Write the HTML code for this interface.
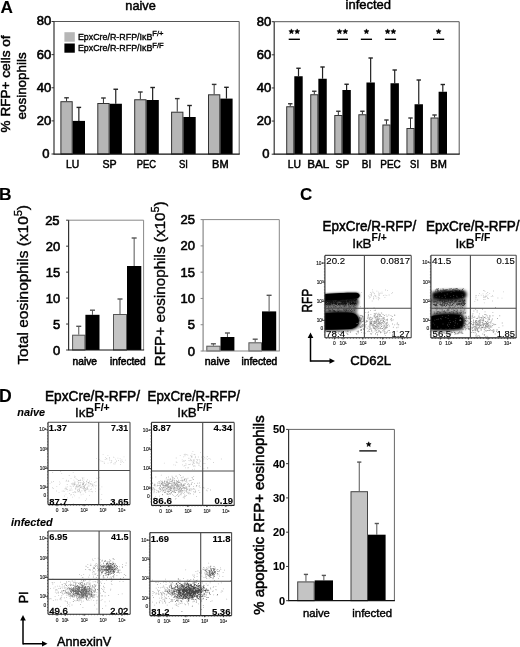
<!DOCTYPE html>
<html><head><meta charset="utf-8"><style>
html,body{margin:0;padding:0;background:#fff;overflow:hidden;}
text{stroke:#000;stroke-width:0.35px;}
text[font-weight=bold]{stroke-width:0.1px;}
svg{display:block;filter:grayscale(1) blur(0.4px);font-family:"Liberation Sans",sans-serif;}
</style></head><body>
<svg width="520" height="647" viewBox="0 0 520 647">
<defs><filter id="bl" x="-50%" y="-50%" width="200%" height="200%"><feGaussianBlur stdDeviation="1.1"/></filter><filter id="bl2" x="-50%" y="-50%" width="200%" height="200%"><feGaussianBlur stdDeviation="1.6"/></filter><linearGradient id="g1" x1="0" y1="0" x2="0" y2="1"><stop offset="0" stop-color="#111"/><stop offset="0.3" stop-color="#3a3a3a"/><stop offset="0.62" stop-color="#8a8a8a"/><stop offset="1" stop-color="#888"/></linearGradient><linearGradient id="g2" x1="0" y1="0" x2="0" y2="1"><stop offset="0" stop-color="#555"/><stop offset="0.35" stop-color="#999"/><stop offset="0.7" stop-color="#bbb"/><stop offset="1" stop-color="#aaa"/></linearGradient><clipPath id="c1"><rect x="324.9" y="255.4" width="86.30000000000001" height="82.4"/></clipPath><clipPath id="c2"><rect x="430.9" y="255.3" width="85.30000000000007" height="82.59999999999997"/></clipPath><clipPath id="c3"><rect x="48.0" y="422.3" width="82.0" height="82.30000000000001"/></clipPath><clipPath id="c4"><rect x="151.5" y="422.4" width="82.69999999999999" height="83.0"/></clipPath><clipPath id="c5"><rect x="48.0" y="531.0" width="82.19999999999999" height="83.20000000000005"/></clipPath><clipPath id="c6"><rect x="149.9" y="532.6" width="81.69999999999999" height="83.0"/></clipPath></defs>
<rect width="520" height="647" fill="#fff"/>
<text x="0.4" y="13.4" font-size="17.2" font-weight="bold">A</text>
<text x="125.3" y="9.8" font-size="13.4" textLength="30.5" lengthAdjust="spacingAndGlyphs" style="stroke-width:0.48px">naive</text>
<text x="345.5" y="9.2" font-size="13.4" textLength="45.6" lengthAdjust="spacingAndGlyphs" style="stroke-width:0.48px">infected</text>
<text transform="translate(10.2,132.4) rotate(-90)" font-size="13.6" textLength="97" lengthAdjust="spacingAndGlyphs" style="stroke-width:0.49px">% RFP+ cells of</text>
<text transform="translate(25.8,119.4) rotate(-90)" font-size="13.6" textLength="67" lengthAdjust="spacingAndGlyphs" style="stroke-width:0.49px">eosinophils</text>
<line x1="66.55000000000001" y1="101.2" x2="66.55000000000001" y2="97.8" stroke="#333" stroke-width="1"/>
<line x1="64.25000000000001" y1="97.8" x2="68.85000000000001" y2="97.8" stroke="#333" stroke-width="1.4"/>
<rect x="60.900000000000006" y="101.7" width="11.299999999999997" height="52.3" fill="#b6b6b6" stroke="#333" stroke-width="1"/>
<line x1="78.85" y1="120.9" x2="78.85" y2="107.4" stroke="#222" stroke-width="1.2"/>
<line x1="76.55" y1="107.4" x2="81.14999999999999" y2="107.4" stroke="#222" stroke-width="1.4"/>
<rect x="72.7" y="120.9" width="12.299999999999997" height="33.099999999999994" fill="#000"/>
<line x1="103.44999999999999" y1="103" x2="103.44999999999999" y2="98" stroke="#333" stroke-width="1"/>
<line x1="101.14999999999999" y1="98" x2="105.74999999999999" y2="98" stroke="#333" stroke-width="1.4"/>
<rect x="97.8" y="103.5" width="11.299999999999997" height="50.5" fill="#b6b6b6" stroke="#333" stroke-width="1"/>
<line x1="115.75" y1="103.75" x2="115.75" y2="89.25" stroke="#222" stroke-width="1.2"/>
<line x1="113.45" y1="89.25" x2="118.05" y2="89.25" stroke="#222" stroke-width="1.4"/>
<rect x="109.6" y="103.75" width="12.299999999999997" height="50.25" fill="#000"/>
<line x1="140.35" y1="99.25" x2="140.35" y2="92" stroke="#333" stroke-width="1"/>
<line x1="138.04999999999998" y1="92" x2="142.65" y2="92" stroke="#333" stroke-width="1.4"/>
<rect x="134.7" y="99.75" width="11.300000000000011" height="54.25" fill="#b6b6b6" stroke="#333" stroke-width="1"/>
<line x1="152.65" y1="100" x2="152.65" y2="87.5" stroke="#222" stroke-width="1.2"/>
<line x1="150.35" y1="87.5" x2="154.95000000000002" y2="87.5" stroke="#222" stroke-width="1.4"/>
<rect x="146.5" y="100" width="12.300000000000011" height="54" fill="#000"/>
<line x1="177.24999999999997" y1="111.7" x2="177.24999999999997" y2="98.6" stroke="#333" stroke-width="1"/>
<line x1="174.94999999999996" y1="98.6" x2="179.54999999999998" y2="98.6" stroke="#333" stroke-width="1.4"/>
<rect x="171.59999999999997" y="112.2" width="11.300000000000011" height="41.8" fill="#b6b6b6" stroke="#333" stroke-width="1"/>
<line x1="189.54999999999998" y1="117" x2="189.54999999999998" y2="105.5" stroke="#222" stroke-width="1.2"/>
<line x1="187.24999999999997" y1="105.5" x2="191.85" y2="105.5" stroke="#222" stroke-width="1.4"/>
<rect x="183.39999999999998" y="117" width="12.300000000000011" height="37" fill="#000"/>
<line x1="214.15" y1="94.3" x2="214.15" y2="84.4" stroke="#333" stroke-width="1"/>
<line x1="211.85" y1="84.4" x2="216.45000000000002" y2="84.4" stroke="#333" stroke-width="1.4"/>
<rect x="208.5" y="94.8" width="11.300000000000011" height="59.2" fill="#b6b6b6" stroke="#333" stroke-width="1"/>
<line x1="226.45000000000002" y1="98.6" x2="226.45000000000002" y2="87.3" stroke="#222" stroke-width="1.2"/>
<line x1="224.15" y1="87.3" x2="228.75000000000003" y2="87.3" stroke="#222" stroke-width="1.4"/>
<rect x="220.3" y="98.6" width="12.300000000000011" height="55.400000000000006" fill="#000"/>
<line x1="54" y1="21.5" x2="239.2" y2="21.5" stroke="#555" stroke-width="1"/>
<line x1="239.2" y1="21.5" x2="239.2" y2="154.2" stroke="#555" stroke-width="1"/>
<line x1="54" y1="21.5" x2="54" y2="154.2" stroke="#333" stroke-width="1.2"/>
<line x1="53.5" y1="154.2" x2="239.7" y2="154.2" stroke="#111" stroke-width="1.2"/>
<line x1="51.5" y1="154.0" x2="54" y2="154.0" stroke="#333" stroke-width="1"/>
<line x1="51.5" y1="120.875" x2="54" y2="120.875" stroke="#333" stroke-width="1"/>
<line x1="51.5" y1="87.75" x2="54" y2="87.75" stroke="#333" stroke-width="1"/>
<line x1="51.5" y1="54.625" x2="54" y2="54.625" stroke="#333" stroke-width="1"/>
<line x1="51.5" y1="21.5" x2="54" y2="21.5" stroke="#333" stroke-width="1"/>
<text x="49.5" y="157.9" font-size="13" text-anchor="end" style="stroke-width:0.6px">0</text>
<text x="51.2" y="124.775" font-size="13" text-anchor="end" style="stroke-width:0.6px">20</text>
<text x="51.2" y="91.65" font-size="13" text-anchor="end" style="stroke-width:0.6px">40</text>
<text x="51.2" y="58.525" font-size="13" text-anchor="end" style="stroke-width:0.6px">60</text>
<text x="51.2" y="25.4" font-size="13" text-anchor="end" style="stroke-width:0.6px">80</text>
<text x="72.7" y="167.8" font-size="11.2" text-anchor="middle" textLength="13.2" lengthAdjust="spacingAndGlyphs" style="stroke-width:0.5px">LU</text>
<text x="109.6" y="167.8" font-size="11.2" text-anchor="middle" textLength="14.2" lengthAdjust="spacingAndGlyphs" style="stroke-width:0.5px">SP</text>
<text x="146.5" y="167.8" font-size="11.2" text-anchor="middle" textLength="19.3" lengthAdjust="spacingAndGlyphs" style="stroke-width:0.5px">PEC</text>
<text x="183.39999999999998" y="167.8" font-size="11.2" text-anchor="middle" textLength="9" lengthAdjust="spacingAndGlyphs" style="stroke-width:0.5px">SI</text>
<text x="220.3" y="167.8" font-size="11.2" text-anchor="middle" textLength="16.5" lengthAdjust="spacingAndGlyphs" style="stroke-width:0.5px">BM</text>
<rect x="64.4" y="32.2" width="10.4" height="9.5" fill="#b6b6b6"/>
<rect x="64.4" y="43.5" width="10.4" height="9.2" fill="#000"/>
<text x="77.9" y="39.5" font-size="8.9">EpxCre/R-RFP/I&#954;B<tspan dy="-3.1" font-size="7.6">F/+</tspan></text>
<text x="77.9" y="51.1" font-size="8.9">EpxCre/R-RFP/I&#954;B<tspan dy="-3.1" font-size="7.6">F/F</tspan></text>
<line x1="290.25" y1="106.25" x2="290.25" y2="103.75" stroke="#333" stroke-width="1"/>
<line x1="288.05" y1="103.75" x2="292.45" y2="103.75" stroke="#333" stroke-width="1.4"/>
<rect x="286.7" y="106.75" width="7.100000000000023" height="47.25" fill="#b6b6b6" stroke="#333" stroke-width="1"/>
<line x1="298.5" y1="76.25" x2="298.5" y2="68.25" stroke="#222" stroke-width="1.2"/>
<line x1="296.3" y1="68.25" x2="300.7" y2="68.25" stroke="#222" stroke-width="1.4"/>
<rect x="294.3" y="76.25" width="8.399999999999977" height="77.75" fill="#000"/>
<line x1="314.3" y1="94.25" x2="314.3" y2="91.25" stroke="#333" stroke-width="1"/>
<line x1="312.1" y1="91.25" x2="316.5" y2="91.25" stroke="#333" stroke-width="1.4"/>
<rect x="310.75" y="94.75" width="7.100000000000023" height="59.25" fill="#b6b6b6" stroke="#333" stroke-width="1"/>
<line x1="322.55" y1="78.75" x2="322.55" y2="67" stroke="#222" stroke-width="1.2"/>
<line x1="320.35" y1="67" x2="324.75" y2="67" stroke="#222" stroke-width="1.4"/>
<rect x="318.35" y="78.75" width="8.399999999999977" height="75.25" fill="#000"/>
<line x1="338.35" y1="115" x2="338.35" y2="111.25" stroke="#333" stroke-width="1"/>
<line x1="336.15000000000003" y1="111.25" x2="340.55" y2="111.25" stroke="#333" stroke-width="1.4"/>
<rect x="334.8" y="115.5" width="7.100000000000023" height="38.5" fill="#b6b6b6" stroke="#333" stroke-width="1"/>
<line x1="346.6" y1="90" x2="346.6" y2="84.25" stroke="#222" stroke-width="1.2"/>
<line x1="344.40000000000003" y1="84.25" x2="348.8" y2="84.25" stroke="#222" stroke-width="1.4"/>
<rect x="342.40000000000003" y="90" width="8.399999999999977" height="64" fill="#000"/>
<line x1="362.40000000000003" y1="114.25" x2="362.40000000000003" y2="111.25" stroke="#333" stroke-width="1"/>
<line x1="360.20000000000005" y1="111.25" x2="364.6" y2="111.25" stroke="#333" stroke-width="1.4"/>
<rect x="358.85" y="114.75" width="7.100000000000023" height="39.25" fill="#b6b6b6" stroke="#333" stroke-width="1"/>
<line x1="370.65000000000003" y1="82.5" x2="370.65000000000003" y2="58" stroke="#222" stroke-width="1.2"/>
<line x1="368.45000000000005" y1="58" x2="372.85" y2="58" stroke="#222" stroke-width="1.4"/>
<rect x="366.45000000000005" y="82.5" width="8.399999999999977" height="71.5" fill="#000"/>
<line x1="386.45" y1="124.5" x2="386.45" y2="120" stroke="#333" stroke-width="1"/>
<line x1="384.25" y1="120" x2="388.65" y2="120" stroke="#333" stroke-width="1.4"/>
<rect x="382.9" y="125.0" width="7.100000000000023" height="29.0" fill="#b6b6b6" stroke="#333" stroke-width="1"/>
<line x1="394.7" y1="83.25" x2="394.7" y2="70" stroke="#222" stroke-width="1.2"/>
<line x1="392.5" y1="70" x2="396.9" y2="70" stroke="#222" stroke-width="1.4"/>
<rect x="390.5" y="83.25" width="8.399999999999977" height="70.75" fill="#000"/>
<line x1="410.5" y1="128" x2="410.5" y2="118" stroke="#333" stroke-width="1"/>
<line x1="408.3" y1="118" x2="412.7" y2="118" stroke="#333" stroke-width="1.4"/>
<rect x="406.95" y="128.5" width="7.100000000000023" height="25.5" fill="#b6b6b6" stroke="#333" stroke-width="1"/>
<line x1="418.75" y1="104.25" x2="418.75" y2="80" stroke="#222" stroke-width="1.2"/>
<line x1="416.55" y1="80" x2="420.95" y2="80" stroke="#222" stroke-width="1.4"/>
<rect x="414.55" y="104.25" width="8.399999999999977" height="49.75" fill="#000"/>
<line x1="434.55" y1="117.5" x2="434.55" y2="115" stroke="#333" stroke-width="1"/>
<line x1="432.35" y1="115" x2="436.75" y2="115" stroke="#333" stroke-width="1.4"/>
<rect x="431.0" y="118.0" width="7.100000000000023" height="36.0" fill="#b6b6b6" stroke="#333" stroke-width="1"/>
<line x1="442.8" y1="91.75" x2="442.8" y2="84.5" stroke="#222" stroke-width="1.2"/>
<line x1="440.6" y1="84.5" x2="445.0" y2="84.5" stroke="#222" stroke-width="1.4"/>
<rect x="438.6" y="91.75" width="8.399999999999977" height="62.25" fill="#000"/>
<line x1="274.2" y1="21.7" x2="459.2" y2="21.7" stroke="#555" stroke-width="1"/>
<line x1="459.2" y1="21.7" x2="459.2" y2="154.2" stroke="#555" stroke-width="1"/>
<line x1="274.2" y1="21.7" x2="274.2" y2="154.2" stroke="#333" stroke-width="1.2"/>
<line x1="273.7" y1="154.2" x2="459.7" y2="154.2" stroke="#111" stroke-width="1.2"/>
<line x1="271.7" y1="154.2" x2="274.2" y2="154.2" stroke="#333" stroke-width="1"/>
<line x1="271.7" y1="121.07499999999999" x2="274.2" y2="121.07499999999999" stroke="#333" stroke-width="1"/>
<line x1="271.7" y1="87.94999999999999" x2="274.2" y2="87.94999999999999" stroke="#333" stroke-width="1"/>
<line x1="271.7" y1="54.82499999999999" x2="274.2" y2="54.82499999999999" stroke="#333" stroke-width="1"/>
<line x1="271.7" y1="21.69999999999999" x2="274.2" y2="21.69999999999999" stroke="#333" stroke-width="1"/>
<text x="269.5" y="158.1" font-size="13" text-anchor="end" style="stroke-width:0.6px">0</text>
<text x="271.2" y="124.975" font-size="13" text-anchor="end" style="stroke-width:0.6px">20</text>
<text x="271.2" y="91.85" font-size="13" text-anchor="end" style="stroke-width:0.6px">40</text>
<text x="271.2" y="58.72499999999999" font-size="13" text-anchor="end" style="stroke-width:0.6px">60</text>
<text x="271.2" y="25.599999999999987" font-size="13" text-anchor="end" style="stroke-width:0.6px">80</text>
<text x="294.3" y="167.6" font-size="11.2" text-anchor="middle" textLength="13.2" lengthAdjust="spacingAndGlyphs" style="stroke-width:0.5px">LU</text>
<text x="318.35" y="167.6" font-size="11.2" text-anchor="middle" textLength="22" lengthAdjust="spacingAndGlyphs" style="stroke-width:0.5px">BAL</text>
<text x="342.40000000000003" y="167.6" font-size="11.2" text-anchor="middle" textLength="13.6" lengthAdjust="spacingAndGlyphs" style="stroke-width:0.5px">SP</text>
<text x="366.45000000000005" y="167.6" font-size="11.2" text-anchor="middle" textLength="9.5" lengthAdjust="spacingAndGlyphs" style="stroke-width:0.5px">BI</text>
<text x="390.5" y="167.6" font-size="11.2" text-anchor="middle" textLength="20.5" lengthAdjust="spacingAndGlyphs" style="stroke-width:0.5px">PEC</text>
<text x="414.55" y="167.6" font-size="11.2" text-anchor="middle" textLength="9" lengthAdjust="spacingAndGlyphs" style="stroke-width:0.5px">SI</text>
<text x="438.6" y="167.6" font-size="11.2" text-anchor="middle" textLength="16.5" lengthAdjust="spacingAndGlyphs" style="stroke-width:0.5px">BM</text>
<polygon points="291.40,28.90 292.13,30.59 293.97,30.77 292.59,31.99 292.99,33.78 291.40,32.85 289.81,33.78 290.21,31.99 288.83,30.77 290.67,30.59" fill="#000" stroke="#000" stroke-width="0.5" stroke-linejoin="round"/>
<polygon points="297.20,28.90 297.93,30.59 299.77,30.77 298.39,31.99 298.79,33.78 297.20,32.85 295.61,33.78 296.01,31.99 294.63,30.77 296.47,30.59" fill="#000" stroke="#000" stroke-width="0.5" stroke-linejoin="round"/>
<line x1="288.7" y1="39.3" x2="299.90000000000003" y2="39.3" stroke="#000" stroke-width="1.4"/>
<polygon points="339.50,28.90 340.23,30.59 342.07,30.77 340.69,31.99 341.09,33.78 339.50,32.85 337.91,33.78 338.31,31.99 336.93,30.77 338.77,30.59" fill="#000" stroke="#000" stroke-width="0.5" stroke-linejoin="round"/>
<polygon points="345.30,28.90 346.03,30.59 347.87,30.77 346.49,31.99 346.89,33.78 345.30,32.85 343.71,33.78 344.11,31.99 342.73,30.77 344.57,30.59" fill="#000" stroke="#000" stroke-width="0.5" stroke-linejoin="round"/>
<line x1="336.8" y1="39.3" x2="348.00000000000006" y2="39.3" stroke="#000" stroke-width="1.4"/>
<polygon points="366.45,28.90 367.18,30.59 369.02,30.77 367.64,31.99 368.04,33.78 366.45,32.85 364.86,33.78 365.26,31.99 363.88,30.77 365.72,30.59" fill="#000" stroke="#000" stroke-width="0.5" stroke-linejoin="round"/>
<line x1="360.85" y1="39.3" x2="372.05000000000007" y2="39.3" stroke="#000" stroke-width="1.4"/>
<polygon points="387.60,28.90 388.33,30.59 390.17,30.77 388.79,31.99 389.19,33.78 387.60,32.85 386.01,33.78 386.41,31.99 385.03,30.77 386.87,30.59" fill="#000" stroke="#000" stroke-width="0.5" stroke-linejoin="round"/>
<polygon points="393.40,28.90 394.13,30.59 395.97,30.77 394.59,31.99 394.99,33.78 393.40,32.85 391.81,33.78 392.21,31.99 390.83,30.77 392.67,30.59" fill="#000" stroke="#000" stroke-width="0.5" stroke-linejoin="round"/>
<line x1="384.9" y1="39.3" x2="396.1" y2="39.3" stroke="#000" stroke-width="1.4"/>
<polygon points="438.60,28.90 439.33,30.59 441.17,30.77 439.79,31.99 440.19,33.78 438.60,32.85 437.01,33.78 437.41,31.99 436.03,30.77 437.87,30.59" fill="#000" stroke="#000" stroke-width="0.5" stroke-linejoin="round"/>
<line x1="433.0" y1="39.3" x2="444.20000000000005" y2="39.3" stroke="#000" stroke-width="1.4"/>
<text x="-1.0" y="200.3" font-size="17.4" font-weight="bold">B</text>
<line x1="78.75" y1="334.7" x2="78.75" y2="326.3" stroke="#555" stroke-width="1"/>
<line x1="76.25" y1="326.3" x2="81.25" y2="326.3" stroke="#555" stroke-width="1.4"/>
<rect x="72.6" y="335.2" width="12.300000000000011" height="14.800000000000011" fill="#c4c4c4" stroke="#555" stroke-width="1"/>
<line x1="92.45" y1="314.8" x2="92.45" y2="310.2" stroke="#555" stroke-width="1"/>
<line x1="89.95" y1="310.2" x2="94.95" y2="310.2" stroke="#555" stroke-width="1.4"/>
<rect x="85.4" y="314.8" width="14.099999999999994" height="35.19999999999999" fill="#000"/>
<line x1="120.0" y1="314" x2="120.0" y2="299" stroke="#555" stroke-width="1"/>
<line x1="117.5" y1="299" x2="122.5" y2="299" stroke="#555" stroke-width="1.4"/>
<rect x="113.5" y="314.5" width="13" height="35.5" fill="#c4c4c4" stroke="#555" stroke-width="1"/>
<line x1="134.15" y1="266" x2="134.15" y2="238" stroke="#555" stroke-width="1"/>
<line x1="131.65" y1="238" x2="136.65" y2="238" stroke="#555" stroke-width="1.4"/>
<rect x="127" y="266" width="14.300000000000011" height="84" fill="#000"/>
<line x1="68.6" y1="220.2" x2="143.6" y2="220.2" stroke="#888" stroke-width="1"/>
<line x1="143.6" y1="220.2" x2="143.6" y2="350" stroke="#888" stroke-width="1"/>
<line x1="68.6" y1="220.2" x2="68.6" y2="350" stroke="#333" stroke-width="1.2"/>
<line x1="68.1" y1="350" x2="144.1" y2="350" stroke="#111" stroke-width="1.2"/>
<line x1="66.1" y1="350.0" x2="68.6" y2="350.0" stroke="#333" stroke-width="1"/>
<line x1="66.1" y1="324.04" x2="68.6" y2="324.04" stroke="#333" stroke-width="1"/>
<line x1="66.1" y1="298.08" x2="68.6" y2="298.08" stroke="#333" stroke-width="1"/>
<line x1="66.1" y1="272.12" x2="68.6" y2="272.12" stroke="#333" stroke-width="1"/>
<line x1="66.1" y1="246.16" x2="68.6" y2="246.16" stroke="#333" stroke-width="1"/>
<line x1="66.1" y1="220.2" x2="68.6" y2="220.2" stroke="#333" stroke-width="1"/>
<text x="60.2" y="354.8" font-size="13" text-anchor="end" style="stroke-width:0.6px">0</text>
<text x="60.2" y="328.84000000000003" font-size="13" text-anchor="end" style="stroke-width:0.6px">5</text>
<text x="60.2" y="302.88" font-size="13" text-anchor="end" style="stroke-width:0.6px">10</text>
<text x="60.2" y="276.92" font-size="13" text-anchor="end" style="stroke-width:0.6px">15</text>
<text x="60.2" y="250.96" font-size="13" text-anchor="end" style="stroke-width:0.6px">20</text>
<text x="59.6" y="225.0" font-size="13" text-anchor="end" style="stroke-width:0.6px">25</text>
<text x="72.6" y="365.1" font-size="10.5" textLength="24.4" lengthAdjust="spacingAndGlyphs" style="stroke-width:0.55px">naive</text>
<text x="110" y="365.1" font-size="10.5" textLength="35.6" lengthAdjust="spacingAndGlyphs" style="stroke-width:0.55px">infected</text>
<text transform="translate(27.8,364.6) rotate(-90)" font-size="14" textLength="159.6" lengthAdjust="spacingAndGlyphs">Total eosinophils (x10<tspan dy="-6.2" font-size="10">5</tspan><tspan dy="6.2">)</tspan></text>
<line x1="213.4" y1="345.7" x2="213.4" y2="343.8" stroke="#555" stroke-width="1"/>
<line x1="210.9" y1="343.8" x2="215.9" y2="343.8" stroke="#555" stroke-width="1.4"/>
<rect x="206.8" y="346.2" width="13.199999999999989" height="4.800000000000011" fill="#c4c4c4" stroke="#555" stroke-width="1"/>
<line x1="227.45" y1="337" x2="227.45" y2="333" stroke="#555" stroke-width="1"/>
<line x1="224.95" y1="333" x2="229.95" y2="333" stroke="#555" stroke-width="1.4"/>
<rect x="220.5" y="337" width="13.900000000000006" height="14" fill="#000"/>
<line x1="255.2" y1="342.3" x2="255.2" y2="339.2" stroke="#555" stroke-width="1"/>
<line x1="252.7" y1="339.2" x2="257.7" y2="339.2" stroke="#555" stroke-width="1.4"/>
<rect x="248.9" y="342.8" width="12.599999999999994" height="8.199999999999989" fill="#c4c4c4" stroke="#555" stroke-width="1"/>
<line x1="269.1" y1="311.4" x2="269.1" y2="295.3" stroke="#555" stroke-width="1"/>
<line x1="266.6" y1="295.3" x2="271.6" y2="295.3" stroke="#555" stroke-width="1.4"/>
<rect x="262" y="311.4" width="14.199999999999989" height="39.60000000000002" fill="#000"/>
<line x1="203.1" y1="219.6" x2="279.3" y2="219.6" stroke="#888" stroke-width="1"/>
<line x1="279.3" y1="219.6" x2="279.3" y2="351" stroke="#888" stroke-width="1"/>
<line x1="203.1" y1="219.6" x2="203.1" y2="351" stroke="#888" stroke-width="1.2"/>
<line x1="202.6" y1="351" x2="279.8" y2="351" stroke="#888" stroke-width="1.2"/>
<line x1="200.6" y1="351.0" x2="203.1" y2="351.0" stroke="#888" stroke-width="1"/>
<line x1="200.6" y1="324.72" x2="203.1" y2="324.72" stroke="#888" stroke-width="1"/>
<line x1="200.6" y1="298.44" x2="203.1" y2="298.44" stroke="#888" stroke-width="1"/>
<line x1="200.6" y1="272.15999999999997" x2="203.1" y2="272.15999999999997" stroke="#888" stroke-width="1"/>
<line x1="200.6" y1="245.88" x2="203.1" y2="245.88" stroke="#888" stroke-width="1"/>
<line x1="200.6" y1="219.6" x2="203.1" y2="219.6" stroke="#888" stroke-width="1"/>
<text x="194.9" y="355.6" font-size="13" text-anchor="end" style="stroke-width:0.6px">0</text>
<text x="194.9" y="329.32000000000005" font-size="13" text-anchor="end" style="stroke-width:0.6px">5</text>
<text x="194.9" y="303.04" font-size="13" text-anchor="end" style="stroke-width:0.6px">10</text>
<text x="194.9" y="276.76" font-size="13" text-anchor="end" style="stroke-width:0.6px">15</text>
<text x="194.9" y="250.48" font-size="13" text-anchor="end" style="stroke-width:0.6px">20</text>
<text x="194.9" y="224.2" font-size="13" text-anchor="end" style="stroke-width:0.6px">25</text>
<text x="204.8" y="365.2" font-size="10.5" textLength="25.0" lengthAdjust="spacingAndGlyphs" style="stroke-width:0.55px">naive</text>
<text x="241.6" y="365.2" font-size="10.5" textLength="35.6" lengthAdjust="spacingAndGlyphs" style="stroke-width:0.55px">infected</text>
<text transform="translate(165.0,366.2) rotate(-90)" font-size="14" textLength="164.8" lengthAdjust="spacingAndGlyphs">RFP+ eosinophils (x10<tspan dy="-6.2" font-size="10">5</tspan><tspan dy="6.2">)</tspan></text>
<text x="299.9" y="200.4" font-size="17" font-weight="bold">C</text>
<text x="322.6" y="231.4" font-size="13.8" textLength="93.6" lengthAdjust="spacingAndGlyphs" style="stroke-width:0.50px">EpxCre/R-RFP/</text>
<text x="352.2" y="247.70000000000002" font-size="13.4">I&#954;B<tspan dy="-6.5" font-size="10.4" font-weight="bold" style="stroke-width:0.1px">F/+</tspan></text>
<text x="425.9" y="231.4" font-size="13.8" textLength="93.6" lengthAdjust="spacingAndGlyphs" style="stroke-width:0.50px">EpxCre/R-RFP/</text>
<text x="455.4" y="247.9" font-size="13.4">I&#954;B<tspan dy="-6.5" font-size="10.4" font-weight="bold" style="stroke-width:0.1px">F/F</tspan></text>
<g clip-path="url(#c1)">
<path d="M320 298 L357 297 L359 302 L357 313 L320 313 Z" fill="url(#g1)" filter="url(#bl)"/>
<path d="M344.0 299.0h0.9v0.9h-0.9zM352.7 303.1h0.9v0.9h-0.9zM348.8 299.3h0.9v0.9h-0.9zM331.2 299.3h0.9v0.9h-0.9zM333.6 299.3h0.9v0.9h-0.9zM352.0 299.0h0.9v0.9h-0.9zM324.2 303.9h0.9v0.9h-0.9zM350.3 300.1h0.9v0.9h-0.9zM349.5 300.3h0.9v0.9h-0.9zM339.0 303.5h0.9v0.9h-0.9zM333.7 302.2h0.9v0.9h-0.9zM332.9 299.6h0.9v0.9h-0.9zM332.2 301.1h0.9v0.9h-0.9zM338.2 303.8h0.9v0.9h-0.9zM340.1 300.8h0.9v0.9h-0.9zM341.7 302.8h0.9v0.9h-0.9zM355.9 299.1h0.9v0.9h-0.9zM349.4 302.9h0.9v0.9h-0.9zM343.9 303.2h0.9v0.9h-0.9zM355.6 303.5h0.9v0.9h-0.9zM330.9 302.5h0.9v0.9h-0.9zM329.1 300.7h0.9v0.9h-0.9zM343.6 298.9h0.9v0.9h-0.9zM325.4 301.6h0.9v0.9h-0.9zM325.1 303.0h0.9v0.9h-0.9zM340.5 299.6h0.9v0.9h-0.9zM338.9 300.1h0.9v0.9h-0.9zM353.3 301.7h0.9v0.9h-0.9zM344.1 303.0h0.9v0.9h-0.9zM340.5 303.9h0.9v0.9h-0.9zM339.9 299.3h0.9v0.9h-0.9zM331.9 299.6h0.9v0.9h-0.9zM324.4 303.3h0.9v0.9h-0.9zM330.2 302.4h0.9v0.9h-0.9zM346.1 302.8h0.9v0.9h-0.9zM330.4 304.5h0.9v0.9h-0.9zM335.8 304.1h0.9v0.9h-0.9zM324.1 303.6h0.9v0.9h-0.9zM350.6 303.2h0.9v0.9h-0.9zM328.9 300.9h0.9v0.9h-0.9zM332.6 302.3h0.9v0.9h-0.9zM352.2 299.6h0.9v0.9h-0.9zM340.3 303.1h0.9v0.9h-0.9zM351.1 303.0h0.9v0.9h-0.9zM344.5 302.8h0.9v0.9h-0.9zM347.7 301.2h0.9v0.9h-0.9zM326.9 300.8h0.9v0.9h-0.9zM341.3 301.0h0.9v0.9h-0.9zM340.2 298.7h0.9v0.9h-0.9zM351.9 303.6h0.9v0.9h-0.9zM335.6 301.8h0.9v0.9h-0.9zM343.1 300.8h0.9v0.9h-0.9zM325.9 301.8h0.9v0.9h-0.9zM336.4 302.8h0.9v0.9h-0.9zM334.3 300.8h0.9v0.9h-0.9zM328.8 303.5h0.9v0.9h-0.9zM350.1 304.0h0.9v0.9h-0.9zM336.1 300.8h0.9v0.9h-0.9zM355.3 299.3h0.9v0.9h-0.9zM342.9 303.1h0.9v0.9h-0.9zM343.4 304.5h0.9v0.9h-0.9zM344.4 299.4h0.9v0.9h-0.9zM345.6 302.8h0.9v0.9h-0.9zM328.8 303.5h0.9v0.9h-0.9zM338.1 304.0h0.9v0.9h-0.9zM331.7 299.2h0.9v0.9h-0.9zM336.9 299.1h0.9v0.9h-0.9zM327.1 304.4h0.9v0.9h-0.9zM355.0 299.2h0.9v0.9h-0.9zM330.9 299.6h0.9v0.9h-0.9zM345.5 301.9h0.9v0.9h-0.9zM333.6 301.2h0.9v0.9h-0.9zM352.0 303.0h0.9v0.9h-0.9zM345.2 299.6h0.9v0.9h-0.9zM328.2 304.0h0.9v0.9h-0.9zM351.0 299.8h0.9v0.9h-0.9zM354.2 303.1h0.9v0.9h-0.9zM352.9 298.9h0.9v0.9h-0.9zM342.2 301.3h0.9v0.9h-0.9zM328.7 298.7h0.9v0.9h-0.9zM330.2 300.4h0.9v0.9h-0.9zM353.7 300.4h0.9v0.9h-0.9zM341.7 302.8h0.9v0.9h-0.9zM329.8 301.2h0.9v0.9h-0.9zM352.3 298.8h0.9v0.9h-0.9zM344.5 304.5h0.9v0.9h-0.9zM342.2 303.8h0.9v0.9h-0.9zM336.0 304.0h0.9v0.9h-0.9zM337.2 300.0h0.9v0.9h-0.9zM331.7 300.9h0.9v0.9h-0.9zM325.2 299.9h0.9v0.9h-0.9zM352.0 299.2h0.9v0.9h-0.9zM339.0 298.7h0.9v0.9h-0.9zM341.5 301.5h0.9v0.9h-0.9zM334.3 299.2h0.9v0.9h-0.9zM348.0 299.6h0.9v0.9h-0.9zM324.8 303.7h0.9v0.9h-0.9zM335.9 301.4h0.9v0.9h-0.9zM325.0 299.6h0.9v0.9h-0.9zM327.9 302.5h0.9v0.9h-0.9zM354.9 300.1h0.9v0.9h-0.9zM345.0 301.7h0.9v0.9h-0.9zM337.7 300.2h0.9v0.9h-0.9zM340.8 301.6h0.9v0.9h-0.9zM351.9 302.3h0.9v0.9h-0.9zM335.0 301.7h0.9v0.9h-0.9zM342.9 300.9h0.9v0.9h-0.9zM345.9 303.2h0.9v0.9h-0.9zM335.4 303.7h0.9v0.9h-0.9zM340.6 299.6h0.9v0.9h-0.9zM348.5 299.3h0.9v0.9h-0.9zM353.1 299.2h0.9v0.9h-0.9zM328.8 304.4h0.9v0.9h-0.9zM353.9 304.1h0.9v0.9h-0.9zM324.2 299.9h0.9v0.9h-0.9zM348.1 304.3h0.9v0.9h-0.9zM349.9 299.7h0.9v0.9h-0.9zM328.4 301.5h0.9v0.9h-0.9zM337.4 301.5h0.9v0.9h-0.9zM350.1 304.0h0.9v0.9h-0.9zM324.5 298.7h0.9v0.9h-0.9zM344.1 300.4h0.9v0.9h-0.9zM349.4 302.1h0.9v0.9h-0.9zM340.4 298.9h0.9v0.9h-0.9zM347.2 299.9h0.9v0.9h-0.9zM331.2 301.3h0.9v0.9h-0.9zM330.4 303.8h0.9v0.9h-0.9zM335.6 303.1h0.9v0.9h-0.9zM329.7 303.5h0.9v0.9h-0.9zM335.1 303.1h0.9v0.9h-0.9zM354.3 302.7h0.9v0.9h-0.9zM342.3 303.6h0.9v0.9h-0.9zM334.9 302.6h0.9v0.9h-0.9zM332.7 302.9h0.9v0.9h-0.9zM354.5 300.3h0.9v0.9h-0.9zM338.2 299.5h0.9v0.9h-0.9zM355.4 303.0h0.9v0.9h-0.9zM340.5 299.5h0.9v0.9h-0.9zM340.7 304.0h0.9v0.9h-0.9zM352.7 302.1h0.9v0.9h-0.9zM347.8 300.5h0.9v0.9h-0.9zM342.6 304.1h0.9v0.9h-0.9zM337.7 299.4h0.9v0.9h-0.9zM352.1 301.6h0.9v0.9h-0.9zM337.2 299.0h0.9v0.9h-0.9zM353.5 304.3h0.9v0.9h-0.9zM326.2 302.0h0.9v0.9h-0.9zM337.8 303.3h0.9v0.9h-0.9zM340.6 300.2h0.9v0.9h-0.9zM354.4 303.3h0.9v0.9h-0.9zM332.0 302.7h0.9v0.9h-0.9zM349.8 302.4h0.9v0.9h-0.9zM345.6 304.2h0.9v0.9h-0.9zM346.9 301.1h0.9v0.9h-0.9zM344.1 301.0h0.9v0.9h-0.9zM355.1 302.7h0.9v0.9h-0.9zM334.6 303.5h0.9v0.9h-0.9zM336.7 300.5h0.9v0.9h-0.9zM330.5 302.5h0.9v0.9h-0.9zM325.6 299.8h0.9v0.9h-0.9zM330.8 301.8h0.9v0.9h-0.9zM353.3 303.1h0.9v0.9h-0.9zM350.9 298.9h0.9v0.9h-0.9zM327.6 302.9h0.9v0.9h-0.9zM343.3 298.6h0.9v0.9h-0.9zM339.3 304.3h0.9v0.9h-0.9zM343.0 301.3h0.9v0.9h-0.9zM345.1 301.0h0.9v0.9h-0.9zM333.8 302.8h0.9v0.9h-0.9zM354.8 301.6h0.9v0.9h-0.9zM338.9 302.9h0.9v0.9h-0.9zM344.1 299.0h0.9v0.9h-0.9zM344.3 301.9h0.9v0.9h-0.9zM329.9 301.8h0.9v0.9h-0.9zM326.0 304.1h0.9v0.9h-0.9zM337.2 298.7h0.9v0.9h-0.9zM348.4 301.2h0.9v0.9h-0.9zM350.1 302.3h0.9v0.9h-0.9zM347.4 301.8h0.9v0.9h-0.9zM327.6 298.9h0.9v0.9h-0.9zM353.2 302.1h0.9v0.9h-0.9zM349.7 299.8h0.9v0.9h-0.9zM352.1 299.7h0.9v0.9h-0.9zM340.7 303.8h0.9v0.9h-0.9zM353.3 299.7h0.9v0.9h-0.9zM325.5 301.2h0.9v0.9h-0.9zM325.0 303.0h0.9v0.9h-0.9zM324.6 302.7h0.9v0.9h-0.9zM332.1 301.8h0.9v0.9h-0.9zM332.0 303.3h0.9v0.9h-0.9zM330.0 301.3h0.9v0.9h-0.9zM342.1 302.2h0.9v0.9h-0.9zM325.2 303.4h0.9v0.9h-0.9zM342.9 302.6h0.9v0.9h-0.9zM329.3 302.4h0.9v0.9h-0.9zM345.7 300.9h0.9v0.9h-0.9zM324.7 301.8h0.9v0.9h-0.9zM333.9 300.9h0.9v0.9h-0.9zM354.0 303.0h0.9v0.9h-0.9zM341.2 300.8h0.9v0.9h-0.9zM350.0 301.3h0.9v0.9h-0.9zM345.1 303.0h0.9v0.9h-0.9zM343.5 301.5h0.9v0.9h-0.9zM330.1 300.5h0.9v0.9h-0.9zM342.4 303.5h0.9v0.9h-0.9zM325.3 300.8h0.9v0.9h-0.9zM349.7 303.6h0.9v0.9h-0.9zM354.7 303.2h0.9v0.9h-0.9zM351.3 301.2h0.9v0.9h-0.9zM325.6 302.8h0.9v0.9h-0.9zM334.8 298.7h0.9v0.9h-0.9zM334.2 300.8h0.9v0.9h-0.9zM327.6 303.7h0.9v0.9h-0.9zM344.1 302.0h0.9v0.9h-0.9zM349.5 301.8h0.9v0.9h-0.9zM334.0 302.5h0.9v0.9h-0.9zM351.6 302.6h0.9v0.9h-0.9zM349.5 302.0h0.9v0.9h-0.9zM328.1 301.0h0.9v0.9h-0.9zM348.5 299.6h0.9v0.9h-0.9zM352.2 300.3h0.9v0.9h-0.9zM330.3 300.3h0.9v0.9h-0.9zM342.4 301.1h0.9v0.9h-0.9zM344.4 304.5h0.9v0.9h-0.9zM343.5 300.6h0.9v0.9h-0.9zM327.1 301.2h0.9v0.9h-0.9zM345.2 300.7h0.9v0.9h-0.9zM344.2 302.0h0.9v0.9h-0.9zM350.4 304.2h0.9v0.9h-0.9zM349.7 303.8h0.9v0.9h-0.9zM334.5 300.8h0.9v0.9h-0.9zM347.1 300.1h0.9v0.9h-0.9zM351.8 303.8h0.9v0.9h-0.9zM352.6 301.5h0.9v0.9h-0.9zM329.2 302.6h0.9v0.9h-0.9zM324.9 298.9h0.9v0.9h-0.9zM344.8 303.7h0.9v0.9h-0.9zM330.9 300.4h0.9v0.9h-0.9zM342.0 301.5h0.9v0.9h-0.9zM354.2 299.7h0.9v0.9h-0.9zM336.1 301.0h0.9v0.9h-0.9zM332.1 303.5h0.9v0.9h-0.9zM338.6 303.5h0.9v0.9h-0.9zM345.0 301.3h0.9v0.9h-0.9zM327.2 303.1h0.9v0.9h-0.9zM336.2 301.2h0.9v0.9h-0.9zM328.3 300.7h0.9v0.9h-0.9zM345.2 301.8h0.9v0.9h-0.9zM350.6 299.7h0.9v0.9h-0.9zM336.1 300.4h0.9v0.9h-0.9zM335.9 302.7h0.9v0.9h-0.9zM341.3 303.1h0.9v0.9h-0.9zM330.9 298.8h0.9v0.9h-0.9zM331.9 302.9h0.9v0.9h-0.9zM334.6 303.4h0.9v0.9h-0.9zM338.6 301.2h0.9v0.9h-0.9zM326.6 298.9h0.9v0.9h-0.9zM348.1 302.6h0.9v0.9h-0.9zM342.5 300.0h0.9v0.9h-0.9zM333.6 302.4h0.9v0.9h-0.9z" fill="#111"/>
<path d="M336.1 306.6h0.9v0.9h-0.9zM344.4 309.8h0.9v0.9h-0.9zM332.3 308.9h0.9v0.9h-0.9zM339.2 309.7h0.9v0.9h-0.9zM340.8 307.1h0.9v0.9h-0.9zM344.2 309.6h0.9v0.9h-0.9zM330.5 309.4h0.9v0.9h-0.9zM354.8 307.2h0.9v0.9h-0.9zM333.3 304.7h0.9v0.9h-0.9zM333.8 311.2h0.9v0.9h-0.9zM332.2 309.5h0.9v0.9h-0.9zM326.2 305.9h0.9v0.9h-0.9zM337.5 309.6h0.9v0.9h-0.9zM348.7 306.5h0.9v0.9h-0.9zM346.7 307.8h0.9v0.9h-0.9zM330.3 310.5h0.9v0.9h-0.9zM328.4 307.6h0.9v0.9h-0.9zM334.3 306.5h0.9v0.9h-0.9zM348.6 306.6h0.9v0.9h-0.9zM339.6 305.0h0.9v0.9h-0.9zM353.5 306.0h0.9v0.9h-0.9zM345.0 306.4h0.9v0.9h-0.9zM343.9 305.7h0.9v0.9h-0.9zM348.6 304.9h0.9v0.9h-0.9zM348.0 307.8h0.9v0.9h-0.9zM335.0 306.0h0.9v0.9h-0.9zM332.2 309.7h0.9v0.9h-0.9zM338.0 311.0h0.9v0.9h-0.9zM339.7 306.4h0.9v0.9h-0.9zM328.5 308.5h0.9v0.9h-0.9zM338.1 308.0h0.9v0.9h-0.9zM344.5 305.0h0.9v0.9h-0.9zM328.3 305.4h0.9v0.9h-0.9zM328.4 310.7h0.9v0.9h-0.9zM329.6 307.8h0.9v0.9h-0.9zM333.1 310.1h0.9v0.9h-0.9zM354.8 305.0h0.9v0.9h-0.9zM324.8 308.7h0.9v0.9h-0.9zM329.9 310.6h0.9v0.9h-0.9zM329.3 310.6h0.9v0.9h-0.9zM339.2 304.5h0.9v0.9h-0.9zM324.5 308.2h0.9v0.9h-0.9zM338.7 307.1h0.9v0.9h-0.9zM329.2 309.8h0.9v0.9h-0.9zM332.6 305.0h0.9v0.9h-0.9zM349.4 306.4h0.9v0.9h-0.9zM329.9 310.2h0.9v0.9h-0.9zM343.7 307.8h0.9v0.9h-0.9zM337.0 307.7h0.9v0.9h-0.9zM337.4 311.3h0.9v0.9h-0.9zM350.1 306.7h0.9v0.9h-0.9zM329.1 304.8h0.9v0.9h-0.9zM353.6 307.2h0.9v0.9h-0.9zM352.6 305.6h0.9v0.9h-0.9zM345.4 305.1h0.9v0.9h-0.9zM325.6 308.5h0.9v0.9h-0.9zM345.2 311.2h0.9v0.9h-0.9zM343.2 308.6h0.9v0.9h-0.9zM348.7 309.0h0.9v0.9h-0.9zM330.8 306.8h0.9v0.9h-0.9zM354.5 308.5h0.9v0.9h-0.9zM352.4 309.8h0.9v0.9h-0.9zM327.7 308.6h0.9v0.9h-0.9zM334.1 310.1h0.9v0.9h-0.9zM325.0 308.4h0.9v0.9h-0.9zM350.6 305.9h0.9v0.9h-0.9zM353.3 308.6h0.9v0.9h-0.9zM355.7 307.9h0.9v0.9h-0.9zM343.6 305.7h0.9v0.9h-0.9zM345.3 308.8h0.9v0.9h-0.9zM345.7 310.2h0.9v0.9h-0.9zM342.2 305.4h0.9v0.9h-0.9zM354.5 308.3h0.9v0.9h-0.9zM343.5 309.6h0.9v0.9h-0.9zM334.7 307.3h0.9v0.9h-0.9zM340.4 306.4h0.9v0.9h-0.9zM324.6 307.1h0.9v0.9h-0.9zM347.2 308.3h0.9v0.9h-0.9zM346.2 309.3h0.9v0.9h-0.9zM337.5 308.4h0.9v0.9h-0.9zM351.2 305.2h0.9v0.9h-0.9zM348.2 310.2h0.9v0.9h-0.9zM334.8 311.0h0.9v0.9h-0.9zM326.5 305.2h0.9v0.9h-0.9zM328.2 306.2h0.9v0.9h-0.9zM329.9 305.7h0.9v0.9h-0.9zM333.7 310.4h0.9v0.9h-0.9zM338.3 310.9h0.9v0.9h-0.9zM353.7 304.8h0.9v0.9h-0.9zM332.9 306.8h0.9v0.9h-0.9zM352.8 305.8h0.9v0.9h-0.9zM345.8 307.8h0.9v0.9h-0.9zM351.3 311.0h0.9v0.9h-0.9zM336.9 305.0h0.9v0.9h-0.9zM324.1 305.7h0.9v0.9h-0.9zM349.2 307.9h0.9v0.9h-0.9zM331.9 308.2h0.9v0.9h-0.9zM328.6 309.7h0.9v0.9h-0.9zM349.6 307.6h0.9v0.9h-0.9zM346.0 305.5h0.9v0.9h-0.9zM330.8 307.0h0.9v0.9h-0.9zM332.6 311.4h0.9v0.9h-0.9zM354.1 309.8h0.9v0.9h-0.9zM332.6 305.3h0.9v0.9h-0.9zM346.5 310.2h0.9v0.9h-0.9zM328.1 306.7h0.9v0.9h-0.9zM350.1 310.0h0.9v0.9h-0.9zM327.8 304.6h0.9v0.9h-0.9zM340.5 310.6h0.9v0.9h-0.9zM325.1 305.6h0.9v0.9h-0.9zM341.6 307.7h0.9v0.9h-0.9zM351.1 309.1h0.9v0.9h-0.9zM326.7 308.1h0.9v0.9h-0.9zM332.8 305.7h0.9v0.9h-0.9zM348.5 305.5h0.9v0.9h-0.9zM343.5 306.5h0.9v0.9h-0.9zM334.0 304.9h0.9v0.9h-0.9zM344.1 306.0h0.9v0.9h-0.9zM338.6 305.4h0.9v0.9h-0.9zM351.6 307.8h0.9v0.9h-0.9z" fill="#444"/>
<path d="M360.8 330.0h0.9v0.9h-0.9zM361.9 316.5h0.9v0.9h-0.9zM360.4 327.0h0.9v0.9h-0.9zM359.2 320.6h0.9v0.9h-0.9zM360.7 326.5h0.9v0.9h-0.9zM362.8 328.3h0.9v0.9h-0.9zM360.3 329.9h0.9v0.9h-0.9zM361.0 318.3h0.9v0.9h-0.9zM362.8 321.2h0.9v0.9h-0.9zM361.0 329.1h0.9v0.9h-0.9zM363.4 329.1h0.9v0.9h-0.9zM363.6 320.0h0.9v0.9h-0.9zM360.6 329.0h0.9v0.9h-0.9zM362.7 320.5h0.9v0.9h-0.9zM360.3 320.0h0.9v0.9h-0.9zM359.7 326.1h0.9v0.9h-0.9zM361.2 321.5h0.9v0.9h-0.9zM362.0 321.2h0.9v0.9h-0.9zM363.7 320.2h0.9v0.9h-0.9zM359.7 320.9h0.9v0.9h-0.9zM362.6 316.2h0.9v0.9h-0.9zM361.4 315.0h0.9v0.9h-0.9zM359.7 326.1h0.9v0.9h-0.9zM363.9 323.0h0.9v0.9h-0.9zM362.5 324.8h0.9v0.9h-0.9zM359.6 326.8h0.9v0.9h-0.9zM363.5 317.7h0.9v0.9h-0.9zM359.5 317.7h0.9v0.9h-0.9zM359.5 318.4h0.9v0.9h-0.9zM360.7 318.9h0.9v0.9h-0.9zM363.7 326.2h0.9v0.9h-0.9zM359.2 320.0h0.9v0.9h-0.9zM363.6 319.2h0.9v0.9h-0.9zM362.1 324.2h0.9v0.9h-0.9zM359.3 317.0h0.9v0.9h-0.9zM361.8 315.7h0.9v0.9h-0.9zM361.3 325.2h0.9v0.9h-0.9zM361.8 326.1h0.9v0.9h-0.9zM362.7 318.7h0.9v0.9h-0.9zM362.4 324.2h0.9v0.9h-0.9z" fill="#888"/>
<path d="M333.8 331.9h0.9v0.9h-0.9zM342.7 331.0h0.9v0.9h-0.9zM346.9 330.8h0.9v0.9h-0.9zM339.1 334.0h0.9v0.9h-0.9zM341.4 332.3h0.9v0.9h-0.9zM347.6 331.4h0.9v0.9h-0.9zM347.2 333.3h0.9v0.9h-0.9zM336.7 330.7h0.9v0.9h-0.9zM350.0 331.6h0.9v0.9h-0.9zM334.9 334.2h0.9v0.9h-0.9zM356.3 333.9h0.9v0.9h-0.9zM337.9 333.0h0.9v0.9h-0.9zM339.1 331.0h0.9v0.9h-0.9zM337.8 331.8h0.9v0.9h-0.9zM356.8 330.8h0.9v0.9h-0.9zM339.9 331.5h0.9v0.9h-0.9zM347.5 330.8h0.9v0.9h-0.9zM356.8 331.2h0.9v0.9h-0.9zM355.8 333.0h0.9v0.9h-0.9zM334.0 331.1h0.9v0.9h-0.9zM345.5 331.3h0.9v0.9h-0.9zM347.4 334.0h0.9v0.9h-0.9zM349.9 331.9h0.9v0.9h-0.9zM341.1 331.9h0.9v0.9h-0.9zM340.9 331.0h0.9v0.9h-0.9zM333.1 333.6h0.9v0.9h-0.9zM333.8 333.1h0.9v0.9h-0.9zM346.2 332.7h0.9v0.9h-0.9zM334.8 332.9h0.9v0.9h-0.9zM337.9 331.1h0.9v0.9h-0.9z" fill="#999"/>
<path d="M322 294.3 C335 293.2 350 292.6 356 292.8 C360.5 293 361 297.6 356.5 298.6 C348 299.6 336 300.2 322 300.6 Z" fill="#000" filter="url(#bl)"/>
<path d="M322 294.3 C335 293.2 350 292.6 356 292.8 C360.5 293 361 297.6 356.5 298.6 C348 299.6 336 300.2 322 300.6 Z" fill="#000"/>
<path d="M322 312.6 C330 311.5 345 311.3 352 312 C358 313 360.2 317.5 360.2 321.5 C360.2 325.5 357 329 350 329.8 C342 330.3 332 330.3 322 330.5 Z" fill="#000" filter="url(#bl2)"/>
<path d="M322 313.4 C330 312.4 345 312.1 351.5 312.8 C357 313.8 358.8 318 358.8 321.5 C358.8 325 356 328.4 350 329 C342 329.6 332 329.6 322 329.8 Z" fill="#000"/>
<path d="M376.1 320.8h0.9v0.9h-0.9zM380.9 312.6h0.9v0.9h-0.9zM383.3 317.7h0.9v0.9h-0.9zM373.3 322.9h0.9v0.9h-0.9zM379.6 328.3h0.9v0.9h-0.9zM374.6 328.9h0.9v0.9h-0.9zM378.0 322.5h0.9v0.9h-0.9zM375.9 321.9h0.9v0.9h-0.9zM367.3 318.0h0.9v0.9h-0.9zM376.8 325.4h0.9v0.9h-0.9zM384.5 321.5h0.9v0.9h-0.9zM368.8 326.6h0.9v0.9h-0.9zM375.0 333.5h0.9v0.9h-0.9zM382.7 322.8h0.9v0.9h-0.9zM367.9 314.0h0.9v0.9h-0.9zM378.6 317.8h0.9v0.9h-0.9zM368.0 314.3h0.9v0.9h-0.9zM386.6 315.8h0.9v0.9h-0.9zM396.7 330.8h0.9v0.9h-0.9zM394.2 324.4h0.9v0.9h-0.9zM375.1 313.9h0.9v0.9h-0.9zM383.3 326.9h0.9v0.9h-0.9zM378.0 330.6h0.9v0.9h-0.9zM377.9 320.8h0.9v0.9h-0.9zM390.2 318.9h0.9v0.9h-0.9zM365.8 321.0h0.9v0.9h-0.9zM386.0 324.7h0.9v0.9h-0.9zM376.6 326.8h0.9v0.9h-0.9zM389.0 330.1h0.9v0.9h-0.9zM378.6 330.3h0.9v0.9h-0.9zM371.3 330.1h0.9v0.9h-0.9zM379.4 331.2h0.9v0.9h-0.9zM383.3 327.0h0.9v0.9h-0.9zM377.3 313.8h0.9v0.9h-0.9zM381.1 322.2h0.9v0.9h-0.9zM372.6 324.9h0.9v0.9h-0.9zM358.9 320.7h0.9v0.9h-0.9zM384.7 328.5h0.9v0.9h-0.9zM382.9 320.8h0.9v0.9h-0.9zM378.3 317.4h0.9v0.9h-0.9zM377.6 331.7h0.9v0.9h-0.9zM385.8 327.0h0.9v0.9h-0.9zM373.1 324.3h0.9v0.9h-0.9zM371.0 328.6h0.9v0.9h-0.9zM375.4 329.4h0.9v0.9h-0.9zM387.1 325.0h0.9v0.9h-0.9zM365.2 308.3h0.9v0.9h-0.9zM387.1 318.9h0.9v0.9h-0.9zM371.6 320.3h0.9v0.9h-0.9zM367.6 317.1h0.9v0.9h-0.9zM387.7 324.2h0.9v0.9h-0.9zM376.2 330.2h0.9v0.9h-0.9zM365.9 320.1h0.9v0.9h-0.9zM374.0 316.2h0.9v0.9h-0.9zM384.9 335.2h0.9v0.9h-0.9zM387.1 320.3h0.9v0.9h-0.9zM373.4 315.6h0.9v0.9h-0.9zM380.5 324.4h0.9v0.9h-0.9zM383.1 325.6h0.9v0.9h-0.9zM371.5 318.8h0.9v0.9h-0.9zM380.0 327.7h0.9v0.9h-0.9zM376.7 320.1h0.9v0.9h-0.9zM372.4 317.5h0.9v0.9h-0.9zM372.8 324.1h0.9v0.9h-0.9zM377.6 327.6h0.9v0.9h-0.9zM377.3 319.2h0.9v0.9h-0.9zM372.2 325.0h0.9v0.9h-0.9zM373.4 322.4h0.9v0.9h-0.9zM386.5 339.9h0.9v0.9h-0.9zM378.8 318.7h0.9v0.9h-0.9zM384.5 331.3h0.9v0.9h-0.9zM387.2 322.7h0.9v0.9h-0.9zM382.0 322.2h0.9v0.9h-0.9zM396.3 327.3h0.9v0.9h-0.9zM370.0 328.4h0.9v0.9h-0.9zM383.9 330.6h0.9v0.9h-0.9zM374.3 325.0h0.9v0.9h-0.9zM392.8 319.4h0.9v0.9h-0.9zM391.5 319.8h0.9v0.9h-0.9zM360.4 326.1h0.9v0.9h-0.9zM368.8 326.5h0.9v0.9h-0.9zM382.6 331.4h0.9v0.9h-0.9zM383.7 325.5h0.9v0.9h-0.9zM383.3 329.4h0.9v0.9h-0.9zM376.4 332.1h0.9v0.9h-0.9zM380.9 324.0h0.9v0.9h-0.9zM382.6 314.1h0.9v0.9h-0.9zM376.3 315.9h0.9v0.9h-0.9zM385.7 314.4h0.9v0.9h-0.9zM357.8 332.5h0.9v0.9h-0.9zM382.4 317.9h0.9v0.9h-0.9zM368.2 330.4h0.9v0.9h-0.9zM385.1 326.5h0.9v0.9h-0.9zM375.1 333.3h0.9v0.9h-0.9zM369.4 329.0h0.9v0.9h-0.9zM380.2 322.4h0.9v0.9h-0.9zM369.3 321.8h0.9v0.9h-0.9zM369.2 323.5h0.9v0.9h-0.9zM363.7 324.1h0.9v0.9h-0.9zM376.8 319.8h0.9v0.9h-0.9zM381.2 322.8h0.9v0.9h-0.9zM385.7 332.7h0.9v0.9h-0.9zM375.8 312.8h0.9v0.9h-0.9zM385.9 324.6h0.9v0.9h-0.9zM377.2 317.6h0.9v0.9h-0.9zM376.2 324.1h0.9v0.9h-0.9zM381.9 328.0h0.9v0.9h-0.9zM386.0 322.7h0.9v0.9h-0.9zM374.1 327.6h0.9v0.9h-0.9zM374.9 313.5h0.9v0.9h-0.9zM375.6 329.6h0.9v0.9h-0.9zM377.7 319.4h0.9v0.9h-0.9zM369.3 326.7h0.9v0.9h-0.9zM385.7 324.1h0.9v0.9h-0.9zM373.6 307.5h0.9v0.9h-0.9zM380.9 318.5h0.9v0.9h-0.9zM370.0 324.3h0.9v0.9h-0.9zM380.0 332.3h0.9v0.9h-0.9zM380.3 324.7h0.9v0.9h-0.9zM373.4 324.5h0.9v0.9h-0.9zM394.2 314.5h0.9v0.9h-0.9zM380.2 331.6h0.9v0.9h-0.9zM392.1 333.8h0.9v0.9h-0.9zM385.2 323.2h0.9v0.9h-0.9zM371.4 321.7h0.9v0.9h-0.9zM373.8 313.3h0.9v0.9h-0.9zM380.7 328.3h0.9v0.9h-0.9zM377.5 339.2h0.9v0.9h-0.9zM377.4 327.3h0.9v0.9h-0.9zM374.6 330.6h0.9v0.9h-0.9zM361.6 326.3h0.9v0.9h-0.9zM375.1 317.1h0.9v0.9h-0.9zM358.1 331.0h0.9v0.9h-0.9zM380.2 315.6h0.9v0.9h-0.9zM370.8 321.7h0.9v0.9h-0.9zM370.9 324.7h0.9v0.9h-0.9zM375.1 328.3h0.9v0.9h-0.9zM379.3 325.5h0.9v0.9h-0.9zM364.8 325.3h0.9v0.9h-0.9zM362.1 318.4h0.9v0.9h-0.9zM367.9 315.3h0.9v0.9h-0.9zM359.6 323.4h0.9v0.9h-0.9zM368.8 318.7h0.9v0.9h-0.9zM390.5 315.2h0.9v0.9h-0.9zM368.0 315.4h0.9v0.9h-0.9zM382.5 320.1h0.9v0.9h-0.9zM365.3 311.9h0.9v0.9h-0.9zM379.5 314.9h0.9v0.9h-0.9zM374.3 313.2h0.9v0.9h-0.9zM376.5 324.1h0.9v0.9h-0.9zM381.8 325.4h0.9v0.9h-0.9zM391.9 335.0h0.9v0.9h-0.9zM378.7 314.0h0.9v0.9h-0.9zM378.1 318.9h0.9v0.9h-0.9zM368.7 328.5h0.9v0.9h-0.9zM382.0 321.7h0.9v0.9h-0.9zM374.9 321.0h0.9v0.9h-0.9zM384.1 333.3h0.9v0.9h-0.9zM376.6 321.0h0.9v0.9h-0.9zM391.8 316.1h0.9v0.9h-0.9zM360.1 315.1h0.9v0.9h-0.9zM374.5 325.0h0.9v0.9h-0.9zM384.5 324.8h0.9v0.9h-0.9zM374.0 314.8h0.9v0.9h-0.9zM370.3 317.1h0.9v0.9h-0.9zM374.7 326.2h0.9v0.9h-0.9zM365.3 326.5h0.9v0.9h-0.9zM378.0 319.1h0.9v0.9h-0.9zM397.7 326.7h0.9v0.9h-0.9zM386.7 326.4h0.9v0.9h-0.9zM367.6 312.3h0.9v0.9h-0.9zM369.6 321.1h0.9v0.9h-0.9zM373.6 325.5h0.9v0.9h-0.9zM385.5 319.6h0.9v0.9h-0.9zM370.0 310.2h0.9v0.9h-0.9zM371.1 321.3h0.9v0.9h-0.9zM384.5 327.5h0.9v0.9h-0.9zM384.3 332.5h0.9v0.9h-0.9zM373.8 309.9h0.9v0.9h-0.9zM367.5 338.7h0.9v0.9h-0.9zM363.8 316.2h0.9v0.9h-0.9zM371.1 328.7h0.9v0.9h-0.9zM358.0 330.4h0.9v0.9h-0.9zM383.4 328.9h0.9v0.9h-0.9zM371.6 323.9h0.9v0.9h-0.9zM381.1 316.0h0.9v0.9h-0.9zM392.9 326.8h0.9v0.9h-0.9zM387.0 318.7h0.9v0.9h-0.9zM367.2 307.9h0.9v0.9h-0.9zM384.4 340.0h0.9v0.9h-0.9zM386.8 327.2h0.9v0.9h-0.9zM370.7 333.9h0.9v0.9h-0.9zM368.9 317.5h0.9v0.9h-0.9zM376.1 331.8h0.9v0.9h-0.9zM363.4 332.5h0.9v0.9h-0.9zM389.5 332.3h0.9v0.9h-0.9zM356.6 322.9h0.9v0.9h-0.9zM367.6 315.8h0.9v0.9h-0.9zM374.7 321.9h0.9v0.9h-0.9zM375.1 309.8h0.9v0.9h-0.9zM378.4 312.8h0.9v0.9h-0.9zM379.3 323.6h0.9v0.9h-0.9zM375.2 317.1h0.9v0.9h-0.9zM386.7 322.0h0.9v0.9h-0.9zM358.8 322.3h0.9v0.9h-0.9zM377.0 334.6h0.9v0.9h-0.9zM370.9 330.8h0.9v0.9h-0.9zM378.1 322.7h0.9v0.9h-0.9zM378.9 330.3h0.9v0.9h-0.9zM369.2 318.3h0.9v0.9h-0.9zM371.6 321.0h0.9v0.9h-0.9zM383.7 328.5h0.9v0.9h-0.9zM380.0 315.6h0.9v0.9h-0.9zM371.2 321.3h0.9v0.9h-0.9zM394.3 315.1h0.9v0.9h-0.9zM396.6 323.7h0.9v0.9h-0.9zM364.6 332.8h0.9v0.9h-0.9zM379.6 318.5h0.9v0.9h-0.9zM398.3 324.4h0.9v0.9h-0.9zM383.7 317.6h0.9v0.9h-0.9zM378.9 316.1h0.9v0.9h-0.9zM375.2 315.6h0.9v0.9h-0.9zM372.4 331.7h0.9v0.9h-0.9zM375.2 337.2h0.9v0.9h-0.9zM372.3 325.9h0.9v0.9h-0.9zM383.3 318.7h0.9v0.9h-0.9zM373.6 327.2h0.9v0.9h-0.9zM373.3 321.0h0.9v0.9h-0.9zM366.8 327.8h0.9v0.9h-0.9zM376.6 324.7h0.9v0.9h-0.9zM369.4 324.7h0.9v0.9h-0.9zM375.5 326.6h0.9v0.9h-0.9zM385.9 319.5h0.9v0.9h-0.9zM380.1 320.6h0.9v0.9h-0.9zM381.3 312.7h0.9v0.9h-0.9zM380.0 320.3h0.9v0.9h-0.9zM377.5 314.5h0.9v0.9h-0.9zM375.9 322.1h0.9v0.9h-0.9zM374.4 317.3h0.9v0.9h-0.9zM383.5 323.6h0.9v0.9h-0.9zM367.8 325.7h0.9v0.9h-0.9zM388.4 314.5h0.9v0.9h-0.9zM377.3 318.1h0.9v0.9h-0.9zM370.6 317.3h0.9v0.9h-0.9zM372.8 327.5h0.9v0.9h-0.9zM371.2 333.2h0.9v0.9h-0.9zM378.4 328.1h0.9v0.9h-0.9zM370.9 320.9h0.9v0.9h-0.9zM386.7 331.8h0.9v0.9h-0.9zM370.4 313.9h0.9v0.9h-0.9zM357.7 332.0h0.9v0.9h-0.9zM370.8 319.1h0.9v0.9h-0.9zM359.9 306.3h0.9v0.9h-0.9zM376.7 338.9h0.9v0.9h-0.9zM386.0 332.5h0.9v0.9h-0.9zM382.5 316.8h0.9v0.9h-0.9zM365.6 324.0h0.9v0.9h-0.9zM370.5 321.7h0.9v0.9h-0.9zM392.1 323.6h0.9v0.9h-0.9zM379.7 314.1h0.9v0.9h-0.9zM377.0 318.9h0.9v0.9h-0.9zM386.0 325.8h0.9v0.9h-0.9zM397.8 324.3h0.9v0.9h-0.9zM388.0 330.2h0.9v0.9h-0.9zM378.2 323.5h0.9v0.9h-0.9zM380.0 337.1h0.9v0.9h-0.9zM382.2 318.7h0.9v0.9h-0.9zM371.8 324.6h0.9v0.9h-0.9zM368.0 311.5h0.9v0.9h-0.9zM377.4 315.5h0.9v0.9h-0.9zM368.9 331.0h0.9v0.9h-0.9zM376.5 317.3h0.9v0.9h-0.9zM377.8 326.2h0.9v0.9h-0.9zM396.9 322.6h0.9v0.9h-0.9zM369.8 316.7h0.9v0.9h-0.9zM376.0 320.9h0.9v0.9h-0.9zM375.6 319.9h0.9v0.9h-0.9zM380.7 320.1h0.9v0.9h-0.9zM385.9 327.5h0.9v0.9h-0.9zM372.8 326.9h0.9v0.9h-0.9zM370.0 319.5h0.9v0.9h-0.9zM363.1 317.6h0.9v0.9h-0.9zM369.1 324.7h0.9v0.9h-0.9zM381.6 322.4h0.9v0.9h-0.9zM377.4 329.2h0.9v0.9h-0.9zM368.4 338.9h0.9v0.9h-0.9zM373.8 328.1h0.9v0.9h-0.9zM377.3 322.8h0.9v0.9h-0.9zM381.3 322.0h0.9v0.9h-0.9zM372.0 317.9h0.9v0.9h-0.9zM374.9 317.6h0.9v0.9h-0.9zM361.5 317.0h0.9v0.9h-0.9zM367.2 320.6h0.9v0.9h-0.9zM390.8 320.4h0.9v0.9h-0.9zM358.4 327.5h0.9v0.9h-0.9zM374.1 320.6h0.9v0.9h-0.9zM378.9 321.8h0.9v0.9h-0.9zM373.8 315.7h0.9v0.9h-0.9zM370.1 332.9h0.9v0.9h-0.9zM376.5 326.0h0.9v0.9h-0.9zM377.0 333.7h0.9v0.9h-0.9zM376.3 327.8h0.9v0.9h-0.9zM361.0 331.9h0.9v0.9h-0.9zM375.7 321.5h0.9v0.9h-0.9zM369.7 327.3h0.9v0.9h-0.9zM372.3 339.2h0.9v0.9h-0.9zM378.9 315.7h0.9v0.9h-0.9zM382.4 330.1h0.9v0.9h-0.9zM384.6 333.2h0.9v0.9h-0.9zM372.8 325.5h0.9v0.9h-0.9zM384.9 327.6h0.9v0.9h-0.9zM387.0 330.7h0.9v0.9h-0.9zM386.7 319.0h0.9v0.9h-0.9zM388.8 325.5h0.9v0.9h-0.9zM375.8 317.7h0.9v0.9h-0.9zM375.5 318.9h0.9v0.9h-0.9zM384.0 319.2h0.9v0.9h-0.9zM365.4 322.1h0.9v0.9h-0.9zM378.8 323.9h0.9v0.9h-0.9zM372.5 325.8h0.9v0.9h-0.9z" fill="#a8a8a8"/>
<path d="M368.7 319.4h0.9v0.9h-0.9zM386.1 322.7h0.9v0.9h-0.9zM381.9 328.1h0.9v0.9h-0.9zM379.7 326.9h0.9v0.9h-0.9zM374.2 323.0h0.9v0.9h-0.9zM375.5 323.2h0.9v0.9h-0.9zM378.8 322.5h0.9v0.9h-0.9zM378.1 320.6h0.9v0.9h-0.9zM367.4 330.9h0.9v0.9h-0.9zM379.8 323.0h0.9v0.9h-0.9zM390.9 318.3h0.9v0.9h-0.9zM366.5 321.0h0.9v0.9h-0.9zM381.1 326.0h0.9v0.9h-0.9zM377.9 325.6h0.9v0.9h-0.9zM375.4 322.4h0.9v0.9h-0.9zM383.0 320.3h0.9v0.9h-0.9zM369.9 323.1h0.9v0.9h-0.9zM376.8 316.1h0.9v0.9h-0.9zM383.5 317.6h0.9v0.9h-0.9zM375.0 326.3h0.9v0.9h-0.9zM373.9 321.0h0.9v0.9h-0.9zM376.6 324.5h0.9v0.9h-0.9zM373.7 328.0h0.9v0.9h-0.9zM383.9 325.7h0.9v0.9h-0.9zM371.3 323.1h0.9v0.9h-0.9zM380.5 331.8h0.9v0.9h-0.9zM369.6 325.7h0.9v0.9h-0.9zM379.4 321.5h0.9v0.9h-0.9zM375.5 326.0h0.9v0.9h-0.9zM362.7 324.7h0.9v0.9h-0.9zM376.0 319.5h0.9v0.9h-0.9zM370.5 323.3h0.9v0.9h-0.9zM373.7 322.3h0.9v0.9h-0.9zM383.9 314.9h0.9v0.9h-0.9zM370.3 322.3h0.9v0.9h-0.9zM370.6 321.8h0.9v0.9h-0.9zM383.4 321.2h0.9v0.9h-0.9zM376.6 316.2h0.9v0.9h-0.9zM383.9 321.5h0.9v0.9h-0.9zM377.7 322.8h0.9v0.9h-0.9z" fill="#888"/>
<path d="M377.7 296.8h0.8v0.8h-0.8zM368.8 297.8h0.8v0.8h-0.8zM381.6 291.7h0.8v0.8h-0.8zM368.3 295.6h0.8v0.8h-0.8zM375.4 295.8h0.8v0.8h-0.8zM386.4 295.3h0.8v0.8h-0.8zM372.0 289.5h0.8v0.8h-0.8zM373.3 298.6h0.8v0.8h-0.8zM384.7 294.8h0.8v0.8h-0.8zM374.2 294.7h0.8v0.8h-0.8zM374.9 295.2h0.8v0.8h-0.8zM378.6 295.3h0.8v0.8h-0.8zM384.5 297.2h0.8v0.8h-0.8zM361.1 292.2h0.8v0.8h-0.8zM371.0 293.2h0.8v0.8h-0.8zM369.8 296.9h0.8v0.8h-0.8zM369.2 296.4h0.8v0.8h-0.8zM370.9 294.9h0.8v0.8h-0.8zM371.0 294.3h0.8v0.8h-0.8zM379.2 293.5h0.8v0.8h-0.8zM370.6 295.8h0.8v0.8h-0.8zM377.9 299.5h0.8v0.8h-0.8zM379.9 292.8h0.8v0.8h-0.8zM371.8 300.6h0.8v0.8h-0.8zM377.9 298.5h0.8v0.8h-0.8zM388.7 294.6h0.8v0.8h-0.8zM379.3 298.3h0.8v0.8h-0.8zM372.4 291.6h0.8v0.8h-0.8zM376.5 290.8h0.8v0.8h-0.8zM370.4 292.1h0.8v0.8h-0.8zM378.9 294.8h0.8v0.8h-0.8zM383.2 295.0h0.8v0.8h-0.8zM371.1 294.5h0.8v0.8h-0.8zM375.5 296.3h0.8v0.8h-0.8zM385.0 289.6h0.8v0.8h-0.8zM373.4 297.5h0.8v0.8h-0.8zM378.3 291.7h0.8v0.8h-0.8zM369.7 294.0h0.8v0.8h-0.8zM371.1 294.8h0.8v0.8h-0.8zM373.3 292.5h0.8v0.8h-0.8zM392.2 291.9h0.8v0.8h-0.8zM374.1 293.0h0.8v0.8h-0.8zM373.3 296.0h0.8v0.8h-0.8zM373.1 297.8h0.8v0.8h-0.8zM375.8 297.7h0.8v0.8h-0.8zM381.6 293.0h0.8v0.8h-0.8zM378.3 293.6h0.8v0.8h-0.8zM391.4 293.2h0.8v0.8h-0.8zM378.5 297.3h0.8v0.8h-0.8zM387.1 289.9h0.8v0.8h-0.8z" fill="#c0c0c0"/>
</g>
<line x1="324.9" y1="255.4" x2="411.2" y2="255.4" stroke="#4a4a4a" stroke-width="1.1"/>
<line x1="411.2" y1="255.4" x2="411.2" y2="337.8" stroke="#4a4a4a" stroke-width="1.1"/>
<line x1="324.9" y1="255.4" x2="324.9" y2="337.8" stroke="#222" stroke-width="1.1"/>
<line x1="324.9" y1="337.8" x2="411.2" y2="337.8" stroke="#222" stroke-width="1.1"/>
<line x1="364.4" y1="255.4" x2="364.4" y2="337.8" stroke="#4a4a4a" stroke-width="1.1"/>
<line x1="324.9" y1="308.2" x2="411.2" y2="308.2" stroke="#4a4a4a" stroke-width="1.1"/>
<text x="323.59999999999997" y="264.5" font-size="4.8" text-anchor="end" fill="#333" stroke="#333" style="stroke-width:0.15px">10⁴</text>
<line x1="323.4" y1="263.0" x2="324.9" y2="263.0" stroke="#222" stroke-width="0.9"/>
<text x="323.59999999999997" y="283.6333333333333" font-size="4.8" text-anchor="end" fill="#333" stroke="#333" style="stroke-width:0.15px">10³</text>
<line x1="323.4" y1="282.1333333333333" x2="324.9" y2="282.1333333333333" stroke="#222" stroke-width="0.9"/>
<text x="323.59999999999997" y="302.7666666666667" font-size="4.8" text-anchor="end" fill="#333" stroke="#333" style="stroke-width:0.15px">10²</text>
<line x1="323.4" y1="301.2666666666667" x2="324.9" y2="301.2666666666667" stroke="#222" stroke-width="0.9"/>
<text x="323.59999999999997" y="321.90000000000003" font-size="4.8" text-anchor="end" fill="#333" stroke="#333" style="stroke-width:0.15px">10¹</text>
<line x1="323.4" y1="320.40000000000003" x2="324.9" y2="320.40000000000003" stroke="#222" stroke-width="0.9"/>
<text x="323.09999999999997" y="330.3" font-size="4.8" text-anchor="end" fill="#333" stroke="#333" style="stroke-width:0.15px">0</text>
<text x="334.393" y="345.2" font-size="4.8" text-anchor="middle" fill="#333" stroke="#333" style="stroke-width:0.15px">0</text>
<line x1="334.393" y1="337.8" x2="334.393" y2="339.40000000000003" stroke="#222" stroke-width="0.9"/>
<text x="343.02299999999997" y="345.2" font-size="4.8" text-anchor="middle" fill="#333" stroke="#333" style="stroke-width:0.15px">10¹</text>
<line x1="343.02299999999997" y1="337.8" x2="343.02299999999997" y2="339.40000000000003" stroke="#222" stroke-width="0.9"/>
<text x="362.87199999999996" y="345.2" font-size="4.8" text-anchor="middle" fill="#333" stroke="#333" style="stroke-width:0.15px">10²</text>
<line x1="362.87199999999996" y1="337.8" x2="362.87199999999996" y2="339.40000000000003" stroke="#222" stroke-width="0.9"/>
<text x="382.721" y="345.2" font-size="4.8" text-anchor="middle" fill="#333" stroke="#333" style="stroke-width:0.15px">10³</text>
<line x1="382.721" y1="337.8" x2="382.721" y2="339.40000000000003" stroke="#222" stroke-width="0.9"/>
<text x="402.57" y="345.2" font-size="4.8" text-anchor="middle" fill="#333" stroke="#333" style="stroke-width:0.15px">10⁴</text>
<line x1="402.57" y1="337.8" x2="402.57" y2="339.40000000000003" stroke="#222" stroke-width="0.9"/>
<path d="M326.4 337.8v1M329.4 337.8v1M332.4 337.8v1M335.4 337.8v1M338.4 337.8v1M341.4 337.8v1M344.4 337.8v1M347.4 337.8v1M350.4 337.8v1M353.4 337.8v1M356.4 337.8v1M359.4 337.8v1M362.4 337.8v1M365.4 337.8v1M368.4 337.8v1M371.4 337.8v1M374.4 337.8v1M377.4 337.8v1M380.4 337.8v1M383.4 337.8v1M386.4 337.8v1M389.4 337.8v1M392.4 337.8v1M395.4 337.8v1M398.4 337.8v1M401.4 337.8v1M404.4 337.8v1M407.4 337.8v1M324.9 256.9h-1M324.9 259.9h-1M324.9 262.9h-1M324.9 265.9h-1M324.9 268.9h-1M324.9 271.9h-1M324.9 274.9h-1M324.9 277.9h-1M324.9 280.9h-1M324.9 283.9h-1M324.9 286.9h-1M324.9 289.9h-1M324.9 292.9h-1M324.9 295.9h-1M324.9 298.9h-1M324.9 301.9h-1M324.9 304.9h-1M324.9 307.9h-1M324.9 310.9h-1M324.9 313.9h-1M324.9 316.9h-1M324.9 319.9h-1M324.9 322.9h-1M324.9 325.9h-1M324.9 328.9h-1M324.9 331.9h-1M324.9 334.9h-1" stroke="#444" stroke-width="0.7"/>
<g clip-path="url(#c2)">
<rect x="428" y="299" width="38" height="15" fill="url(#g2)" filter="url(#bl)"/>
<path d="M463.5 300.0h0.9v0.9h-0.9zM435.2 305.3h0.9v0.9h-0.9zM439.6 302.5h0.9v0.9h-0.9zM454.2 301.0h0.9v0.9h-0.9zM451.9 304.1h0.9v0.9h-0.9zM441.9 304.4h0.9v0.9h-0.9zM463.0 303.3h0.9v0.9h-0.9zM446.1 305.0h0.9v0.9h-0.9zM452.1 300.0h0.9v0.9h-0.9zM435.9 302.7h0.9v0.9h-0.9zM461.5 304.0h0.9v0.9h-0.9zM436.3 305.0h0.9v0.9h-0.9zM445.6 303.3h0.9v0.9h-0.9zM461.3 303.1h0.9v0.9h-0.9zM463.2 301.8h0.9v0.9h-0.9zM461.9 302.9h0.9v0.9h-0.9zM459.5 302.8h0.9v0.9h-0.9zM440.5 304.9h0.9v0.9h-0.9zM434.0 304.5h0.9v0.9h-0.9zM447.5 303.9h0.9v0.9h-0.9zM435.0 305.0h0.9v0.9h-0.9zM463.7 299.9h0.9v0.9h-0.9zM433.3 304.1h0.9v0.9h-0.9zM443.4 302.3h0.9v0.9h-0.9zM439.5 304.0h0.9v0.9h-0.9zM433.4 301.3h0.9v0.9h-0.9zM449.0 302.3h0.9v0.9h-0.9zM435.4 304.4h0.9v0.9h-0.9zM461.8 299.7h0.9v0.9h-0.9zM455.0 301.2h0.9v0.9h-0.9zM444.8 302.4h0.9v0.9h-0.9zM459.9 304.6h0.9v0.9h-0.9zM458.5 301.1h0.9v0.9h-0.9zM443.4 304.4h0.9v0.9h-0.9zM460.1 301.0h0.9v0.9h-0.9zM462.7 301.3h0.9v0.9h-0.9zM452.8 302.8h0.9v0.9h-0.9zM444.3 303.4h0.9v0.9h-0.9zM461.8 304.8h0.9v0.9h-0.9zM463.2 304.8h0.9v0.9h-0.9zM444.1 301.0h0.9v0.9h-0.9zM435.8 304.0h0.9v0.9h-0.9zM460.8 303.3h0.9v0.9h-0.9zM454.3 301.8h0.9v0.9h-0.9zM440.4 304.2h0.9v0.9h-0.9zM451.1 304.9h0.9v0.9h-0.9zM442.9 302.4h0.9v0.9h-0.9zM462.4 305.0h0.9v0.9h-0.9zM443.9 300.3h0.9v0.9h-0.9zM439.3 300.5h0.9v0.9h-0.9zM434.4 304.1h0.9v0.9h-0.9zM444.0 301.3h0.9v0.9h-0.9zM464.7 303.0h0.9v0.9h-0.9zM440.0 302.5h0.9v0.9h-0.9zM447.7 300.4h0.9v0.9h-0.9zM464.1 304.0h0.9v0.9h-0.9zM433.2 303.9h0.9v0.9h-0.9zM442.4 300.4h0.9v0.9h-0.9zM459.3 301.1h0.9v0.9h-0.9zM436.1 304.3h0.9v0.9h-0.9zM462.7 305.0h0.9v0.9h-0.9zM459.7 304.7h0.9v0.9h-0.9zM437.6 302.5h0.9v0.9h-0.9zM452.0 301.7h0.9v0.9h-0.9zM450.8 302.2h0.9v0.9h-0.9zM455.2 300.6h0.9v0.9h-0.9zM442.8 302.5h0.9v0.9h-0.9zM445.3 300.9h0.9v0.9h-0.9zM440.7 300.5h0.9v0.9h-0.9zM442.3 301.8h0.9v0.9h-0.9zM438.6 299.9h0.9v0.9h-0.9zM461.9 302.3h0.9v0.9h-0.9zM461.4 303.7h0.9v0.9h-0.9zM444.5 303.4h0.9v0.9h-0.9zM455.2 305.4h0.9v0.9h-0.9zM448.7 304.8h0.9v0.9h-0.9zM442.0 303.3h0.9v0.9h-0.9zM444.2 304.9h0.9v0.9h-0.9zM463.9 302.2h0.9v0.9h-0.9zM443.9 304.3h0.9v0.9h-0.9zM451.5 301.2h0.9v0.9h-0.9zM463.2 302.7h0.9v0.9h-0.9zM442.5 305.4h0.9v0.9h-0.9zM458.9 303.1h0.9v0.9h-0.9zM436.7 302.5h0.9v0.9h-0.9zM456.5 304.2h0.9v0.9h-0.9zM458.8 301.4h0.9v0.9h-0.9zM459.8 304.5h0.9v0.9h-0.9zM464.2 299.6h0.9v0.9h-0.9zM455.8 300.9h0.9v0.9h-0.9zM464.3 300.6h0.9v0.9h-0.9zM441.9 301.0h0.9v0.9h-0.9zM449.7 305.2h0.9v0.9h-0.9zM439.9 299.6h0.9v0.9h-0.9zM435.7 301.3h0.9v0.9h-0.9zM447.0 302.9h0.9v0.9h-0.9zM456.0 303.7h0.9v0.9h-0.9zM457.9 304.1h0.9v0.9h-0.9zM433.5 301.8h0.9v0.9h-0.9zM463.2 300.8h0.9v0.9h-0.9zM440.9 304.6h0.9v0.9h-0.9zM442.4 300.2h0.9v0.9h-0.9zM459.6 299.9h0.9v0.9h-0.9zM461.6 300.9h0.9v0.9h-0.9zM456.6 302.5h0.9v0.9h-0.9zM443.7 305.2h0.9v0.9h-0.9zM447.8 303.9h0.9v0.9h-0.9zM459.7 302.9h0.9v0.9h-0.9zM444.4 302.6h0.9v0.9h-0.9zM458.8 303.7h0.9v0.9h-0.9zM458.0 303.3h0.9v0.9h-0.9zM448.0 301.5h0.9v0.9h-0.9zM461.7 300.1h0.9v0.9h-0.9zM445.3 300.7h0.9v0.9h-0.9zM457.0 304.2h0.9v0.9h-0.9zM453.5 303.3h0.9v0.9h-0.9zM443.6 304.3h0.9v0.9h-0.9zM450.0 299.8h0.9v0.9h-0.9zM452.4 304.9h0.9v0.9h-0.9zM450.2 301.8h0.9v0.9h-0.9zM436.5 305.1h0.9v0.9h-0.9zM464.7 303.1h0.9v0.9h-0.9zM463.9 302.8h0.9v0.9h-0.9zM434.2 304.4h0.9v0.9h-0.9zM463.2 303.3h0.9v0.9h-0.9zM450.0 303.5h0.9v0.9h-0.9zM437.0 300.4h0.9v0.9h-0.9zM459.3 303.1h0.9v0.9h-0.9zM446.9 301.6h0.9v0.9h-0.9zM455.8 300.0h0.9v0.9h-0.9zM459.5 300.3h0.9v0.9h-0.9zM450.2 302.4h0.9v0.9h-0.9zM434.6 301.1h0.9v0.9h-0.9zM459.3 304.1h0.9v0.9h-0.9zM455.2 300.2h0.9v0.9h-0.9zM462.1 299.6h0.9v0.9h-0.9zM441.6 305.5h0.9v0.9h-0.9zM458.1 301.4h0.9v0.9h-0.9zM460.9 302.6h0.9v0.9h-0.9zM444.4 300.8h0.9v0.9h-0.9zM446.1 300.8h0.9v0.9h-0.9zM443.7 301.9h0.9v0.9h-0.9zM433.2 304.2h0.9v0.9h-0.9zM440.4 299.7h0.9v0.9h-0.9zM443.6 304.5h0.9v0.9h-0.9zM436.5 305.4h0.9v0.9h-0.9zM457.5 302.9h0.9v0.9h-0.9zM446.7 301.7h0.9v0.9h-0.9zM451.2 300.9h0.9v0.9h-0.9zM442.1 300.6h0.9v0.9h-0.9zM444.5 301.4h0.9v0.9h-0.9zM457.1 304.6h0.9v0.9h-0.9zM448.0 299.5h0.9v0.9h-0.9zM452.1 304.2h0.9v0.9h-0.9zM446.5 303.5h0.9v0.9h-0.9zM450.8 299.6h0.9v0.9h-0.9zM461.7 299.9h0.9v0.9h-0.9zM441.6 303.9h0.9v0.9h-0.9zM449.6 303.5h0.9v0.9h-0.9zM455.0 301.4h0.9v0.9h-0.9z" fill="#333"/>
<path d="M460.6 310.6h0.9v0.9h-0.9zM439.7 311.8h0.9v0.9h-0.9zM446.7 309.8h0.9v0.9h-0.9zM436.7 311.1h0.9v0.9h-0.9zM453.7 306.9h0.9v0.9h-0.9zM435.8 312.9h0.9v0.9h-0.9zM438.7 311.6h0.9v0.9h-0.9zM457.5 307.0h0.9v0.9h-0.9zM449.0 307.7h0.9v0.9h-0.9zM454.2 310.0h0.9v0.9h-0.9zM456.5 311.3h0.9v0.9h-0.9zM452.4 307.0h0.9v0.9h-0.9zM439.3 312.7h0.9v0.9h-0.9zM455.4 308.4h0.9v0.9h-0.9zM436.7 313.0h0.9v0.9h-0.9zM441.6 311.3h0.9v0.9h-0.9zM447.3 309.4h0.9v0.9h-0.9zM436.7 308.5h0.9v0.9h-0.9zM436.4 306.7h0.9v0.9h-0.9zM453.9 306.6h0.9v0.9h-0.9zM456.7 310.4h0.9v0.9h-0.9zM444.9 311.4h0.9v0.9h-0.9zM445.5 312.4h0.9v0.9h-0.9zM439.6 308.6h0.9v0.9h-0.9zM449.7 312.6h0.9v0.9h-0.9zM451.6 308.1h0.9v0.9h-0.9zM462.9 312.6h0.9v0.9h-0.9zM434.3 312.4h0.9v0.9h-0.9zM462.1 307.1h0.9v0.9h-0.9zM464.7 312.0h0.9v0.9h-0.9zM444.1 310.9h0.9v0.9h-0.9zM456.2 310.9h0.9v0.9h-0.9zM459.4 311.9h0.9v0.9h-0.9zM453.8 309.8h0.9v0.9h-0.9zM442.2 309.5h0.9v0.9h-0.9zM452.9 308.6h0.9v0.9h-0.9zM461.1 312.1h0.9v0.9h-0.9zM436.4 312.3h0.9v0.9h-0.9zM448.4 307.1h0.9v0.9h-0.9zM433.7 311.4h0.9v0.9h-0.9zM460.0 307.9h0.9v0.9h-0.9zM457.9 307.3h0.9v0.9h-0.9zM434.5 307.4h0.9v0.9h-0.9zM456.9 310.0h0.9v0.9h-0.9zM455.1 308.0h0.9v0.9h-0.9zM437.0 307.7h0.9v0.9h-0.9zM449.8 306.7h0.9v0.9h-0.9zM455.1 308.3h0.9v0.9h-0.9zM443.7 311.4h0.9v0.9h-0.9zM449.1 306.2h0.9v0.9h-0.9zM464.2 309.4h0.9v0.9h-0.9zM453.3 310.2h0.9v0.9h-0.9zM449.1 306.3h0.9v0.9h-0.9zM435.1 308.1h0.9v0.9h-0.9zM436.9 312.3h0.9v0.9h-0.9zM460.2 313.0h0.9v0.9h-0.9zM456.8 312.0h0.9v0.9h-0.9zM459.7 307.2h0.9v0.9h-0.9zM451.5 311.3h0.9v0.9h-0.9zM451.4 309.2h0.9v0.9h-0.9zM450.0 307.2h0.9v0.9h-0.9zM456.5 309.4h0.9v0.9h-0.9zM443.6 312.5h0.9v0.9h-0.9zM448.9 312.1h0.9v0.9h-0.9zM448.0 308.7h0.9v0.9h-0.9zM454.2 306.4h0.9v0.9h-0.9zM439.9 312.3h0.9v0.9h-0.9zM433.8 312.9h0.9v0.9h-0.9zM435.8 309.6h0.9v0.9h-0.9zM438.7 307.6h0.9v0.9h-0.9zM460.4 309.8h0.9v0.9h-0.9zM455.9 310.9h0.9v0.9h-0.9zM457.0 309.4h0.9v0.9h-0.9zM447.2 308.5h0.9v0.9h-0.9zM436.3 307.7h0.9v0.9h-0.9zM447.9 308.1h0.9v0.9h-0.9zM460.6 306.3h0.9v0.9h-0.9zM449.3 307.8h0.9v0.9h-0.9zM453.2 312.7h0.9v0.9h-0.9zM445.0 306.1h0.9v0.9h-0.9zM437.8 311.1h0.9v0.9h-0.9zM453.1 311.5h0.9v0.9h-0.9zM448.5 308.8h0.9v0.9h-0.9zM444.1 310.2h0.9v0.9h-0.9zM441.3 307.5h0.9v0.9h-0.9zM455.3 310.7h0.9v0.9h-0.9zM443.2 311.0h0.9v0.9h-0.9zM451.4 311.1h0.9v0.9h-0.9zM441.3 309.4h0.9v0.9h-0.9zM457.1 312.8h0.9v0.9h-0.9zM445.0 312.1h0.9v0.9h-0.9zM448.3 310.0h0.9v0.9h-0.9zM462.7 310.8h0.9v0.9h-0.9zM456.0 307.9h0.9v0.9h-0.9zM456.6 312.6h0.9v0.9h-0.9zM443.9 310.5h0.9v0.9h-0.9zM459.9 312.3h0.9v0.9h-0.9zM445.3 308.0h0.9v0.9h-0.9zM464.6 312.9h0.9v0.9h-0.9zM461.7 306.7h0.9v0.9h-0.9z" fill="#666"/>
<path d="M449.8 288.7h0.9v0.9h-0.9zM438.1 288.3h0.9v0.9h-0.9zM440.3 290.2h0.9v0.9h-0.9zM456.4 288.7h0.9v0.9h-0.9zM436.9 289.5h0.9v0.9h-0.9zM445.7 289.0h0.9v0.9h-0.9zM440.4 288.7h0.9v0.9h-0.9zM458.8 290.8h0.9v0.9h-0.9zM437.3 289.5h0.9v0.9h-0.9zM444.4 290.0h0.9v0.9h-0.9zM459.0 290.1h0.9v0.9h-0.9zM454.2 290.5h0.9v0.9h-0.9zM454.7 288.8h0.9v0.9h-0.9zM462.8 288.2h0.9v0.9h-0.9zM435.7 289.4h0.9v0.9h-0.9zM453.6 288.5h0.9v0.9h-0.9zM455.9 288.1h0.9v0.9h-0.9zM455.9 290.8h0.9v0.9h-0.9zM455.0 289.9h0.9v0.9h-0.9zM437.0 289.2h0.9v0.9h-0.9zM437.4 288.4h0.9v0.9h-0.9zM456.6 290.3h0.9v0.9h-0.9zM452.1 289.6h0.9v0.9h-0.9zM442.4 288.5h0.9v0.9h-0.9zM435.3 290.9h0.9v0.9h-0.9zM449.9 290.9h0.9v0.9h-0.9zM437.5 290.8h0.9v0.9h-0.9zM456.0 290.5h0.9v0.9h-0.9zM444.5 289.6h0.9v0.9h-0.9zM457.6 288.9h0.9v0.9h-0.9zM437.7 290.0h0.9v0.9h-0.9zM448.8 288.5h0.9v0.9h-0.9zM437.8 289.9h0.9v0.9h-0.9zM456.9 288.2h0.9v0.9h-0.9zM450.7 288.0h0.9v0.9h-0.9zM441.6 290.1h0.9v0.9h-0.9zM462.0 289.0h0.9v0.9h-0.9zM454.1 290.1h0.9v0.9h-0.9zM444.4 290.3h0.9v0.9h-0.9zM458.9 290.5h0.9v0.9h-0.9zM445.6 289.8h0.9v0.9h-0.9zM461.4 290.5h0.9v0.9h-0.9zM443.3 290.0h0.9v0.9h-0.9zM462.6 290.8h0.9v0.9h-0.9zM436.7 290.7h0.9v0.9h-0.9zM455.6 288.1h0.9v0.9h-0.9zM443.2 288.8h0.9v0.9h-0.9zM446.9 289.2h0.9v0.9h-0.9zM452.8 288.8h0.9v0.9h-0.9zM436.3 288.5h0.9v0.9h-0.9z" fill="#666"/>
<path d="M468.4 326.3h0.9v0.9h-0.9zM464.1 325.1h0.9v0.9h-0.9zM464.9 327.4h0.9v0.9h-0.9zM467.8 316.5h0.9v0.9h-0.9zM465.1 317.8h0.9v0.9h-0.9zM465.3 323.5h0.9v0.9h-0.9zM468.8 329.0h0.9v0.9h-0.9zM467.8 321.5h0.9v0.9h-0.9zM466.2 317.2h0.9v0.9h-0.9zM464.7 323.5h0.9v0.9h-0.9zM465.3 329.3h0.9v0.9h-0.9zM468.9 327.9h0.9v0.9h-0.9zM468.0 328.4h0.9v0.9h-0.9zM464.3 320.6h0.9v0.9h-0.9zM467.5 318.2h0.9v0.9h-0.9zM465.9 327.9h0.9v0.9h-0.9zM467.6 326.6h0.9v0.9h-0.9zM465.5 327.6h0.9v0.9h-0.9zM464.7 320.3h0.9v0.9h-0.9zM464.1 318.6h0.9v0.9h-0.9zM465.5 317.8h0.9v0.9h-0.9zM468.3 327.9h0.9v0.9h-0.9zM468.5 328.7h0.9v0.9h-0.9zM467.4 319.9h0.9v0.9h-0.9zM467.7 328.0h0.9v0.9h-0.9zM465.0 320.1h0.9v0.9h-0.9zM465.8 321.2h0.9v0.9h-0.9zM468.5 323.1h0.9v0.9h-0.9zM468.9 317.5h0.9v0.9h-0.9zM466.2 318.3h0.9v0.9h-0.9zM467.9 318.3h0.9v0.9h-0.9zM468.7 318.2h0.9v0.9h-0.9zM469.0 322.2h0.9v0.9h-0.9zM465.5 315.6h0.9v0.9h-0.9zM467.3 326.5h0.9v0.9h-0.9zM465.9 316.8h0.9v0.9h-0.9zM466.3 321.1h0.9v0.9h-0.9zM466.3 324.3h0.9v0.9h-0.9zM465.4 316.2h0.9v0.9h-0.9zM464.1 320.5h0.9v0.9h-0.9z" fill="#888"/>
<path d="M450.9 332.0h0.9v0.9h-0.9zM450.5 333.3h0.9v0.9h-0.9zM460.8 332.8h0.9v0.9h-0.9zM457.6 333.0h0.9v0.9h-0.9zM437.6 331.5h0.9v0.9h-0.9zM459.0 330.9h0.9v0.9h-0.9zM450.5 333.5h0.9v0.9h-0.9zM454.3 333.7h0.9v0.9h-0.9zM438.8 332.8h0.9v0.9h-0.9zM448.2 333.6h0.9v0.9h-0.9zM455.0 333.0h0.9v0.9h-0.9zM457.9 332.6h0.9v0.9h-0.9zM458.2 332.0h0.9v0.9h-0.9zM440.5 331.8h0.9v0.9h-0.9zM459.0 332.3h0.9v0.9h-0.9zM451.1 331.4h0.9v0.9h-0.9zM454.1 332.1h0.9v0.9h-0.9zM459.5 332.3h0.9v0.9h-0.9zM446.2 330.8h0.9v0.9h-0.9zM461.6 332.0h0.9v0.9h-0.9zM460.4 331.6h0.9v0.9h-0.9zM458.2 332.7h0.9v0.9h-0.9zM445.4 333.3h0.9v0.9h-0.9zM449.8 332.7h0.9v0.9h-0.9zM439.2 332.8h0.9v0.9h-0.9zM456.8 332.7h0.9v0.9h-0.9zM460.7 331.5h0.9v0.9h-0.9zM438.8 331.9h0.9v0.9h-0.9zM456.3 333.4h0.9v0.9h-0.9zM454.8 333.7h0.9v0.9h-0.9zM435.1 331.3h0.9v0.9h-0.9zM461.5 330.7h0.9v0.9h-0.9zM448.4 333.8h0.9v0.9h-0.9zM442.1 333.5h0.9v0.9h-0.9zM434.9 332.6h0.9v0.9h-0.9zM457.5 333.3h0.9v0.9h-0.9zM444.1 332.6h0.9v0.9h-0.9zM449.4 333.6h0.9v0.9h-0.9zM439.8 331.5h0.9v0.9h-0.9zM452.2 332.1h0.9v0.9h-0.9z" fill="#999"/>
<path d="M432 292.3 C440 290.1 455 289.6 463 290.2 C467.8 290.8 467.8 298 463 299.2 C455 300.5 440 300.6 432 299.6 Z" fill="#000" filter="url(#bl2)"/>
<path d="M438 292.6 C446 291.3 455 291 461 291.5 C464.5 292 464.5 297 461 297.8 C455 298.7 446 298.9 438 298.4 Z" fill="#000" filter="url(#bl)"/>
<path d="M431 315 C438 312.6 455 312.2 461 313.6 C466 315 466.5 327 462 329.5 C455 331 440 331.1 431 330.6 Z" fill="#000" filter="url(#bl2)"/>
<path d="M431 316.5 C438 314.3 453 314 459 315.2 C463 316.5 463.5 325.5 460 327.8 C455 329.3 440 329.6 431 329.2 Z" fill="#000"/>
<path d="M440.3 318.1h0.8v0.8h-0.8zM437.3 326.6h0.8v0.8h-0.8zM438.2 318.7h0.8v0.8h-0.8zM446.7 310.4h0.8v0.8h-0.8zM429.1 335.2h0.8v0.8h-0.8zM434.4 319.7h0.8v0.8h-0.8zM455.5 318.0h0.8v0.8h-0.8zM447.1 324.2h0.8v0.8h-0.8zM453.0 311.9h0.8v0.8h-0.8zM423.4 313.2h0.8v0.8h-0.8zM437.8 318.8h0.8v0.8h-0.8zM440.8 318.6h0.8v0.8h-0.8zM448.4 322.5h0.8v0.8h-0.8zM440.4 329.3h0.8v0.8h-0.8zM460.1 318.9h0.8v0.8h-0.8zM447.2 325.2h0.8v0.8h-0.8zM448.2 325.9h0.8v0.8h-0.8zM448.2 315.0h0.8v0.8h-0.8zM457.2 323.5h0.8v0.8h-0.8zM441.9 315.9h0.8v0.8h-0.8zM462.6 328.9h0.8v0.8h-0.8zM454.0 325.0h0.8v0.8h-0.8zM450.0 322.1h0.8v0.8h-0.8zM448.5 313.3h0.8v0.8h-0.8zM454.8 322.8h0.8v0.8h-0.8zM461.2 317.0h0.8v0.8h-0.8zM460.3 326.6h0.8v0.8h-0.8zM452.9 321.2h0.8v0.8h-0.8zM459.4 316.7h0.8v0.8h-0.8zM449.5 328.0h0.8v0.8h-0.8zM464.3 326.7h0.8v0.8h-0.8zM447.7 318.1h0.8v0.8h-0.8zM421.0 329.6h0.8v0.8h-0.8zM465.4 320.1h0.8v0.8h-0.8zM449.4 320.0h0.8v0.8h-0.8zM432.8 322.8h0.8v0.8h-0.8zM445.4 317.1h0.8v0.8h-0.8zM436.5 319.1h0.8v0.8h-0.8zM475.3 321.0h0.8v0.8h-0.8zM454.5 331.9h0.8v0.8h-0.8zM427.6 331.7h0.8v0.8h-0.8zM455.1 320.3h0.8v0.8h-0.8zM442.8 332.5h0.8v0.8h-0.8zM472.9 321.7h0.8v0.8h-0.8zM434.3 324.5h0.8v0.8h-0.8zM418.8 327.7h0.8v0.8h-0.8zM448.9 323.9h0.8v0.8h-0.8zM443.5 337.7h0.8v0.8h-0.8zM442.6 323.6h0.8v0.8h-0.8zM420.2 314.2h0.8v0.8h-0.8zM453.5 330.5h0.8v0.8h-0.8zM469.8 319.3h0.8v0.8h-0.8zM423.2 320.0h0.8v0.8h-0.8zM463.2 302.6h0.8v0.8h-0.8zM440.6 328.5h0.8v0.8h-0.8zM478.5 327.3h0.8v0.8h-0.8zM453.7 327.2h0.8v0.8h-0.8zM445.6 328.4h0.8v0.8h-0.8zM462.4 333.0h0.8v0.8h-0.8zM454.8 321.7h0.8v0.8h-0.8z" fill="#444"/>
<path d="M460.3 297.9h0.8v0.8h-0.8zM440.1 290.6h0.8v0.8h-0.8zM444.8 295.4h0.8v0.8h-0.8zM461.7 294.4h0.8v0.8h-0.8zM453.7 291.1h0.8v0.8h-0.8zM433.0 295.8h0.8v0.8h-0.8zM453.3 295.1h0.8v0.8h-0.8zM446.8 293.6h0.8v0.8h-0.8zM439.2 296.4h0.8v0.8h-0.8zM454.2 290.0h0.8v0.8h-0.8zM444.1 294.8h0.8v0.8h-0.8zM430.2 296.5h0.8v0.8h-0.8zM435.7 296.0h0.8v0.8h-0.8zM470.2 298.8h0.8v0.8h-0.8zM430.8 290.8h0.8v0.8h-0.8zM451.7 289.7h0.8v0.8h-0.8zM456.3 295.8h0.8v0.8h-0.8zM456.7 296.6h0.8v0.8h-0.8zM434.3 302.4h0.8v0.8h-0.8zM445.1 297.2h0.8v0.8h-0.8zM450.7 291.9h0.8v0.8h-0.8zM458.6 297.8h0.8v0.8h-0.8zM441.3 292.0h0.8v0.8h-0.8zM435.0 289.8h0.8v0.8h-0.8zM461.0 304.1h0.8v0.8h-0.8zM462.3 296.1h0.8v0.8h-0.8zM453.4 297.5h0.8v0.8h-0.8zM441.7 297.0h0.8v0.8h-0.8zM453.9 301.3h0.8v0.8h-0.8zM450.3 296.0h0.8v0.8h-0.8z" fill="#444"/>
<path d="M490.7 321.7h0.9v0.9h-0.9zM472.8 322.3h0.9v0.9h-0.9zM469.9 321.2h0.9v0.9h-0.9zM492.4 312.2h0.9v0.9h-0.9zM492.8 329.2h0.9v0.9h-0.9zM485.1 316.7h0.9v0.9h-0.9zM482.8 320.6h0.9v0.9h-0.9zM482.3 319.5h0.9v0.9h-0.9zM475.5 328.4h0.9v0.9h-0.9zM493.3 323.6h0.9v0.9h-0.9zM486.3 324.1h0.9v0.9h-0.9zM485.0 313.9h0.9v0.9h-0.9zM484.0 323.5h0.9v0.9h-0.9zM489.4 315.1h0.9v0.9h-0.9zM485.0 325.8h0.9v0.9h-0.9zM487.0 326.2h0.9v0.9h-0.9zM471.6 323.9h0.9v0.9h-0.9zM485.1 336.3h0.9v0.9h-0.9zM498.5 327.2h0.9v0.9h-0.9zM476.9 327.6h0.9v0.9h-0.9zM480.0 324.9h0.9v0.9h-0.9zM488.1 322.8h0.9v0.9h-0.9zM488.7 329.8h0.9v0.9h-0.9zM486.0 330.6h0.9v0.9h-0.9zM468.1 316.2h0.9v0.9h-0.9zM485.0 330.3h0.9v0.9h-0.9zM471.5 327.1h0.9v0.9h-0.9zM474.4 329.8h0.9v0.9h-0.9zM485.4 326.8h0.9v0.9h-0.9zM478.6 316.5h0.9v0.9h-0.9zM487.5 317.0h0.9v0.9h-0.9zM506.2 334.9h0.9v0.9h-0.9zM487.2 325.5h0.9v0.9h-0.9zM486.8 315.5h0.9v0.9h-0.9zM473.8 326.1h0.9v0.9h-0.9zM475.9 321.8h0.9v0.9h-0.9zM472.5 312.9h0.9v0.9h-0.9zM476.7 310.3h0.9v0.9h-0.9zM472.3 314.4h0.9v0.9h-0.9zM475.7 325.6h0.9v0.9h-0.9zM479.3 323.7h0.9v0.9h-0.9zM473.0 322.5h0.9v0.9h-0.9zM469.6 325.7h0.9v0.9h-0.9zM470.1 327.6h0.9v0.9h-0.9zM484.6 311.4h0.9v0.9h-0.9zM481.5 322.2h0.9v0.9h-0.9zM489.2 319.0h0.9v0.9h-0.9zM489.4 316.6h0.9v0.9h-0.9zM478.3 320.7h0.9v0.9h-0.9zM486.4 323.3h0.9v0.9h-0.9zM469.5 322.4h0.9v0.9h-0.9zM499.3 315.3h0.9v0.9h-0.9zM490.6 321.1h0.9v0.9h-0.9zM479.3 336.1h0.9v0.9h-0.9zM471.7 317.7h0.9v0.9h-0.9zM484.0 313.9h0.9v0.9h-0.9zM466.0 325.7h0.9v0.9h-0.9zM474.8 327.6h0.9v0.9h-0.9zM487.0 326.8h0.9v0.9h-0.9zM481.6 317.3h0.9v0.9h-0.9zM477.1 330.0h0.9v0.9h-0.9zM488.6 319.3h0.9v0.9h-0.9zM472.7 317.2h0.9v0.9h-0.9zM483.3 320.3h0.9v0.9h-0.9zM477.0 323.3h0.9v0.9h-0.9zM474.2 328.3h0.9v0.9h-0.9zM484.7 327.7h0.9v0.9h-0.9zM473.1 323.9h0.9v0.9h-0.9zM496.2 329.6h0.9v0.9h-0.9zM476.3 324.5h0.9v0.9h-0.9zM496.9 329.4h0.9v0.9h-0.9zM472.2 315.6h0.9v0.9h-0.9zM485.8 314.6h0.9v0.9h-0.9zM471.4 328.7h0.9v0.9h-0.9zM470.3 315.7h0.9v0.9h-0.9zM482.3 322.2h0.9v0.9h-0.9zM486.4 323.4h0.9v0.9h-0.9zM470.8 321.1h0.9v0.9h-0.9zM490.5 321.3h0.9v0.9h-0.9zM474.6 332.4h0.9v0.9h-0.9zM482.0 308.8h0.9v0.9h-0.9zM484.0 329.3h0.9v0.9h-0.9zM485.8 337.8h0.9v0.9h-0.9zM466.6 324.1h0.9v0.9h-0.9zM493.9 323.9h0.9v0.9h-0.9zM485.5 328.4h0.9v0.9h-0.9zM477.6 335.0h0.9v0.9h-0.9zM472.8 316.9h0.9v0.9h-0.9zM467.4 324.5h0.9v0.9h-0.9zM470.1 322.9h0.9v0.9h-0.9zM485.4 327.4h0.9v0.9h-0.9zM478.3 325.0h0.9v0.9h-0.9zM471.9 328.0h0.9v0.9h-0.9zM476.8 321.5h0.9v0.9h-0.9zM493.5 324.3h0.9v0.9h-0.9zM478.4 320.0h0.9v0.9h-0.9zM476.3 320.0h0.9v0.9h-0.9zM491.8 323.2h0.9v0.9h-0.9zM484.7 323.1h0.9v0.9h-0.9zM481.4 317.0h0.9v0.9h-0.9zM476.1 333.4h0.9v0.9h-0.9zM468.6 323.2h0.9v0.9h-0.9zM471.6 315.7h0.9v0.9h-0.9zM477.2 330.6h0.9v0.9h-0.9zM479.2 319.5h0.9v0.9h-0.9zM483.8 327.0h0.9v0.9h-0.9zM485.4 323.9h0.9v0.9h-0.9zM482.8 325.5h0.9v0.9h-0.9zM482.8 325.0h0.9v0.9h-0.9zM472.9 320.5h0.9v0.9h-0.9zM463.8 324.2h0.9v0.9h-0.9zM476.8 336.2h0.9v0.9h-0.9zM473.4 310.6h0.9v0.9h-0.9zM475.8 324.4h0.9v0.9h-0.9zM478.8 326.6h0.9v0.9h-0.9zM471.1 317.7h0.9v0.9h-0.9zM472.1 315.8h0.9v0.9h-0.9zM480.2 337.0h0.9v0.9h-0.9zM481.9 321.8h0.9v0.9h-0.9zM475.8 336.5h0.9v0.9h-0.9zM485.0 327.2h0.9v0.9h-0.9zM479.2 324.5h0.9v0.9h-0.9zM472.8 326.9h0.9v0.9h-0.9zM481.3 327.8h0.9v0.9h-0.9zM496.1 331.1h0.9v0.9h-0.9zM475.6 326.6h0.9v0.9h-0.9zM490.3 324.9h0.9v0.9h-0.9zM492.0 325.1h0.9v0.9h-0.9zM493.0 332.1h0.9v0.9h-0.9zM474.4 328.9h0.9v0.9h-0.9zM497.1 318.0h0.9v0.9h-0.9zM481.9 320.2h0.9v0.9h-0.9zM479.0 326.0h0.9v0.9h-0.9zM479.2 320.3h0.9v0.9h-0.9zM485.8 321.7h0.9v0.9h-0.9zM481.4 318.3h0.9v0.9h-0.9zM479.6 322.4h0.9v0.9h-0.9zM491.3 326.5h0.9v0.9h-0.9zM475.2 330.0h0.9v0.9h-0.9zM472.7 324.1h0.9v0.9h-0.9zM487.3 336.4h0.9v0.9h-0.9zM486.6 323.5h0.9v0.9h-0.9zM489.8 343.2h0.9v0.9h-0.9zM472.4 330.0h0.9v0.9h-0.9zM489.7 327.0h0.9v0.9h-0.9zM484.9 321.0h0.9v0.9h-0.9zM495.1 307.1h0.9v0.9h-0.9zM471.0 323.1h0.9v0.9h-0.9zM482.7 325.1h0.9v0.9h-0.9zM478.8 335.5h0.9v0.9h-0.9zM468.3 315.7h0.9v0.9h-0.9zM475.3 335.4h0.9v0.9h-0.9zM490.0 322.5h0.9v0.9h-0.9zM477.2 328.3h0.9v0.9h-0.9zM475.2 308.8h0.9v0.9h-0.9zM487.9 324.8h0.9v0.9h-0.9zM488.9 321.9h0.9v0.9h-0.9zM488.9 328.1h0.9v0.9h-0.9zM474.7 324.5h0.9v0.9h-0.9zM480.5 317.1h0.9v0.9h-0.9zM489.2 329.7h0.9v0.9h-0.9zM475.8 328.2h0.9v0.9h-0.9zM475.0 327.6h0.9v0.9h-0.9zM487.6 330.1h0.9v0.9h-0.9zM493.5 330.6h0.9v0.9h-0.9zM471.8 323.9h0.9v0.9h-0.9zM460.2 315.9h0.9v0.9h-0.9zM469.4 315.7h0.9v0.9h-0.9zM472.9 332.1h0.9v0.9h-0.9zM479.9 328.3h0.9v0.9h-0.9zM485.9 324.6h0.9v0.9h-0.9zM479.8 321.4h0.9v0.9h-0.9zM475.4 324.2h0.9v0.9h-0.9zM482.2 324.1h0.9v0.9h-0.9zM473.3 322.0h0.9v0.9h-0.9zM480.6 319.8h0.9v0.9h-0.9zM475.9 337.0h0.9v0.9h-0.9zM502.4 325.4h0.9v0.9h-0.9zM487.5 320.4h0.9v0.9h-0.9zM474.3 316.2h0.9v0.9h-0.9zM473.0 319.6h0.9v0.9h-0.9zM477.5 328.3h0.9v0.9h-0.9zM467.8 328.6h0.9v0.9h-0.9zM475.2 322.7h0.9v0.9h-0.9zM475.1 324.3h0.9v0.9h-0.9zM488.1 322.2h0.9v0.9h-0.9zM477.6 317.4h0.9v0.9h-0.9zM474.7 331.8h0.9v0.9h-0.9zM470.3 326.2h0.9v0.9h-0.9zM471.6 338.9h0.9v0.9h-0.9zM480.5 319.5h0.9v0.9h-0.9zM479.3 323.2h0.9v0.9h-0.9zM490.1 329.3h0.9v0.9h-0.9zM476.0 322.5h0.9v0.9h-0.9zM489.5 315.7h0.9v0.9h-0.9zM483.1 318.3h0.9v0.9h-0.9zM481.0 324.6h0.9v0.9h-0.9zM464.9 326.1h0.9v0.9h-0.9zM470.7 323.4h0.9v0.9h-0.9zM486.9 330.0h0.9v0.9h-0.9zM492.2 330.0h0.9v0.9h-0.9zM482.7 325.9h0.9v0.9h-0.9zM487.1 324.2h0.9v0.9h-0.9zM477.7 322.5h0.9v0.9h-0.9zM478.0 327.3h0.9v0.9h-0.9zM475.7 329.5h0.9v0.9h-0.9zM488.8 324.4h0.9v0.9h-0.9zM483.7 326.7h0.9v0.9h-0.9zM479.1 322.1h0.9v0.9h-0.9zM478.4 315.5h0.9v0.9h-0.9zM485.5 318.0h0.9v0.9h-0.9zM483.6 328.6h0.9v0.9h-0.9zM474.3 326.7h0.9v0.9h-0.9zM494.7 333.5h0.9v0.9h-0.9zM483.1 324.3h0.9v0.9h-0.9zM481.1 329.2h0.9v0.9h-0.9zM492.8 331.9h0.9v0.9h-0.9zM489.2 330.0h0.9v0.9h-0.9zM480.3 320.3h0.9v0.9h-0.9zM485.3 322.9h0.9v0.9h-0.9zM472.4 324.8h0.9v0.9h-0.9zM475.9 318.1h0.9v0.9h-0.9zM462.9 326.8h0.9v0.9h-0.9zM490.8 330.1h0.9v0.9h-0.9zM465.8 321.1h0.9v0.9h-0.9zM486.5 335.8h0.9v0.9h-0.9zM474.4 322.3h0.9v0.9h-0.9zM473.2 322.8h0.9v0.9h-0.9zM479.4 322.6h0.9v0.9h-0.9zM483.1 319.8h0.9v0.9h-0.9zM485.9 326.5h0.9v0.9h-0.9zM495.2 324.1h0.9v0.9h-0.9zM483.9 334.0h0.9v0.9h-0.9zM488.0 327.6h0.9v0.9h-0.9zM476.2 327.2h0.9v0.9h-0.9zM486.7 322.7h0.9v0.9h-0.9zM482.2 315.5h0.9v0.9h-0.9zM477.3 323.5h0.9v0.9h-0.9zM480.2 318.9h0.9v0.9h-0.9zM480.5 329.7h0.9v0.9h-0.9zM482.5 323.8h0.9v0.9h-0.9zM484.2 334.0h0.9v0.9h-0.9zM476.9 328.4h0.9v0.9h-0.9zM475.1 329.0h0.9v0.9h-0.9zM487.0 325.4h0.9v0.9h-0.9zM467.4 325.3h0.9v0.9h-0.9zM476.1 327.9h0.9v0.9h-0.9zM493.4 329.5h0.9v0.9h-0.9zM459.3 319.7h0.9v0.9h-0.9zM475.5 327.0h0.9v0.9h-0.9zM486.5 339.7h0.9v0.9h-0.9zM467.8 323.5h0.9v0.9h-0.9zM501.8 322.5h0.9v0.9h-0.9zM460.3 319.8h0.9v0.9h-0.9zM492.5 315.3h0.9v0.9h-0.9zM493.5 331.1h0.9v0.9h-0.9zM488.3 324.4h0.9v0.9h-0.9zM479.2 325.8h0.9v0.9h-0.9zM483.9 335.1h0.9v0.9h-0.9zM473.8 339.1h0.9v0.9h-0.9zM487.5 318.7h0.9v0.9h-0.9zM472.0 330.3h0.9v0.9h-0.9zM478.8 327.7h0.9v0.9h-0.9zM489.0 326.4h0.9v0.9h-0.9zM472.1 326.9h0.9v0.9h-0.9zM478.1 323.9h0.9v0.9h-0.9zM482.3 333.5h0.9v0.9h-0.9zM470.3 327.7h0.9v0.9h-0.9zM490.3 326.1h0.9v0.9h-0.9zM483.7 331.5h0.9v0.9h-0.9zM468.9 329.4h0.9v0.9h-0.9zM480.6 326.8h0.9v0.9h-0.9zM474.8 326.0h0.9v0.9h-0.9zM475.7 334.6h0.9v0.9h-0.9zM481.6 327.1h0.9v0.9h-0.9zM475.3 323.5h0.9v0.9h-0.9zM488.7 318.9h0.9v0.9h-0.9zM475.4 322.0h0.9v0.9h-0.9zM488.9 317.7h0.9v0.9h-0.9zM480.6 324.7h0.9v0.9h-0.9zM487.8 325.6h0.9v0.9h-0.9zM476.7 311.7h0.9v0.9h-0.9zM477.0 324.1h0.9v0.9h-0.9zM471.8 327.9h0.9v0.9h-0.9zM485.6 325.0h0.9v0.9h-0.9zM488.5 318.3h0.9v0.9h-0.9zM498.0 331.6h0.9v0.9h-0.9zM491.3 319.8h0.9v0.9h-0.9zM483.0 316.6h0.9v0.9h-0.9zM479.3 317.5h0.9v0.9h-0.9zM484.1 323.9h0.9v0.9h-0.9zM480.8 329.9h0.9v0.9h-0.9zM492.7 331.0h0.9v0.9h-0.9zM488.6 325.3h0.9v0.9h-0.9zM474.3 316.9h0.9v0.9h-0.9zM475.5 320.1h0.9v0.9h-0.9zM491.9 318.6h0.9v0.9h-0.9zM483.5 322.9h0.9v0.9h-0.9zM479.1 313.4h0.9v0.9h-0.9zM490.5 324.7h0.9v0.9h-0.9z" fill="#a8a8a8"/>
<path d="M483.2 319.4h0.9v0.9h-0.9zM479.3 320.6h0.9v0.9h-0.9zM482.3 322.6h0.9v0.9h-0.9zM475.3 320.9h0.9v0.9h-0.9zM472.7 329.8h0.9v0.9h-0.9zM476.8 330.4h0.9v0.9h-0.9zM485.8 326.1h0.9v0.9h-0.9zM485.2 320.9h0.9v0.9h-0.9zM477.7 324.5h0.9v0.9h-0.9zM486.0 322.3h0.9v0.9h-0.9zM478.4 330.8h0.9v0.9h-0.9zM487.6 326.3h0.9v0.9h-0.9zM482.4 327.0h0.9v0.9h-0.9zM477.7 323.4h0.9v0.9h-0.9zM484.0 317.0h0.9v0.9h-0.9zM476.1 321.9h0.9v0.9h-0.9zM475.3 320.5h0.9v0.9h-0.9zM472.7 326.5h0.9v0.9h-0.9zM481.3 325.4h0.9v0.9h-0.9zM479.7 321.8h0.9v0.9h-0.9zM479.6 323.4h0.9v0.9h-0.9zM478.0 331.3h0.9v0.9h-0.9zM487.2 321.2h0.9v0.9h-0.9zM477.9 321.3h0.9v0.9h-0.9zM476.4 324.1h0.9v0.9h-0.9zM486.2 322.2h0.9v0.9h-0.9zM487.1 323.3h0.9v0.9h-0.9zM481.7 327.1h0.9v0.9h-0.9zM471.3 331.9h0.9v0.9h-0.9zM477.0 317.9h0.9v0.9h-0.9zM483.1 324.9h0.9v0.9h-0.9zM480.1 325.2h0.9v0.9h-0.9zM487.8 324.7h0.9v0.9h-0.9zM473.2 324.3h0.9v0.9h-0.9zM483.4 323.6h0.9v0.9h-0.9zM476.9 329.0h0.9v0.9h-0.9zM486.6 323.1h0.9v0.9h-0.9zM479.6 324.5h0.9v0.9h-0.9zM485.2 325.0h0.9v0.9h-0.9zM476.8 325.4h0.9v0.9h-0.9z" fill="#888"/>
<path d="M482.6 293.5h0.8v0.8h-0.8zM492.0 300.6h0.8v0.8h-0.8zM483.9 302.5h0.8v0.8h-0.8zM485.4 294.8h0.8v0.8h-0.8zM483.6 297.2h0.8v0.8h-0.8zM476.0 295.3h0.8v0.8h-0.8zM477.4 299.8h0.8v0.8h-0.8zM475.6 297.3h0.8v0.8h-0.8zM485.5 296.2h0.8v0.8h-0.8zM478.3 295.3h0.8v0.8h-0.8zM475.5 296.4h0.8v0.8h-0.8zM485.9 293.0h0.8v0.8h-0.8zM488.2 298.0h0.8v0.8h-0.8zM469.9 293.9h0.8v0.8h-0.8zM497.5 297.6h0.8v0.8h-0.8zM484.3 296.4h0.8v0.8h-0.8zM483.2 299.3h0.8v0.8h-0.8zM492.5 295.9h0.8v0.8h-0.8zM484.6 299.1h0.8v0.8h-0.8zM479.2 293.2h0.8v0.8h-0.8zM501.6 297.8h0.8v0.8h-0.8zM475.4 295.3h0.8v0.8h-0.8zM483.2 296.6h0.8v0.8h-0.8zM490.8 296.2h0.8v0.8h-0.8zM475.4 298.8h0.8v0.8h-0.8zM483.2 289.9h0.8v0.8h-0.8zM487.1 297.0h0.8v0.8h-0.8zM503.2 291.5h0.8v0.8h-0.8zM476.9 299.6h0.8v0.8h-0.8zM483.6 290.1h0.8v0.8h-0.8zM489.3 293.0h0.8v0.8h-0.8zM484.6 291.0h0.8v0.8h-0.8zM474.4 300.9h0.8v0.8h-0.8zM487.3 292.1h0.8v0.8h-0.8zM484.9 296.3h0.8v0.8h-0.8zM487.6 294.4h0.8v0.8h-0.8zM493.1 290.6h0.8v0.8h-0.8zM492.1 295.0h0.8v0.8h-0.8zM487.3 298.0h0.8v0.8h-0.8zM486.5 295.4h0.8v0.8h-0.8zM475.2 298.8h0.8v0.8h-0.8zM482.9 294.9h0.8v0.8h-0.8zM485.8 296.0h0.8v0.8h-0.8zM480.8 294.8h0.8v0.8h-0.8zM484.8 297.0h0.8v0.8h-0.8z" fill="#c0c0c0"/>
</g>
<line x1="430.9" y1="255.3" x2="516.2" y2="255.3" stroke="#4a4a4a" stroke-width="1.1"/>
<line x1="516.2" y1="255.3" x2="516.2" y2="337.9" stroke="#4a4a4a" stroke-width="1.1"/>
<line x1="430.9" y1="255.3" x2="430.9" y2="337.9" stroke="#222" stroke-width="1.1"/>
<line x1="430.9" y1="337.9" x2="516.2" y2="337.9" stroke="#222" stroke-width="1.1"/>
<line x1="470.4" y1="255.3" x2="470.4" y2="337.9" stroke="#4a4a4a" stroke-width="1.1"/>
<line x1="430.9" y1="308.2" x2="516.2" y2="308.2" stroke="#4a4a4a" stroke-width="1.1"/>
<text x="429.59999999999997" y="264.40000000000003" font-size="4.8" text-anchor="end" fill="#333" stroke="#333" style="stroke-width:0.15px">10⁴</text>
<line x1="429.4" y1="262.90000000000003" x2="430.9" y2="262.90000000000003" stroke="#222" stroke-width="0.9"/>
<text x="429.59999999999997" y="283.6" font-size="4.8" text-anchor="end" fill="#333" stroke="#333" style="stroke-width:0.15px">10³</text>
<line x1="429.4" y1="282.1" x2="430.9" y2="282.1" stroke="#222" stroke-width="0.9"/>
<text x="429.59999999999997" y="302.8" font-size="4.8" text-anchor="end" fill="#333" stroke="#333" style="stroke-width:0.15px">10²</text>
<line x1="429.4" y1="301.3" x2="430.9" y2="301.3" stroke="#222" stroke-width="0.9"/>
<text x="429.59999999999997" y="322.0" font-size="4.8" text-anchor="end" fill="#333" stroke="#333" style="stroke-width:0.15px">10¹</text>
<line x1="429.4" y1="320.5" x2="430.9" y2="320.5" stroke="#222" stroke-width="0.9"/>
<text x="429.09999999999997" y="330.4" font-size="4.8" text-anchor="end" fill="#333" stroke="#333" style="stroke-width:0.15px">0</text>
<text x="440.28299999999996" y="345.29999999999995" font-size="4.8" text-anchor="middle" fill="#333" stroke="#333" style="stroke-width:0.15px">0</text>
<line x1="440.28299999999996" y1="337.9" x2="440.28299999999996" y2="339.5" stroke="#222" stroke-width="0.9"/>
<text x="448.813" y="345.29999999999995" font-size="4.8" text-anchor="middle" fill="#333" stroke="#333" style="stroke-width:0.15px">10¹</text>
<line x1="448.813" y1="337.9" x2="448.813" y2="339.5" stroke="#222" stroke-width="0.9"/>
<text x="468.432" y="345.29999999999995" font-size="4.8" text-anchor="middle" fill="#333" stroke="#333" style="stroke-width:0.15px">10²</text>
<line x1="468.432" y1="337.9" x2="468.432" y2="339.5" stroke="#222" stroke-width="0.9"/>
<text x="488.05100000000004" y="345.29999999999995" font-size="4.8" text-anchor="middle" fill="#333" stroke="#333" style="stroke-width:0.15px">10³</text>
<line x1="488.05100000000004" y1="337.9" x2="488.05100000000004" y2="339.5" stroke="#222" stroke-width="0.9"/>
<text x="507.6700000000001" y="345.29999999999995" font-size="4.8" text-anchor="middle" fill="#333" stroke="#333" style="stroke-width:0.15px">10⁴</text>
<line x1="507.6700000000001" y1="337.9" x2="507.6700000000001" y2="339.5" stroke="#222" stroke-width="0.9"/>
<path d="M432.4 337.9v1M435.4 337.9v1M438.4 337.9v1M441.4 337.9v1M444.4 337.9v1M447.4 337.9v1M450.4 337.9v1M453.4 337.9v1M456.4 337.9v1M459.4 337.9v1M462.4 337.9v1M465.4 337.9v1M468.4 337.9v1M471.4 337.9v1M474.4 337.9v1M477.4 337.9v1M480.4 337.9v1M483.4 337.9v1M486.4 337.9v1M489.4 337.9v1M492.4 337.9v1M495.4 337.9v1M498.4 337.9v1M501.4 337.9v1M504.4 337.9v1M507.4 337.9v1M510.4 337.9v1M513.4 337.9v1M430.9 256.8h-1M430.9 259.8h-1M430.9 262.8h-1M430.9 265.8h-1M430.9 268.8h-1M430.9 271.8h-1M430.9 274.8h-1M430.9 277.8h-1M430.9 280.8h-1M430.9 283.8h-1M430.9 286.8h-1M430.9 289.8h-1M430.9 292.8h-1M430.9 295.8h-1M430.9 298.8h-1M430.9 301.8h-1M430.9 304.8h-1M430.9 307.8h-1M430.9 310.8h-1M430.9 313.8h-1M430.9 316.8h-1M430.9 319.8h-1M430.9 322.8h-1M430.9 325.8h-1M430.9 328.8h-1M430.9 331.8h-1M430.9 334.8h-1" stroke="#444" stroke-width="0.7"/>
<text x="326.3" y="264.2" font-size="8.6" textLength="18.8" lengthAdjust="spacingAndGlyphs" style="stroke-width:0.12px">20.2</text>
<text x="380.6" y="264.2" font-size="8.6" textLength="29.4" lengthAdjust="spacingAndGlyphs" style="stroke-width:0.12px">0.0817</text>
<text x="326.1" y="336.6" font-size="8.6" textLength="19.0" lengthAdjust="spacingAndGlyphs" style="stroke-width:0.12px">78.4</text>
<text x="391.4" y="336.6" font-size="8.6" textLength="18.4" lengthAdjust="spacingAndGlyphs" style="stroke-width:0.12px">1.27</text>
<text x="432.0" y="263.9" font-size="8.6" textLength="19.4" lengthAdjust="spacingAndGlyphs" style="stroke-width:0.12px">41.5</text>
<text x="496.4" y="263.9" font-size="8.6" textLength="18.5" lengthAdjust="spacingAndGlyphs" style="stroke-width:0.12px">0.15</text>
<text x="432.6" y="336.7" font-size="8.6" textLength="18.6" lengthAdjust="spacingAndGlyphs" style="stroke-width:0.12px">56.5</text>
<text x="496.8" y="336.7" font-size="8.6" textLength="18.2" lengthAdjust="spacingAndGlyphs" style="stroke-width:0.12px">1.85</text>
<text transform="translate(312.0,312.4) rotate(-90)" font-size="14.2" textLength="23.6" lengthAdjust="spacingAndGlyphs" style="stroke-width:0.51px">RFP</text>
<line x1="310.5" y1="361.75" x2="310.5" y2="336.5" stroke="#000" stroke-width="1.5"/>
<line x1="310.5" y1="361" x2="331" y2="361" stroke="#000" stroke-width="1.5"/>
<path d="M307.7 338.0 L310.5 332.5 L313.3 338.0 Z" fill="#000"/>
<path d="M329.5 358.2 L335 361 L329.5 363.8 Z" fill="#000"/>
<text x="350.2" y="364.8" font-size="13.6" textLength="41.0" lengthAdjust="spacingAndGlyphs" style="stroke-width:0.49px">CD62L</text>
<text x="-1.1" y="402.4" font-size="17.6" font-weight="bold">D</text>
<text x="17.3" y="416" font-size="11.8" font-weight="bold" font-style="italic" textLength="27.8" lengthAdjust="spacingAndGlyphs">naive</text>
<text x="11.0" y="525.8" font-size="11.8" font-weight="bold" font-style="italic" textLength="41.6" lengthAdjust="spacingAndGlyphs">infected</text>
<text x="45" y="401.0" font-size="13.8" textLength="95" lengthAdjust="spacingAndGlyphs" style="stroke-width:0.50px">EpxCre/R-RFP/</text>
<text x="75" y="417.2" font-size="13.4">I&#954;B<tspan dy="-6.5" font-size="10.4" font-weight="bold" style="stroke-width:0.1px">F/+</tspan></text>
<text x="147.5" y="401.0" font-size="13.8" textLength="92.5" lengthAdjust="spacingAndGlyphs" style="stroke-width:0.50px">EpxCre/R-RFP/</text>
<text x="177.3" y="417.29999999999995" font-size="13.4">I&#954;B<tspan dy="-6.5" font-size="10.4" font-weight="bold" style="stroke-width:0.1px">F/F</tspan></text>
<g clip-path="url(#c3)">
<path d="M100.8 499.1h0.8v0.8h-0.8zM82.3 484.1h0.8v0.8h-0.8zM80.3 479.8h0.8v0.8h-0.8zM70.6 485.9h0.8v0.8h-0.8zM68.9 493.1h0.8v0.8h-0.8zM95.6 485.1h0.8v0.8h-0.8zM64.7 489.4h0.8v0.8h-0.8zM67.0 486.5h0.8v0.8h-0.8zM76.8 483.9h0.8v0.8h-0.8zM72.9 503.3h0.8v0.8h-0.8zM101.5 486.4h0.8v0.8h-0.8zM49.6 483.0h0.8v0.8h-0.8zM82.3 483.3h0.8v0.8h-0.8zM86.6 488.1h0.8v0.8h-0.8zM64.6 488.3h0.8v0.8h-0.8zM70.3 490.2h0.8v0.8h-0.8zM83.2 486.8h0.8v0.8h-0.8zM97.6 478.1h0.8v0.8h-0.8zM67.0 488.9h0.8v0.8h-0.8zM59.0 484.3h0.8v0.8h-0.8zM89.7 484.4h0.8v0.8h-0.8zM96.3 477.8h0.8v0.8h-0.8zM74.0 482.8h0.8v0.8h-0.8zM51.4 482.0h0.8v0.8h-0.8zM95.4 485.8h0.8v0.8h-0.8zM75.6 478.0h0.8v0.8h-0.8zM91.5 486.3h0.8v0.8h-0.8zM77.5 486.7h0.8v0.8h-0.8zM73.5 479.8h0.8v0.8h-0.8zM72.6 482.6h0.8v0.8h-0.8zM95.7 481.3h0.8v0.8h-0.8zM95.2 491.0h0.8v0.8h-0.8zM52.3 472.1h0.8v0.8h-0.8zM66.8 484.1h0.8v0.8h-0.8zM99.3 476.9h0.8v0.8h-0.8zM73.6 483.6h0.8v0.8h-0.8zM61.7 490.7h0.8v0.8h-0.8zM78.1 482.5h0.8v0.8h-0.8zM76.7 486.8h0.8v0.8h-0.8zM76.8 481.4h0.8v0.8h-0.8zM72.2 496.7h0.8v0.8h-0.8zM74.3 491.0h0.8v0.8h-0.8zM72.5 492.2h0.8v0.8h-0.8zM82.0 478.7h0.8v0.8h-0.8zM68.2 479.9h0.8v0.8h-0.8zM74.5 491.9h0.8v0.8h-0.8zM76.3 484.9h0.8v0.8h-0.8zM93.7 484.6h0.8v0.8h-0.8zM82.5 487.8h0.8v0.8h-0.8zM76.7 479.1h0.8v0.8h-0.8zM84.4 490.3h0.8v0.8h-0.8zM82.9 486.1h0.8v0.8h-0.8zM91.1 488.6h0.8v0.8h-0.8zM84.1 482.3h0.8v0.8h-0.8zM99.5 488.8h0.8v0.8h-0.8zM94.1 482.1h0.8v0.8h-0.8zM77.5 491.2h0.8v0.8h-0.8zM73.0 492.2h0.8v0.8h-0.8zM88.6 491.0h0.8v0.8h-0.8zM84.2 488.8h0.8v0.8h-0.8zM76.9 489.5h0.8v0.8h-0.8zM60.3 471.1h0.8v0.8h-0.8zM56.0 490.6h0.8v0.8h-0.8zM82.2 484.5h0.8v0.8h-0.8zM87.3 486.5h0.8v0.8h-0.8zM87.6 484.4h0.8v0.8h-0.8zM62.6 478.3h0.8v0.8h-0.8zM90.4 483.0h0.8v0.8h-0.8zM71.6 489.6h0.8v0.8h-0.8zM82.7 493.8h0.8v0.8h-0.8zM83.0 482.6h0.8v0.8h-0.8zM68.4 481.0h0.8v0.8h-0.8zM70.9 494.0h0.8v0.8h-0.8zM53.1 481.1h0.8v0.8h-0.8zM67.0 497.4h0.8v0.8h-0.8zM56.4 486.3h0.8v0.8h-0.8zM83.2 481.1h0.8v0.8h-0.8zM78.7 491.4h0.8v0.8h-0.8zM89.0 495.3h0.8v0.8h-0.8zM82.3 478.1h0.8v0.8h-0.8zM70.4 494.6h0.8v0.8h-0.8zM82.2 484.5h0.8v0.8h-0.8zM73.3 494.2h0.8v0.8h-0.8zM85.3 483.9h0.8v0.8h-0.8zM81.8 477.3h0.8v0.8h-0.8zM66.1 488.8h0.8v0.8h-0.8zM78.0 491.1h0.8v0.8h-0.8zM78.7 497.5h0.8v0.8h-0.8zM74.3 495.5h0.8v0.8h-0.8zM88.7 489.8h0.8v0.8h-0.8zM98.6 484.7h0.8v0.8h-0.8zM73.6 483.1h0.8v0.8h-0.8zM73.8 484.4h0.8v0.8h-0.8zM51.0 481.4h0.8v0.8h-0.8zM76.5 484.5h0.8v0.8h-0.8zM72.8 472.0h0.8v0.8h-0.8zM52.1 487.0h0.8v0.8h-0.8zM81.5 485.8h0.8v0.8h-0.8zM85.1 500.1h0.8v0.8h-0.8zM69.2 490.2h0.8v0.8h-0.8zM73.5 483.4h0.8v0.8h-0.8zM66.4 489.1h0.8v0.8h-0.8zM87.2 479.3h0.8v0.8h-0.8zM59.8 482.7h0.8v0.8h-0.8zM74.2 475.7h0.8v0.8h-0.8zM101.4 493.9h0.8v0.8h-0.8zM78.6 489.3h0.8v0.8h-0.8zM83.6 479.5h0.8v0.8h-0.8zM76.2 485.7h0.8v0.8h-0.8zM63.9 491.2h0.8v0.8h-0.8zM77.6 488.7h0.8v0.8h-0.8zM82.9 488.1h0.8v0.8h-0.8zM65.7 481.3h0.8v0.8h-0.8zM82.1 482.5h0.8v0.8h-0.8zM92.9 486.5h0.8v0.8h-0.8zM90.8 491.1h0.8v0.8h-0.8zM59.0 481.4h0.8v0.8h-0.8zM66.3 479.8h0.8v0.8h-0.8zM58.6 492.3h0.8v0.8h-0.8zM90.9 480.9h0.8v0.8h-0.8zM85.3 491.9h0.8v0.8h-0.8zM86.4 487.3h0.8v0.8h-0.8zM67.5 490.8h0.8v0.8h-0.8zM64.0 495.6h0.8v0.8h-0.8zM78.9 489.8h0.8v0.8h-0.8zM79.2 490.3h0.8v0.8h-0.8zM67.7 481.0h0.8v0.8h-0.8zM79.7 482.2h0.8v0.8h-0.8zM85.7 489.5h0.8v0.8h-0.8zM80.7 494.4h0.8v0.8h-0.8zM65.5 493.7h0.8v0.8h-0.8zM52.6 498.7h0.8v0.8h-0.8zM74.9 487.7h0.8v0.8h-0.8zM80.0 487.1h0.8v0.8h-0.8zM74.9 491.5h0.8v0.8h-0.8zM72.9 486.1h0.8v0.8h-0.8zM69.7 485.7h0.8v0.8h-0.8zM86.6 480.2h0.8v0.8h-0.8zM77.4 491.5h0.8v0.8h-0.8zM79.5 480.1h0.8v0.8h-0.8zM66.3 488.8h0.8v0.8h-0.8zM70.6 478.2h0.8v0.8h-0.8zM80.0 492.0h0.8v0.8h-0.8zM65.9 480.3h0.8v0.8h-0.8zM62.9 490.6h0.8v0.8h-0.8zM74.1 477.3h0.8v0.8h-0.8zM92.4 483.6h0.8v0.8h-0.8zM80.3 492.5h0.8v0.8h-0.8zM95.5 481.6h0.8v0.8h-0.8zM76.4 486.4h0.8v0.8h-0.8zM74.3 483.4h0.8v0.8h-0.8zM61.3 473.3h0.8v0.8h-0.8zM71.1 487.7h0.8v0.8h-0.8zM95.2 488.4h0.8v0.8h-0.8zM81.9 479.9h0.8v0.8h-0.8zM86.8 489.2h0.8v0.8h-0.8zM86.5 481.6h0.8v0.8h-0.8zM77.9 480.5h0.8v0.8h-0.8zM75.5 486.0h0.8v0.8h-0.8zM79.4 482.3h0.8v0.8h-0.8zM86.1 498.6h0.8v0.8h-0.8zM83.5 477.4h0.8v0.8h-0.8zM83.9 490.1h0.8v0.8h-0.8zM79.8 491.4h0.8v0.8h-0.8zM68.8 475.1h0.8v0.8h-0.8zM74.9 476.5h0.8v0.8h-0.8zM66.7 489.1h0.8v0.8h-0.8zM90.1 483.4h0.8v0.8h-0.8zM52.8 488.1h0.8v0.8h-0.8zM75.4 492.3h0.8v0.8h-0.8z" fill="#cccccc"/>
<path d="M79.8 485.6h0.8v0.8h-0.8zM75.6 487.5h0.8v0.8h-0.8zM65.6 488.1h0.8v0.8h-0.8zM83.2 482.8h0.8v0.8h-0.8zM76.4 485.7h0.8v0.8h-0.8zM83.9 486.7h0.8v0.8h-0.8zM83.4 483.5h0.8v0.8h-0.8zM73.7 484.6h0.8v0.8h-0.8zM92.3 491.4h0.8v0.8h-0.8zM88.5 485.6h0.8v0.8h-0.8zM87.1 487.6h0.8v0.8h-0.8zM74.9 483.7h0.8v0.8h-0.8zM79.6 485.1h0.8v0.8h-0.8zM78.7 479.9h0.8v0.8h-0.8zM79.5 484.9h0.8v0.8h-0.8zM75.3 488.6h0.8v0.8h-0.8zM84.6 491.3h0.8v0.8h-0.8zM83.4 488.6h0.8v0.8h-0.8zM84.2 487.1h0.8v0.8h-0.8zM79.0 485.2h0.8v0.8h-0.8zM89.7 483.2h0.8v0.8h-0.8zM83.1 484.5h0.8v0.8h-0.8zM65.6 486.8h0.8v0.8h-0.8zM78.2 482.6h0.8v0.8h-0.8zM81.7 487.8h0.8v0.8h-0.8zM87.8 482.0h0.8v0.8h-0.8zM80.2 479.7h0.8v0.8h-0.8zM80.5 482.0h0.8v0.8h-0.8zM78.0 480.0h0.8v0.8h-0.8zM86.0 480.9h0.8v0.8h-0.8zM79.3 488.4h0.8v0.8h-0.8zM78.4 484.4h0.8v0.8h-0.8zM77.5 485.7h0.8v0.8h-0.8zM85.3 488.5h0.8v0.8h-0.8zM78.8 488.8h0.8v0.8h-0.8zM71.9 483.5h0.8v0.8h-0.8zM85.7 489.0h0.8v0.8h-0.8zM77.8 486.2h0.8v0.8h-0.8zM84.1 485.0h0.8v0.8h-0.8zM84.2 486.3h0.8v0.8h-0.8zM89.2 480.7h0.8v0.8h-0.8zM88.3 482.6h0.8v0.8h-0.8zM78.5 484.7h0.8v0.8h-0.8zM81.0 486.8h0.8v0.8h-0.8zM74.3 483.9h0.8v0.8h-0.8zM92.1 484.6h0.8v0.8h-0.8zM84.6 487.9h0.8v0.8h-0.8zM90.4 489.2h0.8v0.8h-0.8zM80.1 487.3h0.8v0.8h-0.8zM69.7 488.8h0.8v0.8h-0.8zM91.2 483.8h0.8v0.8h-0.8zM82.6 484.1h0.8v0.8h-0.8zM82.8 486.0h0.8v0.8h-0.8zM82.3 484.1h0.8v0.8h-0.8zM85.9 483.5h0.8v0.8h-0.8zM85.2 490.0h0.8v0.8h-0.8zM72.5 484.4h0.8v0.8h-0.8zM88.5 482.1h0.8v0.8h-0.8zM78.8 486.5h0.8v0.8h-0.8zM79.2 490.5h0.8v0.8h-0.8zM92.4 485.2h0.8v0.8h-0.8zM87.5 488.7h0.8v0.8h-0.8zM80.0 483.7h0.8v0.8h-0.8zM70.9 483.5h0.8v0.8h-0.8zM83.0 482.9h0.8v0.8h-0.8zM85.2 484.6h0.8v0.8h-0.8zM81.5 490.5h0.8v0.8h-0.8zM74.5 481.5h0.8v0.8h-0.8zM77.3 489.9h0.8v0.8h-0.8zM74.5 482.0h0.8v0.8h-0.8z" fill="#b4b4b4"/>
<path d="M111.1 461.7h0.8v0.8h-0.8zM119.7 458.0h0.8v0.8h-0.8zM118.0 460.1h0.8v0.8h-0.8zM115.3 462.4h0.8v0.8h-0.8zM99.8 460.5h0.8v0.8h-0.8zM115.9 460.9h0.8v0.8h-0.8zM104.8 459.1h0.8v0.8h-0.8zM133.6 460.8h0.8v0.8h-0.8zM111.3 460.1h0.8v0.8h-0.8zM114.5 463.6h0.8v0.8h-0.8zM103.8 461.8h0.8v0.8h-0.8zM109.2 459.4h0.8v0.8h-0.8zM102.7 453.9h0.8v0.8h-0.8zM120.9 461.8h0.8v0.8h-0.8zM110.9 461.9h0.8v0.8h-0.8zM117.5 457.7h0.8v0.8h-0.8zM107.5 455.0h0.8v0.8h-0.8zM109.0 457.1h0.8v0.8h-0.8zM123.3 462.3h0.8v0.8h-0.8zM105.2 457.3h0.8v0.8h-0.8zM98.6 458.9h0.8v0.8h-0.8zM116.2 460.6h0.8v0.8h-0.8zM103.9 463.1h0.8v0.8h-0.8zM109.5 460.0h0.8v0.8h-0.8zM120.3 459.7h0.8v0.8h-0.8zM106.5 458.6h0.8v0.8h-0.8zM120.0 464.1h0.8v0.8h-0.8zM107.6 462.7h0.8v0.8h-0.8zM124.9 459.8h0.8v0.8h-0.8zM123.6 456.5h0.8v0.8h-0.8zM109.2 458.0h0.8v0.8h-0.8zM111.3 461.4h0.8v0.8h-0.8zM106.3 458.2h0.8v0.8h-0.8zM114.6 462.2h0.8v0.8h-0.8zM122.2 460.9h0.8v0.8h-0.8zM101.4 460.7h0.8v0.8h-0.8zM120.3 461.6h0.8v0.8h-0.8zM102.4 461.2h0.8v0.8h-0.8zM106.1 457.9h0.8v0.8h-0.8zM98.7 459.2h0.8v0.8h-0.8zM129.8 465.8h0.8v0.8h-0.8zM113.5 457.0h0.8v0.8h-0.8zM115.0 458.8h0.8v0.8h-0.8zM107.6 462.7h0.8v0.8h-0.8zM121.5 459.6h0.8v0.8h-0.8zM96.2 458.0h0.8v0.8h-0.8zM113.2 456.7h0.8v0.8h-0.8zM130.7 461.3h0.8v0.8h-0.8zM109.9 462.5h0.8v0.8h-0.8zM113.1 463.5h0.8v0.8h-0.8z" fill="#d0d0d0"/>
</g>
<g clip-path="url(#c4)">
<path d="M174.8 483.4h0.8v0.8h-0.8zM188.6 493.5h0.8v0.8h-0.8zM159.5 489.3h0.8v0.8h-0.8zM176.4 482.7h0.8v0.8h-0.8zM164.5 486.6h0.8v0.8h-0.8zM176.4 480.7h0.8v0.8h-0.8zM184.5 486.9h0.8v0.8h-0.8zM189.0 489.5h0.8v0.8h-0.8zM160.1 488.0h0.8v0.8h-0.8zM191.7 477.1h0.8v0.8h-0.8zM167.4 485.0h0.8v0.8h-0.8zM159.6 489.3h0.8v0.8h-0.8zM171.6 488.2h0.8v0.8h-0.8zM153.5 492.5h0.8v0.8h-0.8zM174.1 480.3h0.8v0.8h-0.8zM178.1 489.3h0.8v0.8h-0.8zM171.2 483.5h0.8v0.8h-0.8zM181.5 487.7h0.8v0.8h-0.8zM169.6 488.7h0.8v0.8h-0.8zM174.1 490.1h0.8v0.8h-0.8zM153.8 483.8h0.8v0.8h-0.8zM174.6 487.6h0.8v0.8h-0.8zM162.1 480.9h0.8v0.8h-0.8zM167.7 479.7h0.8v0.8h-0.8zM172.7 489.5h0.8v0.8h-0.8zM176.7 486.4h0.8v0.8h-0.8zM150.9 478.6h0.8v0.8h-0.8zM152.1 482.5h0.8v0.8h-0.8zM169.8 486.8h0.8v0.8h-0.8zM180.6 494.5h0.8v0.8h-0.8zM179.0 491.9h0.8v0.8h-0.8zM186.5 490.7h0.8v0.8h-0.8zM192.2 477.8h0.8v0.8h-0.8zM181.0 486.2h0.8v0.8h-0.8zM173.7 489.1h0.8v0.8h-0.8zM159.6 488.7h0.8v0.8h-0.8zM160.8 488.8h0.8v0.8h-0.8zM167.5 485.5h0.8v0.8h-0.8zM177.7 495.5h0.8v0.8h-0.8zM177.1 494.1h0.8v0.8h-0.8zM174.1 486.2h0.8v0.8h-0.8zM171.9 481.8h0.8v0.8h-0.8zM182.8 497.0h0.8v0.8h-0.8zM176.9 483.9h0.8v0.8h-0.8zM178.2 492.7h0.8v0.8h-0.8zM178.3 496.3h0.8v0.8h-0.8zM166.4 482.0h0.8v0.8h-0.8zM159.6 488.2h0.8v0.8h-0.8zM180.9 485.0h0.8v0.8h-0.8zM179.8 489.3h0.8v0.8h-0.8zM170.9 488.3h0.8v0.8h-0.8zM168.2 496.4h0.8v0.8h-0.8zM205.9 489.7h0.8v0.8h-0.8zM163.4 486.7h0.8v0.8h-0.8zM171.0 492.3h0.8v0.8h-0.8zM177.7 485.3h0.8v0.8h-0.8zM157.8 484.9h0.8v0.8h-0.8zM175.6 497.9h0.8v0.8h-0.8zM199.2 482.6h0.8v0.8h-0.8zM187.1 484.3h0.8v0.8h-0.8zM182.9 486.9h0.8v0.8h-0.8zM182.3 481.4h0.8v0.8h-0.8zM175.6 476.2h0.8v0.8h-0.8zM187.4 492.0h0.8v0.8h-0.8zM171.8 482.8h0.8v0.8h-0.8zM168.1 484.0h0.8v0.8h-0.8zM175.4 484.8h0.8v0.8h-0.8zM186.7 481.8h0.8v0.8h-0.8zM178.6 481.3h0.8v0.8h-0.8zM183.4 487.5h0.8v0.8h-0.8zM145.7 498.7h0.8v0.8h-0.8zM190.7 490.4h0.8v0.8h-0.8zM206.8 490.4h0.8v0.8h-0.8zM192.7 479.2h0.8v0.8h-0.8zM169.6 486.6h0.8v0.8h-0.8zM162.1 480.8h0.8v0.8h-0.8zM177.9 490.6h0.8v0.8h-0.8zM160.2 485.6h0.8v0.8h-0.8zM184.2 486.9h0.8v0.8h-0.8zM166.6 486.3h0.8v0.8h-0.8zM187.4 483.8h0.8v0.8h-0.8zM193.1 479.1h0.8v0.8h-0.8zM145.5 489.6h0.8v0.8h-0.8zM178.1 479.8h0.8v0.8h-0.8zM164.2 480.8h0.8v0.8h-0.8zM154.3 485.2h0.8v0.8h-0.8zM165.4 483.2h0.8v0.8h-0.8zM170.9 488.0h0.8v0.8h-0.8zM188.5 491.8h0.8v0.8h-0.8zM152.7 487.9h0.8v0.8h-0.8zM188.7 487.7h0.8v0.8h-0.8zM202.3 486.8h0.8v0.8h-0.8zM182.4 491.0h0.8v0.8h-0.8zM181.6 477.5h0.8v0.8h-0.8zM173.8 488.5h0.8v0.8h-0.8zM157.5 482.0h0.8v0.8h-0.8zM181.5 480.5h0.8v0.8h-0.8zM179.4 486.7h0.8v0.8h-0.8zM184.2 484.8h0.8v0.8h-0.8zM210.0 489.6h0.8v0.8h-0.8zM184.2 492.2h0.8v0.8h-0.8zM180.0 475.1h0.8v0.8h-0.8zM195.9 486.3h0.8v0.8h-0.8zM155.2 496.5h0.8v0.8h-0.8zM158.0 491.0h0.8v0.8h-0.8zM168.7 493.9h0.8v0.8h-0.8zM164.8 487.2h0.8v0.8h-0.8zM183.7 479.5h0.8v0.8h-0.8zM169.6 481.1h0.8v0.8h-0.8zM198.4 490.3h0.8v0.8h-0.8zM195.3 491.5h0.8v0.8h-0.8zM184.8 483.0h0.8v0.8h-0.8zM168.6 485.4h0.8v0.8h-0.8zM182.6 488.0h0.8v0.8h-0.8zM185.4 478.0h0.8v0.8h-0.8zM159.1 485.0h0.8v0.8h-0.8zM178.9 494.8h0.8v0.8h-0.8zM183.9 497.6h0.8v0.8h-0.8zM177.0 486.2h0.8v0.8h-0.8zM196.0 495.9h0.8v0.8h-0.8zM191.0 484.1h0.8v0.8h-0.8zM162.4 482.7h0.8v0.8h-0.8zM175.7 475.5h0.8v0.8h-0.8zM162.3 491.5h0.8v0.8h-0.8zM182.1 484.8h0.8v0.8h-0.8zM161.9 498.4h0.8v0.8h-0.8zM186.9 488.4h0.8v0.8h-0.8zM179.4 487.6h0.8v0.8h-0.8zM187.6 477.7h0.8v0.8h-0.8zM172.0 494.2h0.8v0.8h-0.8zM153.6 484.9h0.8v0.8h-0.8zM198.7 485.9h0.8v0.8h-0.8zM171.6 475.7h0.8v0.8h-0.8zM193.3 491.3h0.8v0.8h-0.8zM180.0 491.7h0.8v0.8h-0.8zM183.4 483.7h0.8v0.8h-0.8zM199.6 487.2h0.8v0.8h-0.8zM178.8 488.7h0.8v0.8h-0.8zM193.6 491.5h0.8v0.8h-0.8zM153.2 487.2h0.8v0.8h-0.8zM186.2 495.3h0.8v0.8h-0.8zM170.6 485.5h0.8v0.8h-0.8zM172.1 483.7h0.8v0.8h-0.8zM174.1 484.4h0.8v0.8h-0.8zM178.9 474.0h0.8v0.8h-0.8zM197.2 482.7h0.8v0.8h-0.8zM148.0 491.8h0.8v0.8h-0.8zM174.6 488.0h0.8v0.8h-0.8zM164.0 482.6h0.8v0.8h-0.8zM190.3 488.5h0.8v0.8h-0.8zM168.1 476.6h0.8v0.8h-0.8zM180.4 485.3h0.8v0.8h-0.8zM168.4 489.3h0.8v0.8h-0.8zM183.4 490.2h0.8v0.8h-0.8zM188.2 482.9h0.8v0.8h-0.8zM168.4 491.3h0.8v0.8h-0.8zM174.7 496.1h0.8v0.8h-0.8zM154.1 484.6h0.8v0.8h-0.8zM178.3 490.4h0.8v0.8h-0.8zM186.0 478.9h0.8v0.8h-0.8zM166.2 476.9h0.8v0.8h-0.8zM189.7 489.8h0.8v0.8h-0.8zM145.0 486.9h0.8v0.8h-0.8zM148.1 487.7h0.8v0.8h-0.8zM154.6 483.8h0.8v0.8h-0.8zM167.2 485.3h0.8v0.8h-0.8zM174.3 490.8h0.8v0.8h-0.8zM172.9 495.3h0.8v0.8h-0.8zM173.1 485.7h0.8v0.8h-0.8zM184.1 478.5h0.8v0.8h-0.8zM167.4 493.1h0.8v0.8h-0.8zM156.3 489.8h0.8v0.8h-0.8zM156.6 490.2h0.8v0.8h-0.8zM203.6 487.7h0.8v0.8h-0.8zM141.1 498.4h0.8v0.8h-0.8zM171.5 487.1h0.8v0.8h-0.8zM194.4 489.3h0.8v0.8h-0.8zM180.8 477.5h0.8v0.8h-0.8zM162.4 483.8h0.8v0.8h-0.8zM174.0 483.3h0.8v0.8h-0.8zM186.1 486.6h0.8v0.8h-0.8zM190.9 488.5h0.8v0.8h-0.8zM161.4 483.0h0.8v0.8h-0.8zM184.6 495.4h0.8v0.8h-0.8zM177.5 481.4h0.8v0.8h-0.8zM189.5 484.5h0.8v0.8h-0.8zM193.5 487.9h0.8v0.8h-0.8zM169.2 480.5h0.8v0.8h-0.8zM153.7 489.6h0.8v0.8h-0.8zM179.5 489.9h0.8v0.8h-0.8zM198.9 485.3h0.8v0.8h-0.8zM183.6 496.3h0.8v0.8h-0.8zM177.2 487.2h0.8v0.8h-0.8zM207.6 488.2h0.8v0.8h-0.8zM159.4 481.9h0.8v0.8h-0.8zM186.6 478.4h0.8v0.8h-0.8zM166.0 483.6h0.8v0.8h-0.8zM174.7 485.1h0.8v0.8h-0.8zM175.3 484.5h0.8v0.8h-0.8zM195.2 490.6h0.8v0.8h-0.8zM160.9 474.8h0.8v0.8h-0.8zM166.5 481.1h0.8v0.8h-0.8zM151.7 477.6h0.8v0.8h-0.8zM180.8 493.5h0.8v0.8h-0.8zM167.6 483.9h0.8v0.8h-0.8zM179.9 484.2h0.8v0.8h-0.8zM159.0 481.2h0.8v0.8h-0.8zM169.0 491.2h0.8v0.8h-0.8zM188.5 484.7h0.8v0.8h-0.8zM171.6 487.9h0.8v0.8h-0.8zM182.8 476.6h0.8v0.8h-0.8zM181.4 492.6h0.8v0.8h-0.8zM169.1 488.7h0.8v0.8h-0.8zM152.2 489.5h0.8v0.8h-0.8zM187.8 492.9h0.8v0.8h-0.8zM176.4 485.8h0.8v0.8h-0.8zM187.8 485.9h0.8v0.8h-0.8zM145.8 490.3h0.8v0.8h-0.8zM150.8 488.9h0.8v0.8h-0.8zM144.0 485.5h0.8v0.8h-0.8zM161.7 487.0h0.8v0.8h-0.8zM188.6 484.2h0.8v0.8h-0.8zM181.9 490.3h0.8v0.8h-0.8zM173.5 491.4h0.8v0.8h-0.8zM175.8 486.8h0.8v0.8h-0.8zM184.7 496.2h0.8v0.8h-0.8zM169.8 479.1h0.8v0.8h-0.8zM179.5 485.6h0.8v0.8h-0.8zM176.0 495.3h0.8v0.8h-0.8zM143.4 484.6h0.8v0.8h-0.8zM168.6 478.7h0.8v0.8h-0.8zM193.0 493.7h0.8v0.8h-0.8zM168.5 489.5h0.8v0.8h-0.8zM172.0 480.8h0.8v0.8h-0.8zM165.5 490.6h0.8v0.8h-0.8zM167.2 481.6h0.8v0.8h-0.8zM189.7 480.0h0.8v0.8h-0.8zM170.2 486.0h0.8v0.8h-0.8zM159.7 484.4h0.8v0.8h-0.8zM130.4 481.3h0.8v0.8h-0.8zM166.0 484.9h0.8v0.8h-0.8zM146.5 481.7h0.8v0.8h-0.8zM148.5 487.1h0.8v0.8h-0.8zM185.1 486.6h0.8v0.8h-0.8zM183.9 490.5h0.8v0.8h-0.8zM147.2 484.5h0.8v0.8h-0.8zM185.9 480.1h0.8v0.8h-0.8zM180.4 480.1h0.8v0.8h-0.8zM163.0 485.5h0.8v0.8h-0.8zM184.3 494.5h0.8v0.8h-0.8zM151.2 491.0h0.8v0.8h-0.8zM157.1 483.5h0.8v0.8h-0.8zM153.8 491.5h0.8v0.8h-0.8zM158.4 480.9h0.8v0.8h-0.8zM186.3 491.8h0.8v0.8h-0.8zM155.3 484.8h0.8v0.8h-0.8zM157.9 490.6h0.8v0.8h-0.8zM160.7 489.9h0.8v0.8h-0.8zM176.7 485.4h0.8v0.8h-0.8zM169.2 488.4h0.8v0.8h-0.8zM186.1 481.4h0.8v0.8h-0.8zM164.0 486.4h0.8v0.8h-0.8zM155.9 492.2h0.8v0.8h-0.8zM166.9 507.3h0.8v0.8h-0.8zM174.5 490.3h0.8v0.8h-0.8zM160.9 487.2h0.8v0.8h-0.8zM177.8 481.7h0.8v0.8h-0.8zM199.4 492.1h0.8v0.8h-0.8zM165.8 478.5h0.8v0.8h-0.8zM174.5 482.7h0.8v0.8h-0.8zM192.8 488.6h0.8v0.8h-0.8zM164.8 480.7h0.8v0.8h-0.8zM162.0 494.5h0.8v0.8h-0.8zM158.5 492.2h0.8v0.8h-0.8zM179.4 483.9h0.8v0.8h-0.8zM181.0 484.0h0.8v0.8h-0.8zM171.7 480.2h0.8v0.8h-0.8zM174.4 479.7h0.8v0.8h-0.8zM191.6 489.0h0.8v0.8h-0.8zM185.9 489.9h0.8v0.8h-0.8zM154.1 488.5h0.8v0.8h-0.8zM173.6 488.1h0.8v0.8h-0.8zM175.2 484.0h0.8v0.8h-0.8zM183.8 488.6h0.8v0.8h-0.8zM170.5 479.4h0.8v0.8h-0.8zM164.6 486.8h0.8v0.8h-0.8zM167.2 494.2h0.8v0.8h-0.8zM148.7 493.4h0.8v0.8h-0.8zM173.3 484.4h0.8v0.8h-0.8zM165.3 485.1h0.8v0.8h-0.8zM180.1 493.7h0.8v0.8h-0.8zM159.2 495.7h0.8v0.8h-0.8zM167.5 479.3h0.8v0.8h-0.8zM159.9 484.6h0.8v0.8h-0.8zM158.6 487.9h0.8v0.8h-0.8zM183.3 492.9h0.8v0.8h-0.8zM167.0 482.6h0.8v0.8h-0.8zM179.7 490.0h0.8v0.8h-0.8zM157.8 485.3h0.8v0.8h-0.8zM174.9 498.7h0.8v0.8h-0.8zM149.8 488.9h0.8v0.8h-0.8zM166.8 486.1h0.8v0.8h-0.8zM166.4 485.1h0.8v0.8h-0.8zM181.6 492.1h0.8v0.8h-0.8zM176.0 490.2h0.8v0.8h-0.8zM171.0 481.3h0.8v0.8h-0.8zM185.2 487.9h0.8v0.8h-0.8zM176.1 480.1h0.8v0.8h-0.8zM180.9 483.0h0.8v0.8h-0.8zM184.1 480.3h0.8v0.8h-0.8zM172.5 480.1h0.8v0.8h-0.8zM169.3 483.3h0.8v0.8h-0.8zM178.0 481.9h0.8v0.8h-0.8zM167.6 489.4h0.8v0.8h-0.8zM178.8 490.8h0.8v0.8h-0.8zM188.9 485.6h0.8v0.8h-0.8zM185.3 481.2h0.8v0.8h-0.8zM168.0 490.8h0.8v0.8h-0.8zM155.4 476.6h0.8v0.8h-0.8zM172.6 477.1h0.8v0.8h-0.8zM171.6 490.4h0.8v0.8h-0.8zM188.8 490.1h0.8v0.8h-0.8zM168.0 491.7h0.8v0.8h-0.8zM170.4 485.7h0.8v0.8h-0.8zM183.6 480.4h0.8v0.8h-0.8zM166.7 484.2h0.8v0.8h-0.8zM171.1 489.6h0.8v0.8h-0.8zM197.3 482.9h0.8v0.8h-0.8zM194.2 483.3h0.8v0.8h-0.8zM182.1 479.8h0.8v0.8h-0.8zM177.1 480.9h0.8v0.8h-0.8zM159.8 491.0h0.8v0.8h-0.8zM181.1 489.1h0.8v0.8h-0.8zM174.2 480.9h0.8v0.8h-0.8zM176.4 481.4h0.8v0.8h-0.8zM166.1 484.0h0.8v0.8h-0.8zM173.2 489.5h0.8v0.8h-0.8zM170.8 480.9h0.8v0.8h-0.8zM177.7 485.9h0.8v0.8h-0.8zM193.3 476.0h0.8v0.8h-0.8zM178.4 480.5h0.8v0.8h-0.8zM150.2 488.9h0.8v0.8h-0.8zM159.8 491.3h0.8v0.8h-0.8zM151.2 481.0h0.8v0.8h-0.8zM162.3 482.9h0.8v0.8h-0.8zM181.1 490.8h0.8v0.8h-0.8zM178.9 484.8h0.8v0.8h-0.8zM165.0 484.1h0.8v0.8h-0.8zM177.1 489.4h0.8v0.8h-0.8zM162.8 487.8h0.8v0.8h-0.8zM153.5 492.4h0.8v0.8h-0.8zM153.7 490.8h0.8v0.8h-0.8zM161.3 483.9h0.8v0.8h-0.8zM193.2 486.2h0.8v0.8h-0.8zM154.6 486.5h0.8v0.8h-0.8zM190.7 480.0h0.8v0.8h-0.8zM191.9 481.9h0.8v0.8h-0.8zM170.8 491.7h0.8v0.8h-0.8zM172.6 478.8h0.8v0.8h-0.8zM164.7 491.8h0.8v0.8h-0.8zM173.0 488.2h0.8v0.8h-0.8zM182.5 486.1h0.8v0.8h-0.8zM173.4 489.5h0.8v0.8h-0.8zM187.2 489.2h0.8v0.8h-0.8zM189.9 492.9h0.8v0.8h-0.8zM178.1 484.8h0.8v0.8h-0.8zM177.9 485.6h0.8v0.8h-0.8zM172.4 485.6h0.8v0.8h-0.8zM178.1 496.2h0.8v0.8h-0.8zM157.7 491.5h0.8v0.8h-0.8zM178.9 482.2h0.8v0.8h-0.8zM176.1 485.1h0.8v0.8h-0.8zM161.2 483.2h0.8v0.8h-0.8zM203.3 486.9h0.8v0.8h-0.8zM159.7 487.9h0.8v0.8h-0.8zM161.1 498.3h0.8v0.8h-0.8zM177.2 477.6h0.8v0.8h-0.8zM146.2 492.0h0.8v0.8h-0.8zM162.2 489.0h0.8v0.8h-0.8zM152.0 483.3h0.8v0.8h-0.8zM159.8 486.0h0.8v0.8h-0.8zM171.4 484.3h0.8v0.8h-0.8zM177.7 487.1h0.8v0.8h-0.8zM188.7 491.9h0.8v0.8h-0.8zM184.5 479.2h0.8v0.8h-0.8zM189.8 493.4h0.8v0.8h-0.8zM181.5 484.9h0.8v0.8h-0.8zM166.7 494.3h0.8v0.8h-0.8zM188.8 488.9h0.8v0.8h-0.8zM166.4 493.0h0.8v0.8h-0.8zM164.7 489.6h0.8v0.8h-0.8zM194.6 492.3h0.8v0.8h-0.8zM184.3 487.1h0.8v0.8h-0.8zM176.3 482.6h0.8v0.8h-0.8zM183.8 490.2h0.8v0.8h-0.8zM185.5 490.4h0.8v0.8h-0.8zM154.2 497.3h0.8v0.8h-0.8zM171.9 476.8h0.8v0.8h-0.8zM156.7 485.8h0.8v0.8h-0.8zM174.9 492.1h0.8v0.8h-0.8z" fill="#b4b4b4"/>
<path d="M158.4 491.4h0.8v0.8h-0.8zM167.6 487.3h0.8v0.8h-0.8zM188.8 480.4h0.8v0.8h-0.8zM182.5 486.5h0.8v0.8h-0.8zM161.8 489.7h0.8v0.8h-0.8zM182.6 485.0h0.8v0.8h-0.8zM180.4 489.9h0.8v0.8h-0.8zM176.7 488.2h0.8v0.8h-0.8zM173.1 487.5h0.8v0.8h-0.8zM171.9 485.1h0.8v0.8h-0.8zM161.9 484.2h0.8v0.8h-0.8zM165.1 485.1h0.8v0.8h-0.8zM176.3 486.3h0.8v0.8h-0.8zM171.0 487.9h0.8v0.8h-0.8zM186.4 487.5h0.8v0.8h-0.8zM166.7 485.0h0.8v0.8h-0.8zM148.1 486.3h0.8v0.8h-0.8zM166.7 487.4h0.8v0.8h-0.8zM172.2 480.4h0.8v0.8h-0.8zM173.2 483.4h0.8v0.8h-0.8zM170.3 483.2h0.8v0.8h-0.8zM162.3 485.3h0.8v0.8h-0.8zM183.2 485.1h0.8v0.8h-0.8zM163.8 485.1h0.8v0.8h-0.8zM176.2 483.0h0.8v0.8h-0.8zM167.2 488.4h0.8v0.8h-0.8zM159.0 487.0h0.8v0.8h-0.8zM182.5 480.3h0.8v0.8h-0.8zM147.1 486.1h0.8v0.8h-0.8zM162.1 482.1h0.8v0.8h-0.8zM173.7 492.0h0.8v0.8h-0.8zM166.6 484.5h0.8v0.8h-0.8zM176.5 484.7h0.8v0.8h-0.8zM168.9 486.3h0.8v0.8h-0.8zM165.7 485.4h0.8v0.8h-0.8zM189.2 485.9h0.8v0.8h-0.8zM167.8 491.5h0.8v0.8h-0.8zM168.4 486.8h0.8v0.8h-0.8zM160.0 489.0h0.8v0.8h-0.8zM163.1 490.0h0.8v0.8h-0.8zM175.6 482.6h0.8v0.8h-0.8zM174.9 492.0h0.8v0.8h-0.8zM169.8 488.5h0.8v0.8h-0.8zM163.5 489.4h0.8v0.8h-0.8zM176.0 483.0h0.8v0.8h-0.8zM154.5 488.9h0.8v0.8h-0.8zM166.7 487.5h0.8v0.8h-0.8zM167.5 484.2h0.8v0.8h-0.8zM162.2 494.1h0.8v0.8h-0.8zM171.2 488.0h0.8v0.8h-0.8zM163.8 485.2h0.8v0.8h-0.8zM162.6 486.7h0.8v0.8h-0.8zM186.1 489.3h0.8v0.8h-0.8zM176.5 490.0h0.8v0.8h-0.8zM180.7 488.1h0.8v0.8h-0.8zM170.3 490.3h0.8v0.8h-0.8zM178.6 491.2h0.8v0.8h-0.8zM176.9 481.7h0.8v0.8h-0.8zM180.8 484.4h0.8v0.8h-0.8zM191.2 482.8h0.8v0.8h-0.8zM167.8 486.4h0.8v0.8h-0.8zM172.2 491.1h0.8v0.8h-0.8zM169.4 488.4h0.8v0.8h-0.8zM138.3 482.4h0.8v0.8h-0.8zM157.3 485.0h0.8v0.8h-0.8zM170.1 489.7h0.8v0.8h-0.8zM175.6 484.2h0.8v0.8h-0.8zM164.7 485.7h0.8v0.8h-0.8zM180.1 487.1h0.8v0.8h-0.8zM181.5 479.7h0.8v0.8h-0.8zM166.2 488.8h0.8v0.8h-0.8zM182.8 487.3h0.8v0.8h-0.8zM185.7 488.1h0.8v0.8h-0.8zM174.1 482.6h0.8v0.8h-0.8zM161.1 483.4h0.8v0.8h-0.8zM183.2 484.0h0.8v0.8h-0.8zM168.5 486.9h0.8v0.8h-0.8zM166.6 486.3h0.8v0.8h-0.8zM171.0 486.5h0.8v0.8h-0.8zM165.1 492.3h0.8v0.8h-0.8zM179.6 490.6h0.8v0.8h-0.8zM177.0 483.6h0.8v0.8h-0.8zM181.0 483.8h0.8v0.8h-0.8zM175.2 492.1h0.8v0.8h-0.8zM162.8 485.0h0.8v0.8h-0.8zM168.6 490.9h0.8v0.8h-0.8zM177.9 491.7h0.8v0.8h-0.8zM166.3 484.2h0.8v0.8h-0.8zM196.3 485.1h0.8v0.8h-0.8zM167.8 486.4h0.8v0.8h-0.8zM164.7 483.0h0.8v0.8h-0.8zM180.3 482.6h0.8v0.8h-0.8zM176.7 484.7h0.8v0.8h-0.8zM169.7 489.1h0.8v0.8h-0.8zM167.9 484.5h0.8v0.8h-0.8zM173.8 485.3h0.8v0.8h-0.8zM177.5 484.4h0.8v0.8h-0.8zM176.9 481.3h0.8v0.8h-0.8zM167.3 491.3h0.8v0.8h-0.8zM173.9 477.9h0.8v0.8h-0.8zM177.6 483.8h0.8v0.8h-0.8zM176.9 488.0h0.8v0.8h-0.8zM142.2 481.2h0.8v0.8h-0.8zM162.0 488.2h0.8v0.8h-0.8zM163.0 490.5h0.8v0.8h-0.8zM167.9 483.1h0.8v0.8h-0.8zM171.6 486.8h0.8v0.8h-0.8zM178.3 482.2h0.8v0.8h-0.8zM175.6 487.8h0.8v0.8h-0.8zM168.9 486.4h0.8v0.8h-0.8zM170.2 486.8h0.8v0.8h-0.8zM185.8 490.8h0.8v0.8h-0.8zM164.5 487.7h0.8v0.8h-0.8zM172.7 490.8h0.8v0.8h-0.8zM184.1 488.3h0.8v0.8h-0.8zM173.1 481.9h0.8v0.8h-0.8zM151.6 487.0h0.8v0.8h-0.8zM173.4 487.8h0.8v0.8h-0.8zM166.5 481.0h0.8v0.8h-0.8zM169.0 490.7h0.8v0.8h-0.8zM179.5 486.3h0.8v0.8h-0.8zM174.2 487.4h0.8v0.8h-0.8zM167.6 482.9h0.8v0.8h-0.8zM178.0 486.3h0.8v0.8h-0.8zM173.9 487.1h0.8v0.8h-0.8zM170.9 484.9h0.8v0.8h-0.8zM172.7 486.3h0.8v0.8h-0.8zM172.3 478.6h0.8v0.8h-0.8zM166.9 490.8h0.8v0.8h-0.8zM165.9 482.2h0.8v0.8h-0.8zM170.2 478.4h0.8v0.8h-0.8zM161.4 482.7h0.8v0.8h-0.8zM158.7 483.1h0.8v0.8h-0.8zM181.7 488.0h0.8v0.8h-0.8zM167.8 482.9h0.8v0.8h-0.8zM169.8 487.1h0.8v0.8h-0.8zM168.8 482.7h0.8v0.8h-0.8zM170.2 493.8h0.8v0.8h-0.8zM170.2 488.0h0.8v0.8h-0.8zM170.6 492.9h0.8v0.8h-0.8zM162.8 482.5h0.8v0.8h-0.8zM178.4 488.4h0.8v0.8h-0.8zM163.8 482.7h0.8v0.8h-0.8zM179.3 488.1h0.8v0.8h-0.8zM152.7 488.4h0.8v0.8h-0.8zM160.4 480.5h0.8v0.8h-0.8zM178.9 482.1h0.8v0.8h-0.8zM168.7 482.0h0.8v0.8h-0.8zM164.0 480.8h0.8v0.8h-0.8zM173.4 483.5h0.8v0.8h-0.8zM160.6 482.7h0.8v0.8h-0.8zM170.7 481.0h0.8v0.8h-0.8zM150.1 486.4h0.8v0.8h-0.8zM165.9 488.0h0.8v0.8h-0.8zM164.2 481.5h0.8v0.8h-0.8zM174.9 484.1h0.8v0.8h-0.8zM177.9 486.1h0.8v0.8h-0.8zM162.3 485.2h0.8v0.8h-0.8zM184.5 483.6h0.8v0.8h-0.8zM164.7 488.9h0.8v0.8h-0.8zM151.5 489.0h0.8v0.8h-0.8zM148.6 488.4h0.8v0.8h-0.8zM183.9 485.3h0.8v0.8h-0.8zM169.2 493.0h0.8v0.8h-0.8zM164.2 492.1h0.8v0.8h-0.8zM163.3 484.6h0.8v0.8h-0.8zM160.2 485.6h0.8v0.8h-0.8zM182.2 490.2h0.8v0.8h-0.8zM169.2 483.2h0.8v0.8h-0.8zM186.1 487.4h0.8v0.8h-0.8zM168.2 486.2h0.8v0.8h-0.8zM148.8 483.6h0.8v0.8h-0.8zM177.6 485.2h0.8v0.8h-0.8zM166.7 480.5h0.8v0.8h-0.8zM167.9 484.1h0.8v0.8h-0.8zM184.1 479.1h0.8v0.8h-0.8zM167.6 494.0h0.8v0.8h-0.8zM180.5 491.3h0.8v0.8h-0.8zM170.0 490.3h0.8v0.8h-0.8zM163.2 487.1h0.8v0.8h-0.8zM174.6 489.5h0.8v0.8h-0.8zM164.6 490.5h0.8v0.8h-0.8zM181.1 489.6h0.8v0.8h-0.8zM178.6 489.2h0.8v0.8h-0.8zM170.6 482.8h0.8v0.8h-0.8zM175.5 487.5h0.8v0.8h-0.8zM175.1 484.2h0.8v0.8h-0.8zM167.5 481.9h0.8v0.8h-0.8zM178.1 482.0h0.8v0.8h-0.8zM168.0 487.5h0.8v0.8h-0.8zM175.5 489.7h0.8v0.8h-0.8zM161.4 481.2h0.8v0.8h-0.8zM170.9 492.1h0.8v0.8h-0.8zM173.7 491.2h0.8v0.8h-0.8zM162.9 484.7h0.8v0.8h-0.8zM166.3 484.4h0.8v0.8h-0.8zM165.2 485.8h0.8v0.8h-0.8zM176.6 489.4h0.8v0.8h-0.8zM163.5 484.7h0.8v0.8h-0.8zM174.0 482.1h0.8v0.8h-0.8z" fill="#999"/>
<path d="M195.1 456.7h0.8v0.8h-0.8zM173.4 464.4h0.8v0.8h-0.8zM193.3 462.1h0.8v0.8h-0.8zM202.4 460.4h0.8v0.8h-0.8zM194.8 457.5h0.8v0.8h-0.8zM199.0 462.7h0.8v0.8h-0.8zM196.5 459.1h0.8v0.8h-0.8zM198.6 465.2h0.8v0.8h-0.8zM193.3 465.9h0.8v0.8h-0.8zM184.5 455.5h0.8v0.8h-0.8zM190.0 459.0h0.8v0.8h-0.8zM191.3 459.7h0.8v0.8h-0.8zM203.3 456.3h0.8v0.8h-0.8zM206.6 456.5h0.8v0.8h-0.8zM195.8 461.4h0.8v0.8h-0.8zM185.2 460.2h0.8v0.8h-0.8zM185.4 454.4h0.8v0.8h-0.8zM190.3 458.8h0.8v0.8h-0.8zM204.5 463.1h0.8v0.8h-0.8zM195.0 456.2h0.8v0.8h-0.8zM191.5 457.3h0.8v0.8h-0.8zM185.1 467.4h0.8v0.8h-0.8zM199.9 466.3h0.8v0.8h-0.8zM194.6 454.5h0.8v0.8h-0.8zM191.5 455.6h0.8v0.8h-0.8zM192.9 462.5h0.8v0.8h-0.8zM207.2 456.2h0.8v0.8h-0.8zM190.6 460.0h0.8v0.8h-0.8zM207.2 459.2h0.8v0.8h-0.8zM203.2 463.2h0.8v0.8h-0.8zM192.5 450.9h0.8v0.8h-0.8zM200.0 452.2h0.8v0.8h-0.8zM190.9 456.1h0.8v0.8h-0.8zM184.5 465.1h0.8v0.8h-0.8zM189.6 460.4h0.8v0.8h-0.8zM183.8 454.2h0.8v0.8h-0.8zM196.6 463.0h0.8v0.8h-0.8zM192.1 463.8h0.8v0.8h-0.8zM197.1 460.0h0.8v0.8h-0.8zM199.4 459.7h0.8v0.8h-0.8zM163.9 462.8h0.8v0.8h-0.8zM194.8 465.8h0.8v0.8h-0.8zM175.8 461.6h0.8v0.8h-0.8zM193.5 463.1h0.8v0.8h-0.8zM184.1 460.8h0.8v0.8h-0.8zM192.9 459.5h0.8v0.8h-0.8zM204.3 457.3h0.8v0.8h-0.8zM176.6 462.0h0.8v0.8h-0.8zM193.7 459.8h0.8v0.8h-0.8zM191.3 460.0h0.8v0.8h-0.8zM175.0 464.7h0.8v0.8h-0.8zM197.8 463.0h0.8v0.8h-0.8zM192.3 464.5h0.8v0.8h-0.8zM187.4 454.7h0.8v0.8h-0.8zM185.5 463.2h0.8v0.8h-0.8zM220.9 458.6h0.8v0.8h-0.8zM188.5 457.8h0.8v0.8h-0.8zM175.8 457.6h0.8v0.8h-0.8zM183.6 465.8h0.8v0.8h-0.8zM188.7 464.3h0.8v0.8h-0.8zM188.5 458.1h0.8v0.8h-0.8zM191.3 456.4h0.8v0.8h-0.8zM182.6 461.1h0.8v0.8h-0.8zM196.9 459.2h0.8v0.8h-0.8zM187.6 467.6h0.8v0.8h-0.8zM179.8 455.2h0.8v0.8h-0.8zM184.7 453.7h0.8v0.8h-0.8zM188.5 460.0h0.8v0.8h-0.8zM199.6 461.0h0.8v0.8h-0.8zM196.4 461.5h0.8v0.8h-0.8zM189.0 464.0h0.8v0.8h-0.8zM192.2 469.3h0.8v0.8h-0.8zM193.9 459.6h0.8v0.8h-0.8zM210.3 458.8h0.8v0.8h-0.8zM186.4 454.0h0.8v0.8h-0.8zM196.2 462.0h0.8v0.8h-0.8zM198.5 464.4h0.8v0.8h-0.8zM183.4 460.0h0.8v0.8h-0.8zM193.7 465.7h0.8v0.8h-0.8zM193.5 461.1h0.8v0.8h-0.8zM187.8 467.1h0.8v0.8h-0.8zM197.1 462.3h0.8v0.8h-0.8zM201.3 456.8h0.8v0.8h-0.8zM202.2 458.5h0.8v0.8h-0.8zM190.3 454.9h0.8v0.8h-0.8zM193.7 454.1h0.8v0.8h-0.8zM213.2 462.1h0.8v0.8h-0.8zM182.1 464.5h0.8v0.8h-0.8zM194.0 468.8h0.8v0.8h-0.8zM200.0 460.8h0.8v0.8h-0.8zM193.4 460.1h0.8v0.8h-0.8zM197.9 456.6h0.8v0.8h-0.8zM193.6 464.9h0.8v0.8h-0.8zM198.8 462.6h0.8v0.8h-0.8zM203.5 458.6h0.8v0.8h-0.8zM190.0 463.8h0.8v0.8h-0.8zM193.8 463.2h0.8v0.8h-0.8zM191.5 453.5h0.8v0.8h-0.8zM188.4 464.0h0.8v0.8h-0.8zM191.8 461.5h0.8v0.8h-0.8zM181.8 459.4h0.8v0.8h-0.8zM198.7 459.3h0.8v0.8h-0.8zM207.3 468.0h0.8v0.8h-0.8zM207.3 467.1h0.8v0.8h-0.8zM203.5 468.3h0.8v0.8h-0.8zM183.3 456.4h0.8v0.8h-0.8zM205.7 458.4h0.8v0.8h-0.8zM185.6 464.6h0.8v0.8h-0.8zM191.5 456.2h0.8v0.8h-0.8zM208.6 458.1h0.8v0.8h-0.8z" fill="#c8c8c8"/>
</g>
<g clip-path="url(#c5)">
<path d="M89.8 569.7h0.8v0.8h-0.8zM122.7 581.0h0.8v0.8h-0.8zM115.6 569.1h0.8v0.8h-0.8zM110.1 567.8h0.8v0.8h-0.8zM108.0 567.2h0.8v0.8h-0.8zM102.2 568.8h0.8v0.8h-0.8zM102.4 570.2h0.8v0.8h-0.8zM111.5 563.3h0.8v0.8h-0.8zM99.6 559.1h0.8v0.8h-0.8zM117.0 570.5h0.8v0.8h-0.8zM101.6 561.0h0.8v0.8h-0.8zM98.1 570.3h0.8v0.8h-0.8zM117.7 569.7h0.8v0.8h-0.8zM104.7 574.8h0.8v0.8h-0.8zM111.0 577.4h0.8v0.8h-0.8zM102.3 570.8h0.8v0.8h-0.8zM85.7 566.2h0.8v0.8h-0.8zM110.9 563.1h0.8v0.8h-0.8zM93.9 565.0h0.8v0.8h-0.8zM115.7 569.2h0.8v0.8h-0.8zM92.0 558.7h0.8v0.8h-0.8zM89.2 569.4h0.8v0.8h-0.8zM108.8 568.9h0.8v0.8h-0.8zM109.8 572.2h0.8v0.8h-0.8zM107.0 567.3h0.8v0.8h-0.8zM95.1 569.5h0.8v0.8h-0.8zM114.0 565.3h0.8v0.8h-0.8zM92.8 566.7h0.8v0.8h-0.8zM101.8 560.1h0.8v0.8h-0.8zM98.9 569.6h0.8v0.8h-0.8zM102.6 576.7h0.8v0.8h-0.8zM113.7 569.8h0.8v0.8h-0.8zM100.3 570.8h0.8v0.8h-0.8zM111.1 564.1h0.8v0.8h-0.8zM112.2 576.2h0.8v0.8h-0.8zM90.6 565.2h0.8v0.8h-0.8zM95.5 573.0h0.8v0.8h-0.8zM102.5 569.5h0.8v0.8h-0.8zM100.7 564.2h0.8v0.8h-0.8zM108.8 574.1h0.8v0.8h-0.8zM88.6 569.1h0.8v0.8h-0.8zM112.5 569.9h0.8v0.8h-0.8zM112.7 571.3h0.8v0.8h-0.8zM104.5 568.9h0.8v0.8h-0.8zM93.6 567.1h0.8v0.8h-0.8zM106.1 571.3h0.8v0.8h-0.8zM101.2 567.0h0.8v0.8h-0.8zM111.1 569.3h0.8v0.8h-0.8zM105.2 565.7h0.8v0.8h-0.8zM112.6 561.5h0.8v0.8h-0.8zM102.1 565.6h0.8v0.8h-0.8zM119.0 566.5h0.8v0.8h-0.8zM85.3 569.1h0.8v0.8h-0.8zM96.9 574.9h0.8v0.8h-0.8zM110.4 560.6h0.8v0.8h-0.8zM92.4 569.6h0.8v0.8h-0.8zM112.6 557.9h0.8v0.8h-0.8zM95.0 563.8h0.8v0.8h-0.8zM106.8 566.5h0.8v0.8h-0.8zM97.8 557.7h0.8v0.8h-0.8zM102.0 559.7h0.8v0.8h-0.8zM107.6 569.8h0.8v0.8h-0.8zM105.1 569.4h0.8v0.8h-0.8zM102.6 568.4h0.8v0.8h-0.8zM125.4 565.0h0.8v0.8h-0.8zM106.1 579.8h0.8v0.8h-0.8zM97.3 568.2h0.8v0.8h-0.8zM114.3 564.7h0.8v0.8h-0.8zM113.4 577.4h0.8v0.8h-0.8zM117.0 572.1h0.8v0.8h-0.8zM122.1 567.1h0.8v0.8h-0.8zM97.5 575.0h0.8v0.8h-0.8zM115.5 569.8h0.8v0.8h-0.8zM116.3 572.2h0.8v0.8h-0.8zM106.0 570.2h0.8v0.8h-0.8zM108.2 563.9h0.8v0.8h-0.8zM79.0 573.9h0.8v0.8h-0.8zM100.8 569.8h0.8v0.8h-0.8zM122.1 564.0h0.8v0.8h-0.8zM89.9 565.2h0.8v0.8h-0.8zM101.2 573.8h0.8v0.8h-0.8zM108.6 567.2h0.8v0.8h-0.8zM111.2 569.2h0.8v0.8h-0.8zM120.7 572.3h0.8v0.8h-0.8zM90.1 569.6h0.8v0.8h-0.8zM106.4 561.4h0.8v0.8h-0.8zM113.7 572.2h0.8v0.8h-0.8zM94.2 573.7h0.8v0.8h-0.8zM105.6 573.3h0.8v0.8h-0.8zM123.0 577.1h0.8v0.8h-0.8zM117.8 570.8h0.8v0.8h-0.8zM110.9 572.9h0.8v0.8h-0.8zM82.5 576.9h0.8v0.8h-0.8zM104.8 567.5h0.8v0.8h-0.8zM109.5 577.7h0.8v0.8h-0.8zM103.2 577.7h0.8v0.8h-0.8zM105.4 572.9h0.8v0.8h-0.8zM133.8 578.2h0.8v0.8h-0.8zM104.1 573.3h0.8v0.8h-0.8zM97.3 564.6h0.8v0.8h-0.8zM108.2 574.7h0.8v0.8h-0.8zM103.2 570.6h0.8v0.8h-0.8zM103.2 571.1h0.8v0.8h-0.8zM105.2 569.8h0.8v0.8h-0.8zM113.0 575.8h0.8v0.8h-0.8zM108.1 571.8h0.8v0.8h-0.8zM95.2 565.5h0.8v0.8h-0.8zM104.8 571.4h0.8v0.8h-0.8zM110.3 572.6h0.8v0.8h-0.8zM101.8 565.4h0.8v0.8h-0.8zM116.3 566.8h0.8v0.8h-0.8zM113.0 567.1h0.8v0.8h-0.8zM97.1 566.0h0.8v0.8h-0.8zM108.9 570.7h0.8v0.8h-0.8zM123.9 574.1h0.8v0.8h-0.8zM120.0 578.5h0.8v0.8h-0.8zM105.5 575.0h0.8v0.8h-0.8zM114.1 574.1h0.8v0.8h-0.8zM99.9 574.7h0.8v0.8h-0.8zM93.0 575.7h0.8v0.8h-0.8zM111.0 567.1h0.8v0.8h-0.8zM108.2 572.5h0.8v0.8h-0.8zM110.6 570.6h0.8v0.8h-0.8zM105.8 568.4h0.8v0.8h-0.8zM108.9 566.7h0.8v0.8h-0.8zM101.4 566.5h0.8v0.8h-0.8zM110.3 567.7h0.8v0.8h-0.8zM113.5 562.8h0.8v0.8h-0.8zM105.5 571.6h0.8v0.8h-0.8zM113.3 568.9h0.8v0.8h-0.8zM90.1 569.5h0.8v0.8h-0.8zM98.9 570.7h0.8v0.8h-0.8zM119.0 572.6h0.8v0.8h-0.8zM121.9 566.0h0.8v0.8h-0.8zM108.3 568.5h0.8v0.8h-0.8zM105.1 561.0h0.8v0.8h-0.8zM94.6 557.9h0.8v0.8h-0.8zM109.3 559.3h0.8v0.8h-0.8zM113.0 576.7h0.8v0.8h-0.8zM92.7 559.9h0.8v0.8h-0.8zM111.0 571.4h0.8v0.8h-0.8zM110.4 576.4h0.8v0.8h-0.8zM110.0 566.7h0.8v0.8h-0.8zM95.9 577.1h0.8v0.8h-0.8zM110.9 578.2h0.8v0.8h-0.8zM92.5 573.7h0.8v0.8h-0.8zM119.4 580.9h0.8v0.8h-0.8zM107.2 572.1h0.8v0.8h-0.8zM95.5 565.4h0.8v0.8h-0.8zM118.1 571.6h0.8v0.8h-0.8zM116.4 566.8h0.8v0.8h-0.8zM100.1 562.5h0.8v0.8h-0.8zM125.8 562.6h0.8v0.8h-0.8zM97.0 580.6h0.8v0.8h-0.8zM108.8 566.3h0.8v0.8h-0.8zM116.6 568.9h0.8v0.8h-0.8zM85.6 565.7h0.8v0.8h-0.8zM115.0 569.7h0.8v0.8h-0.8zM105.4 567.8h0.8v0.8h-0.8zM105.9 567.0h0.8v0.8h-0.8zM96.3 563.0h0.8v0.8h-0.8zM109.0 562.0h0.8v0.8h-0.8zM96.0 565.3h0.8v0.8h-0.8zM97.3 570.5h0.8v0.8h-0.8zM102.0 579.4h0.8v0.8h-0.8zM95.0 574.3h0.8v0.8h-0.8zM120.2 578.2h0.8v0.8h-0.8zM94.0 571.5h0.8v0.8h-0.8zM99.2 568.6h0.8v0.8h-0.8zM103.2 562.5h0.8v0.8h-0.8zM106.0 569.1h0.8v0.8h-0.8zM113.1 558.4h0.8v0.8h-0.8zM113.4 567.6h0.8v0.8h-0.8zM103.3 577.2h0.8v0.8h-0.8zM102.5 570.7h0.8v0.8h-0.8zM106.3 574.7h0.8v0.8h-0.8zM113.4 567.2h0.8v0.8h-0.8zM112.3 562.2h0.8v0.8h-0.8zM101.4 566.7h0.8v0.8h-0.8zM87.5 567.1h0.8v0.8h-0.8zM125.3 575.1h0.8v0.8h-0.8zM114.6 579.0h0.8v0.8h-0.8zM108.4 565.4h0.8v0.8h-0.8zM109.1 567.3h0.8v0.8h-0.8zM101.3 568.4h0.8v0.8h-0.8zM97.0 567.4h0.8v0.8h-0.8zM103.0 562.9h0.8v0.8h-0.8zM104.0 569.6h0.8v0.8h-0.8zM100.4 570.9h0.8v0.8h-0.8zM92.9 571.1h0.8v0.8h-0.8zM103.2 563.1h0.8v0.8h-0.8zM111.2 568.6h0.8v0.8h-0.8zM101.5 560.4h0.8v0.8h-0.8zM106.2 573.7h0.8v0.8h-0.8zM87.4 564.0h0.8v0.8h-0.8zM104.1 567.8h0.8v0.8h-0.8zM104.9 566.9h0.8v0.8h-0.8zM95.0 566.2h0.8v0.8h-0.8zM90.4 563.8h0.8v0.8h-0.8zM109.7 560.3h0.8v0.8h-0.8zM98.7 577.8h0.8v0.8h-0.8zM110.4 570.4h0.8v0.8h-0.8zM102.2 570.5h0.8v0.8h-0.8zM111.6 579.6h0.8v0.8h-0.8zM103.0 568.6h0.8v0.8h-0.8zM92.4 571.9h0.8v0.8h-0.8zM105.2 569.3h0.8v0.8h-0.8zM103.0 575.1h0.8v0.8h-0.8zM111.9 571.7h0.8v0.8h-0.8zM101.9 570.7h0.8v0.8h-0.8zM102.5 567.9h0.8v0.8h-0.8zM113.7 570.6h0.8v0.8h-0.8zM116.5 575.0h0.8v0.8h-0.8zM112.8 558.8h0.8v0.8h-0.8zM115.3 568.5h0.8v0.8h-0.8zM110.1 567.1h0.8v0.8h-0.8zM112.9 567.7h0.8v0.8h-0.8zM113.9 559.3h0.8v0.8h-0.8zM109.6 572.8h0.8v0.8h-0.8zM106.6 564.9h0.8v0.8h-0.8z" fill="#aaa"/>
<path d="M107.1 569.7h0.8v0.8h-0.8zM105.9 563.5h0.8v0.8h-0.8zM100.6 567.3h0.8v0.8h-0.8zM106.1 567.5h0.8v0.8h-0.8zM99.9 570.3h0.8v0.8h-0.8zM103.9 566.1h0.8v0.8h-0.8zM106.7 567.4h0.8v0.8h-0.8zM108.1 565.8h0.8v0.8h-0.8zM108.4 568.6h0.8v0.8h-0.8zM107.5 568.9h0.8v0.8h-0.8zM117.8 571.7h0.8v0.8h-0.8zM110.1 571.1h0.8v0.8h-0.8zM102.7 569.2h0.8v0.8h-0.8zM105.4 569.5h0.8v0.8h-0.8zM105.2 569.1h0.8v0.8h-0.8zM107.4 569.1h0.8v0.8h-0.8zM105.4 573.4h0.8v0.8h-0.8zM104.3 561.3h0.8v0.8h-0.8zM115.6 568.2h0.8v0.8h-0.8zM108.3 569.7h0.8v0.8h-0.8zM106.6 572.1h0.8v0.8h-0.8zM107.0 565.4h0.8v0.8h-0.8zM107.2 569.8h0.8v0.8h-0.8zM114.4 571.3h0.8v0.8h-0.8zM110.3 567.4h0.8v0.8h-0.8zM113.2 563.0h0.8v0.8h-0.8zM94.1 567.7h0.8v0.8h-0.8zM109.6 565.1h0.8v0.8h-0.8zM112.9 570.7h0.8v0.8h-0.8zM117.0 566.2h0.8v0.8h-0.8zM108.3 574.1h0.8v0.8h-0.8zM100.4 569.2h0.8v0.8h-0.8zM110.8 566.3h0.8v0.8h-0.8zM105.5 567.2h0.8v0.8h-0.8zM100.1 565.5h0.8v0.8h-0.8zM105.4 569.9h0.8v0.8h-0.8zM112.9 573.2h0.8v0.8h-0.8zM113.6 568.1h0.8v0.8h-0.8zM111.4 571.5h0.8v0.8h-0.8zM103.4 565.9h0.8v0.8h-0.8zM119.5 569.7h0.8v0.8h-0.8zM102.9 575.6h0.8v0.8h-0.8zM107.8 564.5h0.8v0.8h-0.8zM101.7 572.4h0.8v0.8h-0.8zM114.1 572.3h0.8v0.8h-0.8zM110.2 563.1h0.8v0.8h-0.8zM112.2 564.4h0.8v0.8h-0.8zM108.6 565.8h0.8v0.8h-0.8zM107.9 571.6h0.8v0.8h-0.8zM109.0 567.4h0.8v0.8h-0.8zM99.7 568.2h0.8v0.8h-0.8zM112.6 570.9h0.8v0.8h-0.8zM112.3 569.1h0.8v0.8h-0.8zM106.4 569.4h0.8v0.8h-0.8zM108.1 567.8h0.8v0.8h-0.8zM109.5 572.1h0.8v0.8h-0.8zM115.2 566.4h0.8v0.8h-0.8zM110.1 573.8h0.8v0.8h-0.8zM108.4 567.7h0.8v0.8h-0.8zM105.9 566.3h0.8v0.8h-0.8zM101.4 570.7h0.8v0.8h-0.8zM105.5 570.1h0.8v0.8h-0.8zM108.5 562.8h0.8v0.8h-0.8zM107.1 569.4h0.8v0.8h-0.8zM108.5 564.7h0.8v0.8h-0.8zM111.5 566.2h0.8v0.8h-0.8zM110.2 571.1h0.8v0.8h-0.8zM109.4 566.1h0.8v0.8h-0.8zM111.2 569.8h0.8v0.8h-0.8zM109.0 567.6h0.8v0.8h-0.8zM108.1 574.5h0.8v0.8h-0.8zM110.3 568.4h0.8v0.8h-0.8zM100.4 565.2h0.8v0.8h-0.8zM113.8 565.4h0.8v0.8h-0.8zM102.4 566.0h0.8v0.8h-0.8zM112.0 569.1h0.8v0.8h-0.8zM108.3 568.7h0.8v0.8h-0.8zM113.2 571.6h0.8v0.8h-0.8zM108.4 569.2h0.8v0.8h-0.8zM104.0 569.1h0.8v0.8h-0.8zM113.0 569.7h0.8v0.8h-0.8zM109.0 568.3h0.8v0.8h-0.8zM108.8 569.6h0.8v0.8h-0.8zM108.6 571.1h0.8v0.8h-0.8zM112.7 571.1h0.8v0.8h-0.8zM111.9 567.1h0.8v0.8h-0.8zM109.3 563.4h0.8v0.8h-0.8zM101.2 566.3h0.8v0.8h-0.8zM106.4 569.5h0.8v0.8h-0.8zM108.7 561.2h0.8v0.8h-0.8zM116.3 567.3h0.8v0.8h-0.8zM110.0 570.0h0.8v0.8h-0.8zM107.8 567.0h0.8v0.8h-0.8zM113.6 565.3h0.8v0.8h-0.8zM107.7 573.9h0.8v0.8h-0.8zM108.1 572.8h0.8v0.8h-0.8zM108.9 567.9h0.8v0.8h-0.8zM101.5 572.7h0.8v0.8h-0.8zM112.6 572.6h0.8v0.8h-0.8zM110.2 565.3h0.8v0.8h-0.8zM107.0 576.7h0.8v0.8h-0.8zM103.1 565.9h0.8v0.8h-0.8zM109.2 567.9h0.8v0.8h-0.8zM114.5 565.4h0.8v0.8h-0.8zM105.4 568.9h0.8v0.8h-0.8zM103.5 564.7h0.8v0.8h-0.8zM110.1 568.7h0.8v0.8h-0.8zM101.1 571.9h0.8v0.8h-0.8zM98.3 569.3h0.8v0.8h-0.8zM106.3 567.9h0.8v0.8h-0.8zM105.1 573.3h0.8v0.8h-0.8zM107.0 566.0h0.8v0.8h-0.8zM105.8 571.6h0.8v0.8h-0.8zM109.7 567.8h0.8v0.8h-0.8zM107.3 569.3h0.8v0.8h-0.8zM105.6 568.8h0.8v0.8h-0.8zM106.2 569.0h0.8v0.8h-0.8zM111.1 568.5h0.8v0.8h-0.8zM112.6 566.3h0.8v0.8h-0.8zM112.3 566.9h0.8v0.8h-0.8zM111.4 570.0h0.8v0.8h-0.8zM93.4 568.3h0.8v0.8h-0.8zM103.8 565.2h0.8v0.8h-0.8zM106.8 566.5h0.8v0.8h-0.8zM109.2 566.6h0.8v0.8h-0.8zM101.0 568.5h0.8v0.8h-0.8zM114.7 569.2h0.8v0.8h-0.8zM109.6 568.9h0.8v0.8h-0.8zM105.5 566.7h0.8v0.8h-0.8zM109.0 568.7h0.8v0.8h-0.8zM106.7 564.5h0.8v0.8h-0.8zM104.8 560.0h0.8v0.8h-0.8zM110.5 568.5h0.8v0.8h-0.8zM106.2 563.7h0.8v0.8h-0.8zM101.9 565.8h0.8v0.8h-0.8zM105.4 565.0h0.8v0.8h-0.8zM107.8 570.5h0.8v0.8h-0.8zM103.4 565.0h0.8v0.8h-0.8zM113.9 569.4h0.8v0.8h-0.8zM103.4 567.1h0.8v0.8h-0.8zM116.2 564.9h0.8v0.8h-0.8zM112.3 563.9h0.8v0.8h-0.8zM104.0 570.0h0.8v0.8h-0.8zM108.9 569.7h0.8v0.8h-0.8zM113.6 570.9h0.8v0.8h-0.8zM107.4 574.1h0.8v0.8h-0.8zM102.9 569.4h0.8v0.8h-0.8zM108.8 569.4h0.8v0.8h-0.8zM117.2 568.2h0.8v0.8h-0.8zM101.6 568.9h0.8v0.8h-0.8zM110.8 567.5h0.8v0.8h-0.8zM108.3 565.9h0.8v0.8h-0.8zM107.8 574.5h0.8v0.8h-0.8zM106.5 563.0h0.8v0.8h-0.8zM106.9 569.3h0.8v0.8h-0.8zM113.0 569.9h0.8v0.8h-0.8zM111.0 569.0h0.8v0.8h-0.8zM103.8 565.7h0.8v0.8h-0.8zM115.3 568.0h0.8v0.8h-0.8zM102.5 567.2h0.8v0.8h-0.8zM111.3 565.3h0.8v0.8h-0.8zM109.1 568.4h0.8v0.8h-0.8zM113.7 567.3h0.8v0.8h-0.8zM109.9 566.9h0.8v0.8h-0.8zM113.1 570.6h0.8v0.8h-0.8zM108.2 565.3h0.8v0.8h-0.8zM112.7 569.8h0.8v0.8h-0.8zM109.9 566.7h0.8v0.8h-0.8zM118.0 569.8h0.8v0.8h-0.8zM105.2 568.7h0.8v0.8h-0.8zM113.7 569.2h0.8v0.8h-0.8zM110.4 565.6h0.8v0.8h-0.8zM109.1 566.2h0.8v0.8h-0.8zM105.8 565.9h0.8v0.8h-0.8zM110.3 569.0h0.8v0.8h-0.8zM101.7 570.7h0.8v0.8h-0.8zM102.2 571.7h0.8v0.8h-0.8zM111.5 567.0h0.8v0.8h-0.8zM101.3 568.7h0.8v0.8h-0.8zM114.8 563.6h0.8v0.8h-0.8zM107.1 561.8h0.8v0.8h-0.8zM109.5 565.9h0.8v0.8h-0.8zM108.7 566.5h0.8v0.8h-0.8zM110.2 563.8h0.8v0.8h-0.8zM107.1 563.1h0.8v0.8h-0.8zM106.7 570.1h0.8v0.8h-0.8zM107.8 566.1h0.8v0.8h-0.8zM113.1 563.4h0.8v0.8h-0.8zM113.4 575.4h0.8v0.8h-0.8zM114.1 569.0h0.8v0.8h-0.8zM110.0 567.5h0.8v0.8h-0.8zM107.4 570.5h0.8v0.8h-0.8zM100.8 566.2h0.8v0.8h-0.8zM111.2 573.2h0.8v0.8h-0.8zM112.1 563.8h0.8v0.8h-0.8zM106.5 564.5h0.8v0.8h-0.8zM112.0 568.0h0.8v0.8h-0.8zM114.1 566.2h0.8v0.8h-0.8zM108.8 572.7h0.8v0.8h-0.8zM113.1 563.6h0.8v0.8h-0.8z" fill="#555"/>
<path d="M69.5 581.2h0.8v0.8h-0.8zM83.0 585.7h0.8v0.8h-0.8zM87.5 593.1h0.8v0.8h-0.8zM93.6 594.4h0.8v0.8h-0.8zM84.4 585.0h0.8v0.8h-0.8zM110.4 588.8h0.8v0.8h-0.8zM73.0 590.1h0.8v0.8h-0.8zM82.0 589.9h0.8v0.8h-0.8zM91.5 595.4h0.8v0.8h-0.8zM75.2 591.6h0.8v0.8h-0.8zM75.5 592.0h0.8v0.8h-0.8zM73.1 581.8h0.8v0.8h-0.8zM70.5 584.1h0.8v0.8h-0.8zM63.8 593.0h0.8v0.8h-0.8zM71.8 580.6h0.8v0.8h-0.8zM57.9 592.6h0.8v0.8h-0.8zM84.8 586.7h0.8v0.8h-0.8zM57.3 585.7h0.8v0.8h-0.8zM108.3 595.1h0.8v0.8h-0.8zM103.2 586.5h0.8v0.8h-0.8zM94.9 585.4h0.8v0.8h-0.8zM76.5 586.5h0.8v0.8h-0.8zM71.2 591.3h0.8v0.8h-0.8zM96.5 608.6h0.8v0.8h-0.8zM81.9 577.2h0.8v0.8h-0.8zM87.2 590.8h0.8v0.8h-0.8zM69.3 589.3h0.8v0.8h-0.8zM94.3 597.0h0.8v0.8h-0.8zM68.2 588.5h0.8v0.8h-0.8zM80.9 574.9h0.8v0.8h-0.8zM55.2 599.4h0.8v0.8h-0.8zM70.2 583.8h0.8v0.8h-0.8zM86.3 590.5h0.8v0.8h-0.8zM73.1 582.0h0.8v0.8h-0.8zM73.1 583.8h0.8v0.8h-0.8zM90.3 587.7h0.8v0.8h-0.8zM78.3 596.4h0.8v0.8h-0.8zM96.6 596.3h0.8v0.8h-0.8zM45.6 587.0h0.8v0.8h-0.8zM87.2 594.1h0.8v0.8h-0.8zM86.4 588.4h0.8v0.8h-0.8zM57.8 591.6h0.8v0.8h-0.8zM61.2 591.8h0.8v0.8h-0.8zM91.5 594.8h0.8v0.8h-0.8zM64.4 586.9h0.8v0.8h-0.8zM70.4 590.0h0.8v0.8h-0.8zM87.6 592.2h0.8v0.8h-0.8zM74.6 591.4h0.8v0.8h-0.8zM85.9 585.7h0.8v0.8h-0.8zM67.2 601.9h0.8v0.8h-0.8zM83.4 587.9h0.8v0.8h-0.8zM94.4 595.7h0.8v0.8h-0.8zM83.8 592.1h0.8v0.8h-0.8zM48.7 598.7h0.8v0.8h-0.8zM88.3 576.7h0.8v0.8h-0.8zM80.1 604.1h0.8v0.8h-0.8zM66.6 589.4h0.8v0.8h-0.8zM98.7 582.9h0.8v0.8h-0.8zM54.9 591.7h0.8v0.8h-0.8zM105.4 605.4h0.8v0.8h-0.8zM70.4 594.1h0.8v0.8h-0.8zM101.2 582.9h0.8v0.8h-0.8zM78.6 587.8h0.8v0.8h-0.8zM60.7 599.4h0.8v0.8h-0.8zM80.6 581.7h0.8v0.8h-0.8zM83.9 589.6h0.8v0.8h-0.8zM86.8 588.9h0.8v0.8h-0.8zM94.0 604.8h0.8v0.8h-0.8zM66.7 588.9h0.8v0.8h-0.8zM86.1 599.3h0.8v0.8h-0.8zM89.5 586.4h0.8v0.8h-0.8zM75.5 585.6h0.8v0.8h-0.8zM66.2 597.3h0.8v0.8h-0.8zM65.9 594.8h0.8v0.8h-0.8zM89.7 579.6h0.8v0.8h-0.8zM90.4 594.9h0.8v0.8h-0.8zM67.7 595.0h0.8v0.8h-0.8zM60.6 586.8h0.8v0.8h-0.8zM96.5 592.2h0.8v0.8h-0.8zM57.6 592.5h0.8v0.8h-0.8zM81.5 587.7h0.8v0.8h-0.8zM68.0 587.0h0.8v0.8h-0.8zM54.8 586.5h0.8v0.8h-0.8zM81.0 589.0h0.8v0.8h-0.8zM76.6 582.2h0.8v0.8h-0.8zM99.3 590.5h0.8v0.8h-0.8zM110.9 581.1h0.8v0.8h-0.8zM76.6 591.3h0.8v0.8h-0.8zM93.5 590.2h0.8v0.8h-0.8zM93.8 584.1h0.8v0.8h-0.8zM71.9 596.3h0.8v0.8h-0.8zM67.1 603.3h0.8v0.8h-0.8zM101.7 599.3h0.8v0.8h-0.8zM74.1 582.0h0.8v0.8h-0.8zM78.9 599.0h0.8v0.8h-0.8zM75.2 592.2h0.8v0.8h-0.8zM77.4 590.4h0.8v0.8h-0.8zM70.8 586.9h0.8v0.8h-0.8zM89.6 590.7h0.8v0.8h-0.8zM96.7 599.7h0.8v0.8h-0.8zM74.0 594.3h0.8v0.8h-0.8zM60.0 588.1h0.8v0.8h-0.8zM79.9 586.5h0.8v0.8h-0.8zM58.5 588.1h0.8v0.8h-0.8zM70.3 594.6h0.8v0.8h-0.8zM96.4 602.8h0.8v0.8h-0.8zM111.6 584.0h0.8v0.8h-0.8zM84.5 590.8h0.8v0.8h-0.8zM64.4 588.3h0.8v0.8h-0.8zM90.1 585.9h0.8v0.8h-0.8zM47.9 593.3h0.8v0.8h-0.8zM69.5 594.3h0.8v0.8h-0.8zM100.4 581.6h0.8v0.8h-0.8zM89.6 584.1h0.8v0.8h-0.8zM60.0 598.5h0.8v0.8h-0.8zM56.0 592.8h0.8v0.8h-0.8zM91.1 594.1h0.8v0.8h-0.8zM78.6 587.5h0.8v0.8h-0.8zM70.9 588.3h0.8v0.8h-0.8zM85.0 593.7h0.8v0.8h-0.8zM71.2 587.6h0.8v0.8h-0.8zM52.4 583.6h0.8v0.8h-0.8zM90.5 590.8h0.8v0.8h-0.8zM70.2 596.6h0.8v0.8h-0.8zM65.2 584.1h0.8v0.8h-0.8zM60.6 597.6h0.8v0.8h-0.8zM82.7 595.3h0.8v0.8h-0.8zM68.0 585.2h0.8v0.8h-0.8zM87.9 590.8h0.8v0.8h-0.8zM75.5 590.5h0.8v0.8h-0.8zM94.3 594.9h0.8v0.8h-0.8zM73.8 595.1h0.8v0.8h-0.8zM70.1 582.4h0.8v0.8h-0.8zM51.8 582.1h0.8v0.8h-0.8zM63.9 597.4h0.8v0.8h-0.8zM89.3 591.5h0.8v0.8h-0.8zM121.8 593.5h0.8v0.8h-0.8zM61.8 592.9h0.8v0.8h-0.8zM64.8 600.6h0.8v0.8h-0.8zM83.9 583.0h0.8v0.8h-0.8zM85.9 597.8h0.8v0.8h-0.8zM69.8 585.5h0.8v0.8h-0.8zM80.3 595.5h0.8v0.8h-0.8zM56.8 599.4h0.8v0.8h-0.8zM75.1 581.9h0.8v0.8h-0.8zM91.8 593.4h0.8v0.8h-0.8zM102.0 589.0h0.8v0.8h-0.8zM76.9 588.9h0.8v0.8h-0.8zM75.6 591.1h0.8v0.8h-0.8zM85.5 584.0h0.8v0.8h-0.8zM94.6 584.6h0.8v0.8h-0.8zM86.0 595.0h0.8v0.8h-0.8zM68.8 596.2h0.8v0.8h-0.8zM84.2 587.1h0.8v0.8h-0.8zM92.7 581.4h0.8v0.8h-0.8zM69.3 605.7h0.8v0.8h-0.8zM60.6 597.8h0.8v0.8h-0.8zM86.3 593.1h0.8v0.8h-0.8zM84.3 584.2h0.8v0.8h-0.8zM92.7 587.0h0.8v0.8h-0.8zM80.5 592.3h0.8v0.8h-0.8zM70.3 584.6h0.8v0.8h-0.8zM73.2 601.1h0.8v0.8h-0.8zM64.9 591.7h0.8v0.8h-0.8zM66.1 593.3h0.8v0.8h-0.8zM71.4 584.2h0.8v0.8h-0.8zM72.5 585.0h0.8v0.8h-0.8zM94.8 585.7h0.8v0.8h-0.8zM62.2 592.6h0.8v0.8h-0.8zM78.6 589.1h0.8v0.8h-0.8zM71.1 588.9h0.8v0.8h-0.8zM100.0 592.8h0.8v0.8h-0.8zM82.9 592.2h0.8v0.8h-0.8zM74.1 600.3h0.8v0.8h-0.8zM90.6 589.5h0.8v0.8h-0.8zM80.2 584.3h0.8v0.8h-0.8zM72.7 590.7h0.8v0.8h-0.8zM100.7 600.2h0.8v0.8h-0.8zM89.2 587.2h0.8v0.8h-0.8zM103.4 591.1h0.8v0.8h-0.8zM95.4 588.5h0.8v0.8h-0.8zM90.1 593.4h0.8v0.8h-0.8zM81.2 592.4h0.8v0.8h-0.8zM64.2 585.6h0.8v0.8h-0.8zM89.2 589.3h0.8v0.8h-0.8zM80.4 596.8h0.8v0.8h-0.8zM88.8 597.8h0.8v0.8h-0.8zM79.2 596.7h0.8v0.8h-0.8zM69.8 596.3h0.8v0.8h-0.8zM65.4 588.7h0.8v0.8h-0.8zM89.1 588.5h0.8v0.8h-0.8zM97.4 596.7h0.8v0.8h-0.8zM75.4 583.3h0.8v0.8h-0.8zM85.7 590.4h0.8v0.8h-0.8zM98.6 578.9h0.8v0.8h-0.8zM67.8 588.4h0.8v0.8h-0.8zM74.7 586.3h0.8v0.8h-0.8zM63.8 583.1h0.8v0.8h-0.8zM95.8 594.5h0.8v0.8h-0.8zM83.0 586.1h0.8v0.8h-0.8zM73.0 588.4h0.8v0.8h-0.8zM56.4 589.1h0.8v0.8h-0.8zM76.9 586.1h0.8v0.8h-0.8zM93.3 599.9h0.8v0.8h-0.8zM75.3 587.6h0.8v0.8h-0.8zM73.5 592.0h0.8v0.8h-0.8zM88.3 582.4h0.8v0.8h-0.8zM62.3 587.8h0.8v0.8h-0.8zM80.2 588.7h0.8v0.8h-0.8zM87.8 588.8h0.8v0.8h-0.8zM68.6 587.1h0.8v0.8h-0.8zM67.9 591.7h0.8v0.8h-0.8zM82.9 600.7h0.8v0.8h-0.8zM78.1 589.9h0.8v0.8h-0.8zM76.2 589.9h0.8v0.8h-0.8zM82.3 588.3h0.8v0.8h-0.8zM82.5 607.0h0.8v0.8h-0.8zM66.6 601.1h0.8v0.8h-0.8zM70.2 594.3h0.8v0.8h-0.8zM85.7 595.3h0.8v0.8h-0.8zM95.1 586.3h0.8v0.8h-0.8zM98.3 589.8h0.8v0.8h-0.8zM67.7 592.1h0.8v0.8h-0.8zM94.7 591.6h0.8v0.8h-0.8zM90.0 585.3h0.8v0.8h-0.8zM79.1 585.8h0.8v0.8h-0.8zM86.3 594.1h0.8v0.8h-0.8zM91.0 592.8h0.8v0.8h-0.8zM104.3 577.4h0.8v0.8h-0.8zM64.8 591.4h0.8v0.8h-0.8zM87.9 598.9h0.8v0.8h-0.8zM77.6 586.7h0.8v0.8h-0.8zM76.6 592.3h0.8v0.8h-0.8zM95.4 581.5h0.8v0.8h-0.8zM90.9 596.1h0.8v0.8h-0.8zM65.4 583.7h0.8v0.8h-0.8zM75.6 582.8h0.8v0.8h-0.8zM82.7 588.8h0.8v0.8h-0.8zM59.9 605.9h0.8v0.8h-0.8zM91.5 586.9h0.8v0.8h-0.8zM78.5 582.8h0.8v0.8h-0.8zM81.8 593.7h0.8v0.8h-0.8zM84.2 592.3h0.8v0.8h-0.8zM104.6 601.4h0.8v0.8h-0.8zM80.1 582.7h0.8v0.8h-0.8zM74.6 580.6h0.8v0.8h-0.8zM103.7 588.8h0.8v0.8h-0.8zM72.6 593.2h0.8v0.8h-0.8zM72.3 593.1h0.8v0.8h-0.8zM60.3 597.7h0.8v0.8h-0.8zM94.6 581.3h0.8v0.8h-0.8zM83.3 585.5h0.8v0.8h-0.8zM86.1 590.0h0.8v0.8h-0.8zM81.9 596.2h0.8v0.8h-0.8zM77.7 593.8h0.8v0.8h-0.8zM68.7 588.1h0.8v0.8h-0.8zM68.8 584.3h0.8v0.8h-0.8zM85.6 596.4h0.8v0.8h-0.8zM81.3 596.9h0.8v0.8h-0.8zM102.2 608.1h0.8v0.8h-0.8zM69.1 589.7h0.8v0.8h-0.8zM72.8 601.2h0.8v0.8h-0.8zM65.5 583.1h0.8v0.8h-0.8zM98.7 587.3h0.8v0.8h-0.8zM62.5 586.5h0.8v0.8h-0.8zM90.3 587.9h0.8v0.8h-0.8zM99.5 585.2h0.8v0.8h-0.8zM77.7 587.3h0.8v0.8h-0.8zM89.6 590.5h0.8v0.8h-0.8zM50.1 587.9h0.8v0.8h-0.8zM74.3 595.0h0.8v0.8h-0.8zM56.6 590.3h0.8v0.8h-0.8zM82.0 590.8h0.8v0.8h-0.8zM79.7 600.2h0.8v0.8h-0.8zM69.0 592.8h0.8v0.8h-0.8zM92.7 591.8h0.8v0.8h-0.8zM84.5 590.7h0.8v0.8h-0.8zM72.4 591.2h0.8v0.8h-0.8zM72.5 594.5h0.8v0.8h-0.8zM59.3 585.7h0.8v0.8h-0.8zM77.1 598.1h0.8v0.8h-0.8zM109.0 600.8h0.8v0.8h-0.8zM69.8 598.2h0.8v0.8h-0.8zM85.5 587.7h0.8v0.8h-0.8zM72.0 580.7h0.8v0.8h-0.8zM90.8 588.0h0.8v0.8h-0.8zM85.7 591.8h0.8v0.8h-0.8zM76.4 596.1h0.8v0.8h-0.8zM55.0 589.6h0.8v0.8h-0.8zM72.5 588.9h0.8v0.8h-0.8zM96.3 600.5h0.8v0.8h-0.8zM76.3 586.5h0.8v0.8h-0.8zM88.4 597.6h0.8v0.8h-0.8zM73.0 596.6h0.8v0.8h-0.8zM53.8 582.3h0.8v0.8h-0.8zM85.5 592.6h0.8v0.8h-0.8zM84.1 587.3h0.8v0.8h-0.8zM71.6 584.8h0.8v0.8h-0.8zM74.5 579.0h0.8v0.8h-0.8zM83.7 580.8h0.8v0.8h-0.8zM71.5 593.5h0.8v0.8h-0.8zM84.4 588.3h0.8v0.8h-0.8zM76.8 592.5h0.8v0.8h-0.8zM47.0 584.0h0.8v0.8h-0.8zM77.7 588.8h0.8v0.8h-0.8zM71.4 589.1h0.8v0.8h-0.8zM68.1 581.0h0.8v0.8h-0.8zM85.2 580.2h0.8v0.8h-0.8zM72.9 593.6h0.8v0.8h-0.8zM87.1 591.7h0.8v0.8h-0.8zM94.8 584.9h0.8v0.8h-0.8zM81.7 590.2h0.8v0.8h-0.8zM58.3 595.0h0.8v0.8h-0.8zM69.6 602.5h0.8v0.8h-0.8zM92.3 585.2h0.8v0.8h-0.8zM76.1 594.7h0.8v0.8h-0.8zM68.5 604.3h0.8v0.8h-0.8zM78.4 591.2h0.8v0.8h-0.8zM86.7 600.2h0.8v0.8h-0.8zM83.3 574.3h0.8v0.8h-0.8zM88.6 600.0h0.8v0.8h-0.8zM68.3 590.7h0.8v0.8h-0.8zM75.9 578.9h0.8v0.8h-0.8zM76.2 595.8h0.8v0.8h-0.8zM79.4 597.5h0.8v0.8h-0.8zM50.7 598.5h0.8v0.8h-0.8zM76.4 598.5h0.8v0.8h-0.8zM61.1 590.6h0.8v0.8h-0.8zM98.9 586.0h0.8v0.8h-0.8zM101.2 587.9h0.8v0.8h-0.8zM103.0 590.6h0.8v0.8h-0.8zM90.9 593.4h0.8v0.8h-0.8zM73.0 587.7h0.8v0.8h-0.8zM93.0 591.1h0.8v0.8h-0.8zM77.0 596.4h0.8v0.8h-0.8zM88.2 592.9h0.8v0.8h-0.8zM67.2 605.4h0.8v0.8h-0.8zM71.6 604.6h0.8v0.8h-0.8zM86.2 583.5h0.8v0.8h-0.8zM104.3 587.2h0.8v0.8h-0.8zM79.4 582.5h0.8v0.8h-0.8zM110.9 583.4h0.8v0.8h-0.8zM117.9 594.3h0.8v0.8h-0.8zM62.0 584.5h0.8v0.8h-0.8zM79.4 584.1h0.8v0.8h-0.8zM66.6 589.1h0.8v0.8h-0.8zM77.8 595.9h0.8v0.8h-0.8zM72.4 588.5h0.8v0.8h-0.8zM78.8 588.5h0.8v0.8h-0.8zM93.1 596.7h0.8v0.8h-0.8zM92.8 593.8h0.8v0.8h-0.8zM83.4 593.7h0.8v0.8h-0.8zM79.8 596.9h0.8v0.8h-0.8zM81.4 584.4h0.8v0.8h-0.8zM81.5 592.2h0.8v0.8h-0.8zM87.7 586.8h0.8v0.8h-0.8zM79.9 597.4h0.8v0.8h-0.8zM86.7 596.0h0.8v0.8h-0.8zM61.7 584.1h0.8v0.8h-0.8zM90.8 599.4h0.8v0.8h-0.8zM104.0 583.3h0.8v0.8h-0.8zM82.3 598.3h0.8v0.8h-0.8zM60.2 592.1h0.8v0.8h-0.8zM98.5 585.2h0.8v0.8h-0.8zM75.2 583.7h0.8v0.8h-0.8zM38.4 588.9h0.8v0.8h-0.8zM76.8 590.7h0.8v0.8h-0.8zM88.2 586.3h0.8v0.8h-0.8zM85.1 594.4h0.8v0.8h-0.8zM97.0 581.9h0.8v0.8h-0.8zM88.4 590.8h0.8v0.8h-0.8zM81.5 590.8h0.8v0.8h-0.8zM52.5 578.8h0.8v0.8h-0.8zM64.4 592.8h0.8v0.8h-0.8zM82.3 582.7h0.8v0.8h-0.8zM89.2 574.8h0.8v0.8h-0.8zM65.6 586.9h0.8v0.8h-0.8zM71.3 589.3h0.8v0.8h-0.8zM86.3 596.6h0.8v0.8h-0.8zM53.4 587.7h0.8v0.8h-0.8zM52.9 600.2h0.8v0.8h-0.8zM76.6 600.0h0.8v0.8h-0.8zM83.3 597.8h0.8v0.8h-0.8zM73.2 599.3h0.8v0.8h-0.8zM48.0 593.0h0.8v0.8h-0.8zM80.1 587.2h0.8v0.8h-0.8zM61.4 595.0h0.8v0.8h-0.8zM88.9 597.0h0.8v0.8h-0.8zM78.4 592.3h0.8v0.8h-0.8zM83.5 589.2h0.8v0.8h-0.8zM88.7 580.8h0.8v0.8h-0.8zM72.5 595.1h0.8v0.8h-0.8zM91.3 593.1h0.8v0.8h-0.8zM97.1 582.5h0.8v0.8h-0.8zM85.3 591.4h0.8v0.8h-0.8zM98.3 595.4h0.8v0.8h-0.8zM71.1 590.1h0.8v0.8h-0.8zM92.5 595.8h0.8v0.8h-0.8zM83.6 595.6h0.8v0.8h-0.8zM66.2 581.3h0.8v0.8h-0.8zM78.7 588.9h0.8v0.8h-0.8zM72.5 593.9h0.8v0.8h-0.8zM72.2 596.7h0.8v0.8h-0.8zM81.0 599.8h0.8v0.8h-0.8zM94.6 578.5h0.8v0.8h-0.8zM75.4 590.4h0.8v0.8h-0.8zM81.6 595.4h0.8v0.8h-0.8zM59.5 598.7h0.8v0.8h-0.8zM81.3 601.6h0.8v0.8h-0.8zM95.8 584.8h0.8v0.8h-0.8zM91.1 588.4h0.8v0.8h-0.8zM86.4 584.0h0.8v0.8h-0.8zM72.5 596.1h0.8v0.8h-0.8zM66.3 582.3h0.8v0.8h-0.8zM78.5 598.4h0.8v0.8h-0.8zM61.3 596.8h0.8v0.8h-0.8zM62.7 593.9h0.8v0.8h-0.8zM92.9 576.9h0.8v0.8h-0.8zM67.1 586.5h0.8v0.8h-0.8zM104.7 595.6h0.8v0.8h-0.8zM60.0 581.7h0.8v0.8h-0.8zM85.8 589.3h0.8v0.8h-0.8zM63.6 590.1h0.8v0.8h-0.8zM82.3 596.5h0.8v0.8h-0.8zM65.4 592.6h0.8v0.8h-0.8zM80.4 592.6h0.8v0.8h-0.8zM77.7 588.0h0.8v0.8h-0.8zM73.6 590.8h0.8v0.8h-0.8zM86.9 589.9h0.8v0.8h-0.8zM100.8 595.5h0.8v0.8h-0.8zM71.6 589.6h0.8v0.8h-0.8zM92.1 597.4h0.8v0.8h-0.8zM81.0 579.9h0.8v0.8h-0.8zM79.4 598.5h0.8v0.8h-0.8zM110.2 589.7h0.8v0.8h-0.8zM49.7 598.0h0.8v0.8h-0.8zM70.4 591.3h0.8v0.8h-0.8zM54.7 596.3h0.8v0.8h-0.8zM75.5 600.4h0.8v0.8h-0.8zM76.7 587.2h0.8v0.8h-0.8zM132.7 591.3h0.8v0.8h-0.8zM84.6 589.7h0.8v0.8h-0.8zM104.7 592.1h0.8v0.8h-0.8zM97.8 580.4h0.8v0.8h-0.8zM73.7 589.7h0.8v0.8h-0.8zM86.5 589.2h0.8v0.8h-0.8zM103.0 585.7h0.8v0.8h-0.8zM82.2 589.5h0.8v0.8h-0.8zM82.7 580.9h0.8v0.8h-0.8zM86.8 599.8h0.8v0.8h-0.8z" fill="#b0b0b0"/>
<path d="M84.9 591.0h0.8v0.8h-0.8zM94.8 590.6h0.8v0.8h-0.8zM75.7 589.4h0.8v0.8h-0.8zM73.7 593.4h0.8v0.8h-0.8zM83.7 586.8h0.8v0.8h-0.8zM70.2 589.8h0.8v0.8h-0.8zM83.3 588.2h0.8v0.8h-0.8zM76.9 592.8h0.8v0.8h-0.8zM79.5 589.5h0.8v0.8h-0.8zM83.5 591.2h0.8v0.8h-0.8zM82.1 592.3h0.8v0.8h-0.8zM94.6 585.8h0.8v0.8h-0.8zM86.1 592.5h0.8v0.8h-0.8zM72.8 588.6h0.8v0.8h-0.8zM88.5 590.2h0.8v0.8h-0.8zM72.5 590.6h0.8v0.8h-0.8zM82.4 593.6h0.8v0.8h-0.8zM73.1 593.4h0.8v0.8h-0.8zM76.0 596.8h0.8v0.8h-0.8zM90.8 591.6h0.8v0.8h-0.8zM77.9 589.4h0.8v0.8h-0.8zM77.3 589.4h0.8v0.8h-0.8zM77.9 593.1h0.8v0.8h-0.8zM79.6 596.2h0.8v0.8h-0.8zM91.7 592.1h0.8v0.8h-0.8zM73.6 589.1h0.8v0.8h-0.8zM73.2 591.9h0.8v0.8h-0.8zM85.8 591.8h0.8v0.8h-0.8zM70.7 591.1h0.8v0.8h-0.8zM79.2 588.6h0.8v0.8h-0.8zM89.6 582.7h0.8v0.8h-0.8zM81.7 589.2h0.8v0.8h-0.8zM78.4 594.4h0.8v0.8h-0.8zM76.8 591.7h0.8v0.8h-0.8zM75.4 583.8h0.8v0.8h-0.8zM77.6 591.0h0.8v0.8h-0.8zM82.7 585.0h0.8v0.8h-0.8zM90.3 597.5h0.8v0.8h-0.8zM88.4 591.6h0.8v0.8h-0.8zM77.8 587.1h0.8v0.8h-0.8zM76.6 593.6h0.8v0.8h-0.8zM86.5 588.4h0.8v0.8h-0.8zM69.1 592.8h0.8v0.8h-0.8zM78.7 591.1h0.8v0.8h-0.8zM79.4 587.1h0.8v0.8h-0.8zM74.0 593.2h0.8v0.8h-0.8zM74.8 586.6h0.8v0.8h-0.8zM84.1 595.4h0.8v0.8h-0.8zM70.2 591.2h0.8v0.8h-0.8zM75.3 587.6h0.8v0.8h-0.8zM77.2 585.1h0.8v0.8h-0.8zM82.2 596.3h0.8v0.8h-0.8zM72.2 595.7h0.8v0.8h-0.8zM89.1 586.9h0.8v0.8h-0.8zM79.5 596.4h0.8v0.8h-0.8zM79.8 591.5h0.8v0.8h-0.8zM79.1 590.3h0.8v0.8h-0.8zM77.0 590.7h0.8v0.8h-0.8zM74.8 590.1h0.8v0.8h-0.8zM89.5 595.7h0.8v0.8h-0.8zM83.0 591.5h0.8v0.8h-0.8zM80.8 585.0h0.8v0.8h-0.8zM88.5 597.8h0.8v0.8h-0.8zM76.7 593.9h0.8v0.8h-0.8zM85.9 587.4h0.8v0.8h-0.8zM81.7 589.8h0.8v0.8h-0.8zM75.4 588.0h0.8v0.8h-0.8zM86.8 591.2h0.8v0.8h-0.8zM71.2 592.3h0.8v0.8h-0.8zM86.0 591.8h0.8v0.8h-0.8zM75.4 589.0h0.8v0.8h-0.8zM84.4 588.4h0.8v0.8h-0.8zM91.1 593.8h0.8v0.8h-0.8zM85.4 590.7h0.8v0.8h-0.8zM77.4 598.4h0.8v0.8h-0.8zM81.3 588.4h0.8v0.8h-0.8zM79.0 593.6h0.8v0.8h-0.8zM73.4 591.2h0.8v0.8h-0.8zM73.9 588.5h0.8v0.8h-0.8zM81.8 595.5h0.8v0.8h-0.8zM85.2 591.4h0.8v0.8h-0.8zM69.3 588.1h0.8v0.8h-0.8zM81.0 590.0h0.8v0.8h-0.8zM85.0 594.3h0.8v0.8h-0.8zM82.2 587.0h0.8v0.8h-0.8zM74.5 595.5h0.8v0.8h-0.8zM88.6 593.2h0.8v0.8h-0.8zM73.1 590.1h0.8v0.8h-0.8zM85.9 595.4h0.8v0.8h-0.8zM92.5 596.7h0.8v0.8h-0.8zM67.4 593.0h0.8v0.8h-0.8zM83.2 591.6h0.8v0.8h-0.8zM83.6 597.0h0.8v0.8h-0.8zM83.0 595.9h0.8v0.8h-0.8zM76.1 588.0h0.8v0.8h-0.8zM79.3 590.3h0.8v0.8h-0.8zM71.8 590.3h0.8v0.8h-0.8zM82.3 589.7h0.8v0.8h-0.8zM85.1 586.1h0.8v0.8h-0.8zM76.8 594.0h0.8v0.8h-0.8zM75.0 591.3h0.8v0.8h-0.8zM78.1 591.3h0.8v0.8h-0.8zM81.3 595.6h0.8v0.8h-0.8zM81.8 589.1h0.8v0.8h-0.8zM80.6 590.8h0.8v0.8h-0.8zM81.8 591.9h0.8v0.8h-0.8zM72.3 589.6h0.8v0.8h-0.8zM62.6 590.6h0.8v0.8h-0.8zM85.6 593.5h0.8v0.8h-0.8zM91.1 591.0h0.8v0.8h-0.8zM71.6 595.4h0.8v0.8h-0.8zM76.8 588.5h0.8v0.8h-0.8zM83.4 591.7h0.8v0.8h-0.8zM87.9 586.3h0.8v0.8h-0.8zM85.8 590.6h0.8v0.8h-0.8zM90.1 588.7h0.8v0.8h-0.8zM81.0 595.5h0.8v0.8h-0.8zM84.2 593.4h0.8v0.8h-0.8zM84.2 592.7h0.8v0.8h-0.8zM78.4 597.1h0.8v0.8h-0.8zM89.6 595.7h0.8v0.8h-0.8zM85.6 593.4h0.8v0.8h-0.8zM88.0 588.7h0.8v0.8h-0.8zM78.6 586.2h0.8v0.8h-0.8zM88.4 590.9h0.8v0.8h-0.8zM74.1 589.8h0.8v0.8h-0.8zM84.0 588.9h0.8v0.8h-0.8zM63.4 590.0h0.8v0.8h-0.8zM74.4 585.6h0.8v0.8h-0.8zM86.4 595.9h0.8v0.8h-0.8zM78.2 587.2h0.8v0.8h-0.8zM82.5 588.8h0.8v0.8h-0.8zM70.2 592.9h0.8v0.8h-0.8zM91.9 585.6h0.8v0.8h-0.8zM85.4 594.0h0.8v0.8h-0.8zM81.1 594.1h0.8v0.8h-0.8zM84.2 590.0h0.8v0.8h-0.8zM83.6 587.4h0.8v0.8h-0.8zM91.0 589.4h0.8v0.8h-0.8zM82.8 584.9h0.8v0.8h-0.8zM71.2 595.6h0.8v0.8h-0.8zM79.6 591.2h0.8v0.8h-0.8zM90.1 588.6h0.8v0.8h-0.8zM85.2 588.0h0.8v0.8h-0.8zM78.4 592.9h0.8v0.8h-0.8zM85.5 596.0h0.8v0.8h-0.8zM82.1 586.8h0.8v0.8h-0.8zM85.5 589.1h0.8v0.8h-0.8zM70.4 585.2h0.8v0.8h-0.8zM75.2 593.2h0.8v0.8h-0.8zM85.9 591.5h0.8v0.8h-0.8zM79.8 598.5h0.8v0.8h-0.8zM83.7 590.6h0.8v0.8h-0.8zM94.7 589.6h0.8v0.8h-0.8zM79.2 588.7h0.8v0.8h-0.8zM83.0 593.8h0.8v0.8h-0.8zM77.5 585.6h0.8v0.8h-0.8zM77.0 593.5h0.8v0.8h-0.8zM80.8 591.8h0.8v0.8h-0.8zM71.4 589.3h0.8v0.8h-0.8zM66.9 588.0h0.8v0.8h-0.8zM90.6 594.5h0.8v0.8h-0.8zM80.6 597.2h0.8v0.8h-0.8zM89.0 589.5h0.8v0.8h-0.8zM82.1 592.8h0.8v0.8h-0.8zM82.3 596.8h0.8v0.8h-0.8zM85.9 588.9h0.8v0.8h-0.8zM86.2 590.2h0.8v0.8h-0.8zM73.1 587.0h0.8v0.8h-0.8zM89.6 590.5h0.8v0.8h-0.8zM74.7 590.7h0.8v0.8h-0.8zM82.7 589.6h0.8v0.8h-0.8zM98.8 588.5h0.8v0.8h-0.8zM81.9 585.7h0.8v0.8h-0.8zM92.7 586.5h0.8v0.8h-0.8zM78.9 587.8h0.8v0.8h-0.8zM85.5 593.1h0.8v0.8h-0.8zM81.7 589.3h0.8v0.8h-0.8zM84.2 588.2h0.8v0.8h-0.8zM75.5 593.2h0.8v0.8h-0.8zM75.0 592.9h0.8v0.8h-0.8zM83.6 588.5h0.8v0.8h-0.8zM70.6 588.9h0.8v0.8h-0.8zM75.5 593.2h0.8v0.8h-0.8zM85.7 592.2h0.8v0.8h-0.8zM77.1 588.2h0.8v0.8h-0.8zM75.2 591.8h0.8v0.8h-0.8zM73.7 590.9h0.8v0.8h-0.8zM82.3 594.7h0.8v0.8h-0.8zM78.8 588.1h0.8v0.8h-0.8zM82.3 593.9h0.8v0.8h-0.8zM80.0 592.4h0.8v0.8h-0.8zM94.0 587.6h0.8v0.8h-0.8zM78.3 594.5h0.8v0.8h-0.8zM67.9 594.0h0.8v0.8h-0.8zM82.1 586.6h0.8v0.8h-0.8zM81.3 597.6h0.8v0.8h-0.8zM82.4 587.2h0.8v0.8h-0.8zM70.3 587.9h0.8v0.8h-0.8zM89.0 589.9h0.8v0.8h-0.8zM81.1 593.6h0.8v0.8h-0.8zM81.0 592.9h0.8v0.8h-0.8zM70.5 590.7h0.8v0.8h-0.8zM84.5 595.6h0.8v0.8h-0.8zM80.9 592.4h0.8v0.8h-0.8zM90.5 595.7h0.8v0.8h-0.8zM78.5 600.4h0.8v0.8h-0.8zM72.9 591.6h0.8v0.8h-0.8zM82.2 582.4h0.8v0.8h-0.8zM75.1 589.5h0.8v0.8h-0.8zM84.1 587.4h0.8v0.8h-0.8zM73.9 591.3h0.8v0.8h-0.8zM80.4 591.3h0.8v0.8h-0.8zM79.8 586.9h0.8v0.8h-0.8zM81.1 587.1h0.8v0.8h-0.8zM77.8 590.1h0.8v0.8h-0.8zM75.8 590.3h0.8v0.8h-0.8zM80.9 582.2h0.8v0.8h-0.8zM77.4 594.3h0.8v0.8h-0.8zM82.4 591.1h0.8v0.8h-0.8zM79.5 591.0h0.8v0.8h-0.8zM66.0 592.0h0.8v0.8h-0.8zM80.9 587.5h0.8v0.8h-0.8zM90.8 590.8h0.8v0.8h-0.8zM83.4 594.5h0.8v0.8h-0.8zM85.4 594.6h0.8v0.8h-0.8zM84.4 592.6h0.8v0.8h-0.8zM78.1 590.1h0.8v0.8h-0.8zM72.3 588.2h0.8v0.8h-0.8zM86.8 595.5h0.8v0.8h-0.8zM88.5 592.8h0.8v0.8h-0.8zM85.2 589.6h0.8v0.8h-0.8zM84.2 583.6h0.8v0.8h-0.8zM84.0 588.1h0.8v0.8h-0.8zM81.1 584.5h0.8v0.8h-0.8zM83.2 595.2h0.8v0.8h-0.8zM81.4 591.6h0.8v0.8h-0.8zM83.5 588.5h0.8v0.8h-0.8zM74.9 590.1h0.8v0.8h-0.8zM77.1 599.8h0.8v0.8h-0.8zM85.2 595.1h0.8v0.8h-0.8zM79.0 586.4h0.8v0.8h-0.8zM65.0 590.6h0.8v0.8h-0.8zM82.2 586.8h0.8v0.8h-0.8zM65.9 585.1h0.8v0.8h-0.8zM94.2 591.6h0.8v0.8h-0.8zM86.2 599.3h0.8v0.8h-0.8zM85.9 596.3h0.8v0.8h-0.8zM76.8 591.1h0.8v0.8h-0.8zM73.7 589.7h0.8v0.8h-0.8zM79.9 591.7h0.8v0.8h-0.8zM81.5 594.5h0.8v0.8h-0.8zM76.1 586.0h0.8v0.8h-0.8zM82.4 584.6h0.8v0.8h-0.8zM86.0 597.5h0.8v0.8h-0.8zM85.4 592.0h0.8v0.8h-0.8zM74.3 596.5h0.8v0.8h-0.8zM66.8 591.8h0.8v0.8h-0.8zM81.4 596.1h0.8v0.8h-0.8zM76.9 588.9h0.8v0.8h-0.8zM84.4 592.7h0.8v0.8h-0.8zM92.4 596.3h0.8v0.8h-0.8zM92.4 594.5h0.8v0.8h-0.8zM83.3 589.4h0.8v0.8h-0.8zM88.8 594.1h0.8v0.8h-0.8zM92.4 588.7h0.8v0.8h-0.8zM81.7 586.1h0.8v0.8h-0.8zM83.2 592.8h0.8v0.8h-0.8zM87.1 595.8h0.8v0.8h-0.8zM81.1 593.9h0.8v0.8h-0.8zM78.0 586.7h0.8v0.8h-0.8zM76.4 594.0h0.8v0.8h-0.8zM81.4 593.3h0.8v0.8h-0.8zM77.2 589.4h0.8v0.8h-0.8zM86.7 582.4h0.8v0.8h-0.8zM79.2 594.5h0.8v0.8h-0.8zM91.2 594.1h0.8v0.8h-0.8zM89.5 592.7h0.8v0.8h-0.8zM73.1 585.0h0.8v0.8h-0.8zM88.7 585.8h0.8v0.8h-0.8zM78.7 594.5h0.8v0.8h-0.8zM90.6 593.8h0.8v0.8h-0.8zM84.9 592.7h0.8v0.8h-0.8zM81.1 590.1h0.8v0.8h-0.8zM85.9 592.4h0.8v0.8h-0.8zM77.7 589.1h0.8v0.8h-0.8zM83.7 589.9h0.8v0.8h-0.8zM84.0 588.0h0.8v0.8h-0.8zM80.5 591.9h0.8v0.8h-0.8zM84.1 589.5h0.8v0.8h-0.8zM74.8 594.3h0.8v0.8h-0.8zM85.2 593.5h0.8v0.8h-0.8zM73.4 588.2h0.8v0.8h-0.8zM85.6 597.4h0.8v0.8h-0.8zM84.6 587.1h0.8v0.8h-0.8zM86.2 592.6h0.8v0.8h-0.8zM77.8 594.8h0.8v0.8h-0.8zM101.8 595.5h0.8v0.8h-0.8zM80.0 583.3h0.8v0.8h-0.8zM82.5 594.5h0.8v0.8h-0.8zM76.5 595.3h0.8v0.8h-0.8zM91.1 596.0h0.8v0.8h-0.8zM78.4 583.2h0.8v0.8h-0.8zM88.2 588.6h0.8v0.8h-0.8zM75.3 590.7h0.8v0.8h-0.8zM83.6 589.4h0.8v0.8h-0.8zM79.1 595.7h0.8v0.8h-0.8zM87.8 588.6h0.8v0.8h-0.8zM79.6 595.3h0.8v0.8h-0.8zM75.8 593.0h0.8v0.8h-0.8zM84.6 585.9h0.8v0.8h-0.8zM73.7 587.5h0.8v0.8h-0.8zM75.2 589.4h0.8v0.8h-0.8zM86.7 591.3h0.8v0.8h-0.8zM69.2 594.5h0.8v0.8h-0.8zM86.7 590.4h0.8v0.8h-0.8zM79.0 594.2h0.8v0.8h-0.8zM75.5 585.5h0.8v0.8h-0.8zM83.3 580.3h0.8v0.8h-0.8zM85.8 589.8h0.8v0.8h-0.8zM77.8 592.6h0.8v0.8h-0.8zM80.5 589.7h0.8v0.8h-0.8zM87.0 587.5h0.8v0.8h-0.8zM86.7 592.5h0.8v0.8h-0.8zM81.3 597.8h0.8v0.8h-0.8zM76.6 590.6h0.8v0.8h-0.8zM75.4 588.5h0.8v0.8h-0.8zM77.7 588.0h0.8v0.8h-0.8zM86.2 597.9h0.8v0.8h-0.8zM85.5 590.9h0.8v0.8h-0.8zM83.7 593.1h0.8v0.8h-0.8zM90.9 595.3h0.8v0.8h-0.8zM79.7 594.8h0.8v0.8h-0.8zM79.2 587.8h0.8v0.8h-0.8zM79.2 594.3h0.8v0.8h-0.8zM94.4 594.0h0.8v0.8h-0.8zM68.1 592.7h0.8v0.8h-0.8zM83.7 594.5h0.8v0.8h-0.8zM84.7 589.0h0.8v0.8h-0.8zM82.2 590.7h0.8v0.8h-0.8zM97.2 589.2h0.8v0.8h-0.8zM89.5 593.7h0.8v0.8h-0.8zM86.9 588.7h0.8v0.8h-0.8zM75.8 592.4h0.8v0.8h-0.8zM85.1 587.2h0.8v0.8h-0.8zM79.3 590.6h0.8v0.8h-0.8zM82.1 589.7h0.8v0.8h-0.8zM83.1 590.6h0.8v0.8h-0.8zM78.6 591.5h0.8v0.8h-0.8zM86.0 590.4h0.8v0.8h-0.8zM92.6 590.2h0.8v0.8h-0.8zM88.7 583.8h0.8v0.8h-0.8zM83.3 594.9h0.8v0.8h-0.8zM69.1 588.8h0.8v0.8h-0.8zM89.0 590.1h0.8v0.8h-0.8zM89.0 588.1h0.8v0.8h-0.8zM80.6 594.5h0.8v0.8h-0.8zM78.7 587.8h0.8v0.8h-0.8zM86.2 592.8h0.8v0.8h-0.8zM76.5 595.1h0.8v0.8h-0.8zM87.1 596.8h0.8v0.8h-0.8zM74.8 595.2h0.8v0.8h-0.8zM75.8 593.2h0.8v0.8h-0.8zM82.0 586.8h0.8v0.8h-0.8zM72.3 595.5h0.8v0.8h-0.8zM81.9 595.2h0.8v0.8h-0.8zM85.4 593.9h0.8v0.8h-0.8zM73.2 593.8h0.8v0.8h-0.8zM88.0 591.3h0.8v0.8h-0.8zM78.2 589.2h0.8v0.8h-0.8zM85.5 594.8h0.8v0.8h-0.8zM83.3 595.5h0.8v0.8h-0.8zM78.9 587.4h0.8v0.8h-0.8zM78.5 594.2h0.8v0.8h-0.8zM70.7 591.9h0.8v0.8h-0.8zM77.3 594.1h0.8v0.8h-0.8zM76.9 592.0h0.8v0.8h-0.8zM92.7 594.9h0.8v0.8h-0.8zM88.6 594.6h0.8v0.8h-0.8zM72.9 594.1h0.8v0.8h-0.8zM87.2 586.2h0.8v0.8h-0.8zM83.4 593.9h0.8v0.8h-0.8zM79.4 591.2h0.8v0.8h-0.8zM85.0 587.1h0.8v0.8h-0.8zM87.1 593.5h0.8v0.8h-0.8zM78.2 586.3h0.8v0.8h-0.8zM80.1 594.2h0.8v0.8h-0.8zM83.0 597.0h0.8v0.8h-0.8zM75.5 589.3h0.8v0.8h-0.8zM83.2 594.3h0.8v0.8h-0.8zM81.4 592.6h0.8v0.8h-0.8zM77.5 593.3h0.8v0.8h-0.8zM76.4 586.4h0.8v0.8h-0.8zM84.0 593.2h0.8v0.8h-0.8zM87.7 591.5h0.8v0.8h-0.8zM84.1 593.6h0.8v0.8h-0.8zM76.4 591.1h0.8v0.8h-0.8zM86.9 594.9h0.8v0.8h-0.8zM83.1 592.0h0.8v0.8h-0.8zM85.9 593.4h0.8v0.8h-0.8zM89.6 595.8h0.8v0.8h-0.8zM76.1 591.7h0.8v0.8h-0.8zM81.1 594.5h0.8v0.8h-0.8zM78.1 591.9h0.8v0.8h-0.8zM76.2 592.9h0.8v0.8h-0.8zM95.1 589.3h0.8v0.8h-0.8zM88.1 593.8h0.8v0.8h-0.8zM70.4 595.3h0.8v0.8h-0.8zM84.8 590.8h0.8v0.8h-0.8zM78.3 593.8h0.8v0.8h-0.8zM89.5 592.6h0.8v0.8h-0.8zM82.5 587.3h0.8v0.8h-0.8zM80.8 592.3h0.8v0.8h-0.8zM82.9 595.7h0.8v0.8h-0.8zM84.5 589.4h0.8v0.8h-0.8zM82.2 585.0h0.8v0.8h-0.8zM80.5 591.8h0.8v0.8h-0.8zM81.1 588.9h0.8v0.8h-0.8zM85.3 597.7h0.8v0.8h-0.8zM74.6 591.0h0.8v0.8h-0.8z" fill="#666"/>
</g>
<g clip-path="url(#c6)">
<path d="M209.2 573.8h0.8v0.8h-0.8zM205.5 571.4h0.8v0.8h-0.8zM210.7 568.5h0.8v0.8h-0.8zM205.9 569.7h0.8v0.8h-0.8zM203.9 570.3h0.8v0.8h-0.8zM208.8 571.5h0.8v0.8h-0.8zM204.4 572.6h0.8v0.8h-0.8zM217.0 571.3h0.8v0.8h-0.8zM202.3 568.7h0.8v0.8h-0.8zM208.8 577.7h0.8v0.8h-0.8zM205.1 575.6h0.8v0.8h-0.8zM201.1 572.6h0.8v0.8h-0.8zM219.0 575.8h0.8v0.8h-0.8zM196.8 573.4h0.8v0.8h-0.8zM217.8 571.1h0.8v0.8h-0.8zM200.9 572.5h0.8v0.8h-0.8zM209.7 582.5h0.8v0.8h-0.8zM222.5 576.0h0.8v0.8h-0.8zM196.7 576.2h0.8v0.8h-0.8zM201.1 570.6h0.8v0.8h-0.8zM216.9 574.5h0.8v0.8h-0.8zM210.2 580.9h0.8v0.8h-0.8zM206.0 573.8h0.8v0.8h-0.8zM209.0 576.3h0.8v0.8h-0.8zM203.5 577.0h0.8v0.8h-0.8zM209.9 574.6h0.8v0.8h-0.8zM218.0 578.2h0.8v0.8h-0.8zM207.0 573.0h0.8v0.8h-0.8zM210.0 574.0h0.8v0.8h-0.8zM216.3 569.7h0.8v0.8h-0.8zM220.9 582.4h0.8v0.8h-0.8zM205.8 573.3h0.8v0.8h-0.8zM211.0 572.5h0.8v0.8h-0.8zM205.9 577.5h0.8v0.8h-0.8zM205.4 570.2h0.8v0.8h-0.8zM206.9 572.1h0.8v0.8h-0.8zM205.5 569.1h0.8v0.8h-0.8zM199.0 572.2h0.8v0.8h-0.8zM197.5 570.6h0.8v0.8h-0.8zM204.9 574.2h0.8v0.8h-0.8zM210.0 571.6h0.8v0.8h-0.8zM216.4 569.8h0.8v0.8h-0.8zM206.1 571.0h0.8v0.8h-0.8zM208.2 571.7h0.8v0.8h-0.8zM213.1 570.1h0.8v0.8h-0.8zM213.6 575.7h0.8v0.8h-0.8zM208.5 574.7h0.8v0.8h-0.8zM208.9 572.7h0.8v0.8h-0.8zM220.2 567.5h0.8v0.8h-0.8zM207.2 574.1h0.8v0.8h-0.8zM206.3 567.2h0.8v0.8h-0.8zM199.7 572.8h0.8v0.8h-0.8zM211.8 572.3h0.8v0.8h-0.8zM207.7 569.8h0.8v0.8h-0.8zM220.4 568.9h0.8v0.8h-0.8zM207.2 569.4h0.8v0.8h-0.8zM214.0 580.1h0.8v0.8h-0.8zM214.7 571.1h0.8v0.8h-0.8zM218.9 571.3h0.8v0.8h-0.8zM201.5 575.8h0.8v0.8h-0.8zM218.4 573.7h0.8v0.8h-0.8zM209.3 576.2h0.8v0.8h-0.8zM208.6 567.4h0.8v0.8h-0.8zM207.4 567.9h0.8v0.8h-0.8zM206.9 585.0h0.8v0.8h-0.8zM207.2 571.9h0.8v0.8h-0.8zM195.5 571.0h0.8v0.8h-0.8zM212.2 572.7h0.8v0.8h-0.8zM209.6 575.9h0.8v0.8h-0.8zM203.6 567.5h0.8v0.8h-0.8zM208.8 573.2h0.8v0.8h-0.8zM222.7 572.0h0.8v0.8h-0.8zM211.4 574.7h0.8v0.8h-0.8zM206.9 572.8h0.8v0.8h-0.8zM219.2 570.1h0.8v0.8h-0.8zM204.5 568.8h0.8v0.8h-0.8zM208.3 562.7h0.8v0.8h-0.8zM206.0 575.9h0.8v0.8h-0.8zM207.8 566.4h0.8v0.8h-0.8zM213.5 570.6h0.8v0.8h-0.8zM212.6 578.5h0.8v0.8h-0.8zM204.9 570.5h0.8v0.8h-0.8zM208.4 574.5h0.8v0.8h-0.8zM209.7 571.3h0.8v0.8h-0.8zM206.8 574.8h0.8v0.8h-0.8zM209.0 572.2h0.8v0.8h-0.8zM205.0 570.1h0.8v0.8h-0.8zM204.9 577.3h0.8v0.8h-0.8zM209.5 571.1h0.8v0.8h-0.8zM203.2 566.9h0.8v0.8h-0.8z" fill="#aaa"/>
<path d="M210.1 575.1h0.8v0.8h-0.8zM212.6 574.0h0.8v0.8h-0.8zM207.9 575.5h0.8v0.8h-0.8zM213.3 575.6h0.8v0.8h-0.8zM213.3 569.9h0.8v0.8h-0.8zM217.2 573.2h0.8v0.8h-0.8zM209.2 575.6h0.8v0.8h-0.8zM213.0 577.5h0.8v0.8h-0.8zM206.3 568.7h0.8v0.8h-0.8zM209.9 568.7h0.8v0.8h-0.8zM211.4 573.2h0.8v0.8h-0.8zM212.3 571.3h0.8v0.8h-0.8zM210.9 569.7h0.8v0.8h-0.8zM210.8 573.0h0.8v0.8h-0.8zM209.3 570.2h0.8v0.8h-0.8zM209.8 566.6h0.8v0.8h-0.8zM212.0 572.0h0.8v0.8h-0.8zM212.7 572.4h0.8v0.8h-0.8zM212.9 573.6h0.8v0.8h-0.8zM213.9 574.3h0.8v0.8h-0.8zM214.5 572.5h0.8v0.8h-0.8zM205.9 571.5h0.8v0.8h-0.8zM209.6 570.5h0.8v0.8h-0.8zM210.6 568.1h0.8v0.8h-0.8zM209.2 571.0h0.8v0.8h-0.8zM214.1 574.4h0.8v0.8h-0.8zM213.2 573.6h0.8v0.8h-0.8zM210.8 577.0h0.8v0.8h-0.8zM211.4 571.7h0.8v0.8h-0.8zM214.7 567.8h0.8v0.8h-0.8zM210.1 574.0h0.8v0.8h-0.8zM210.2 574.5h0.8v0.8h-0.8zM213.7 569.3h0.8v0.8h-0.8zM212.4 568.2h0.8v0.8h-0.8zM215.2 572.4h0.8v0.8h-0.8zM212.1 573.8h0.8v0.8h-0.8zM213.2 569.4h0.8v0.8h-0.8zM209.5 571.2h0.8v0.8h-0.8zM208.4 570.2h0.8v0.8h-0.8zM211.1 569.2h0.8v0.8h-0.8zM203.4 568.9h0.8v0.8h-0.8zM212.3 572.4h0.8v0.8h-0.8zM213.9 571.2h0.8v0.8h-0.8zM211.3 570.4h0.8v0.8h-0.8zM210.4 565.8h0.8v0.8h-0.8zM214.2 576.2h0.8v0.8h-0.8zM211.0 569.8h0.8v0.8h-0.8zM213.9 571.7h0.8v0.8h-0.8zM217.4 569.3h0.8v0.8h-0.8zM213.2 572.9h0.8v0.8h-0.8zM213.8 568.4h0.8v0.8h-0.8zM212.5 572.3h0.8v0.8h-0.8zM211.8 571.6h0.8v0.8h-0.8zM211.9 574.2h0.8v0.8h-0.8zM211.3 569.4h0.8v0.8h-0.8zM214.2 570.5h0.8v0.8h-0.8zM206.4 571.5h0.8v0.8h-0.8zM210.3 577.0h0.8v0.8h-0.8zM213.0 568.5h0.8v0.8h-0.8zM208.7 572.7h0.8v0.8h-0.8zM210.8 570.5h0.8v0.8h-0.8zM209.1 572.8h0.8v0.8h-0.8zM212.3 573.6h0.8v0.8h-0.8zM213.6 572.4h0.8v0.8h-0.8zM215.3 572.7h0.8v0.8h-0.8zM212.5 572.7h0.8v0.8h-0.8zM209.0 570.6h0.8v0.8h-0.8zM211.8 571.5h0.8v0.8h-0.8zM212.7 568.1h0.8v0.8h-0.8zM215.1 571.2h0.8v0.8h-0.8zM204.9 570.2h0.8v0.8h-0.8zM212.1 571.4h0.8v0.8h-0.8zM205.8 573.8h0.8v0.8h-0.8zM213.1 572.9h0.8v0.8h-0.8zM212.4 573.1h0.8v0.8h-0.8zM212.5 574.7h0.8v0.8h-0.8zM213.6 566.3h0.8v0.8h-0.8zM212.2 573.0h0.8v0.8h-0.8zM209.2 572.0h0.8v0.8h-0.8zM212.1 571.8h0.8v0.8h-0.8zM214.5 568.9h0.8v0.8h-0.8zM210.7 573.3h0.8v0.8h-0.8zM211.2 574.8h0.8v0.8h-0.8zM207.6 574.5h0.8v0.8h-0.8zM214.4 571.8h0.8v0.8h-0.8zM209.6 573.5h0.8v0.8h-0.8zM209.0 574.2h0.8v0.8h-0.8zM209.8 576.4h0.8v0.8h-0.8zM208.6 574.9h0.8v0.8h-0.8zM210.4 572.4h0.8v0.8h-0.8z" fill="#666"/>
<path d="M185.4 595.4h0.8v0.8h-0.8zM186.5 600.6h0.8v0.8h-0.8zM187.3 582.9h0.8v0.8h-0.8zM177.0 586.4h0.8v0.8h-0.8zM195.1 589.2h0.8v0.8h-0.8zM174.2 585.3h0.8v0.8h-0.8zM172.6 583.5h0.8v0.8h-0.8zM189.2 588.4h0.8v0.8h-0.8zM175.9 600.2h0.8v0.8h-0.8zM180.6 596.5h0.8v0.8h-0.8zM154.3 592.0h0.8v0.8h-0.8zM195.4 592.0h0.8v0.8h-0.8zM184.0 581.0h0.8v0.8h-0.8zM182.2 596.3h0.8v0.8h-0.8zM190.7 594.6h0.8v0.8h-0.8zM187.1 584.8h0.8v0.8h-0.8zM174.0 593.1h0.8v0.8h-0.8zM212.8 590.5h0.8v0.8h-0.8zM177.6 588.4h0.8v0.8h-0.8zM198.0 585.4h0.8v0.8h-0.8zM210.2 587.4h0.8v0.8h-0.8zM175.2 585.7h0.8v0.8h-0.8zM185.4 594.8h0.8v0.8h-0.8zM172.3 594.2h0.8v0.8h-0.8zM199.1 593.9h0.8v0.8h-0.8zM179.3 590.6h0.8v0.8h-0.8zM168.3 589.1h0.8v0.8h-0.8zM202.9 605.1h0.8v0.8h-0.8zM197.2 579.7h0.8v0.8h-0.8zM171.3 599.6h0.8v0.8h-0.8zM201.0 594.1h0.8v0.8h-0.8zM186.8 592.3h0.8v0.8h-0.8zM222.9 588.5h0.8v0.8h-0.8zM208.6 590.4h0.8v0.8h-0.8zM176.1 584.1h0.8v0.8h-0.8zM180.2 582.8h0.8v0.8h-0.8zM171.5 591.1h0.8v0.8h-0.8zM185.9 581.0h0.8v0.8h-0.8zM184.7 597.3h0.8v0.8h-0.8zM194.6 599.1h0.8v0.8h-0.8zM185.3 569.4h0.8v0.8h-0.8zM163.0 581.7h0.8v0.8h-0.8zM172.4 593.6h0.8v0.8h-0.8zM204.3 593.2h0.8v0.8h-0.8zM200.6 592.5h0.8v0.8h-0.8zM181.7 594.6h0.8v0.8h-0.8zM182.1 596.7h0.8v0.8h-0.8zM181.6 597.4h0.8v0.8h-0.8zM184.3 603.5h0.8v0.8h-0.8zM160.0 592.0h0.8v0.8h-0.8zM196.8 597.4h0.8v0.8h-0.8zM174.6 581.3h0.8v0.8h-0.8zM186.1 591.0h0.8v0.8h-0.8zM147.8 583.9h0.8v0.8h-0.8zM187.4 600.9h0.8v0.8h-0.8zM203.2 607.0h0.8v0.8h-0.8zM152.0 595.3h0.8v0.8h-0.8zM205.8 583.4h0.8v0.8h-0.8zM190.8 591.1h0.8v0.8h-0.8zM173.5 592.0h0.8v0.8h-0.8zM161.3 593.1h0.8v0.8h-0.8zM200.7 598.9h0.8v0.8h-0.8zM187.7 598.0h0.8v0.8h-0.8zM192.5 574.6h0.8v0.8h-0.8zM180.1 600.7h0.8v0.8h-0.8zM172.6 588.6h0.8v0.8h-0.8zM196.5 588.2h0.8v0.8h-0.8zM170.3 601.0h0.8v0.8h-0.8zM196.9 590.1h0.8v0.8h-0.8zM160.1 582.9h0.8v0.8h-0.8zM170.7 583.2h0.8v0.8h-0.8zM163.2 592.2h0.8v0.8h-0.8zM202.8 597.7h0.8v0.8h-0.8zM158.9 601.6h0.8v0.8h-0.8zM167.7 590.7h0.8v0.8h-0.8zM193.5 588.8h0.8v0.8h-0.8zM187.3 602.4h0.8v0.8h-0.8zM215.4 588.9h0.8v0.8h-0.8zM210.4 601.3h0.8v0.8h-0.8zM192.8 593.4h0.8v0.8h-0.8zM193.9 593.4h0.8v0.8h-0.8zM157.8 590.3h0.8v0.8h-0.8zM171.4 593.8h0.8v0.8h-0.8zM179.3 588.8h0.8v0.8h-0.8zM181.5 587.4h0.8v0.8h-0.8zM164.3 591.0h0.8v0.8h-0.8zM170.6 587.6h0.8v0.8h-0.8zM171.8 593.8h0.8v0.8h-0.8zM199.2 592.4h0.8v0.8h-0.8zM190.1 590.1h0.8v0.8h-0.8zM179.2 590.6h0.8v0.8h-0.8zM180.0 590.4h0.8v0.8h-0.8zM188.2 603.2h0.8v0.8h-0.8zM174.0 591.8h0.8v0.8h-0.8zM180.2 588.0h0.8v0.8h-0.8zM159.3 589.9h0.8v0.8h-0.8zM193.6 596.2h0.8v0.8h-0.8zM197.8 590.5h0.8v0.8h-0.8zM189.2 590.9h0.8v0.8h-0.8zM190.8 590.2h0.8v0.8h-0.8zM189.2 592.9h0.8v0.8h-0.8zM213.3 594.4h0.8v0.8h-0.8zM186.9 594.7h0.8v0.8h-0.8zM165.0 581.2h0.8v0.8h-0.8zM168.9 584.9h0.8v0.8h-0.8zM194.2 574.8h0.8v0.8h-0.8zM199.3 597.1h0.8v0.8h-0.8zM195.1 599.0h0.8v0.8h-0.8zM196.0 600.3h0.8v0.8h-0.8zM186.7 592.8h0.8v0.8h-0.8zM162.6 599.3h0.8v0.8h-0.8zM173.8 591.6h0.8v0.8h-0.8zM158.0 591.1h0.8v0.8h-0.8zM178.4 581.8h0.8v0.8h-0.8zM164.4 586.8h0.8v0.8h-0.8zM185.4 588.0h0.8v0.8h-0.8zM181.5 597.8h0.8v0.8h-0.8zM156.0 602.6h0.8v0.8h-0.8zM194.5 588.8h0.8v0.8h-0.8zM194.9 594.3h0.8v0.8h-0.8zM164.0 593.6h0.8v0.8h-0.8zM186.0 586.8h0.8v0.8h-0.8zM194.3 580.7h0.8v0.8h-0.8zM179.8 587.0h0.8v0.8h-0.8zM196.2 582.5h0.8v0.8h-0.8zM186.6 589.8h0.8v0.8h-0.8zM199.4 590.9h0.8v0.8h-0.8zM186.6 590.7h0.8v0.8h-0.8zM181.5 590.7h0.8v0.8h-0.8zM191.3 595.0h0.8v0.8h-0.8zM195.2 585.8h0.8v0.8h-0.8zM187.5 597.6h0.8v0.8h-0.8zM177.4 581.0h0.8v0.8h-0.8zM172.5 592.2h0.8v0.8h-0.8zM178.5 594.4h0.8v0.8h-0.8zM175.6 586.7h0.8v0.8h-0.8zM186.8 581.5h0.8v0.8h-0.8zM186.3 596.0h0.8v0.8h-0.8zM182.6 587.5h0.8v0.8h-0.8zM183.8 596.9h0.8v0.8h-0.8zM186.3 596.8h0.8v0.8h-0.8zM206.4 591.8h0.8v0.8h-0.8zM201.2 591.8h0.8v0.8h-0.8zM175.5 598.2h0.8v0.8h-0.8zM189.9 594.3h0.8v0.8h-0.8zM179.1 585.8h0.8v0.8h-0.8zM182.4 592.9h0.8v0.8h-0.8zM180.3 595.4h0.8v0.8h-0.8zM174.8 593.1h0.8v0.8h-0.8zM164.1 593.1h0.8v0.8h-0.8zM148.2 590.9h0.8v0.8h-0.8zM186.7 591.1h0.8v0.8h-0.8zM200.9 585.8h0.8v0.8h-0.8zM170.7 582.6h0.8v0.8h-0.8zM191.1 599.1h0.8v0.8h-0.8zM178.2 587.7h0.8v0.8h-0.8zM187.8 593.3h0.8v0.8h-0.8zM172.1 582.1h0.8v0.8h-0.8zM180.4 592.8h0.8v0.8h-0.8zM182.1 586.5h0.8v0.8h-0.8zM149.4 611.0h0.8v0.8h-0.8zM186.9 585.2h0.8v0.8h-0.8zM181.7 585.6h0.8v0.8h-0.8zM147.8 597.9h0.8v0.8h-0.8zM193.1 599.2h0.8v0.8h-0.8zM183.2 578.2h0.8v0.8h-0.8zM186.7 593.5h0.8v0.8h-0.8zM188.9 597.5h0.8v0.8h-0.8zM177.7 583.9h0.8v0.8h-0.8zM168.1 596.2h0.8v0.8h-0.8zM177.2 588.4h0.8v0.8h-0.8zM177.5 585.4h0.8v0.8h-0.8zM215.8 589.5h0.8v0.8h-0.8zM210.4 588.8h0.8v0.8h-0.8zM176.6 582.8h0.8v0.8h-0.8zM177.7 606.3h0.8v0.8h-0.8zM188.3 588.9h0.8v0.8h-0.8zM191.8 587.0h0.8v0.8h-0.8zM173.6 597.3h0.8v0.8h-0.8zM169.1 591.3h0.8v0.8h-0.8zM211.7 600.4h0.8v0.8h-0.8zM199.0 590.1h0.8v0.8h-0.8zM161.1 594.1h0.8v0.8h-0.8zM158.0 592.4h0.8v0.8h-0.8zM171.6 592.9h0.8v0.8h-0.8zM186.8 590.5h0.8v0.8h-0.8zM191.6 591.1h0.8v0.8h-0.8zM178.7 602.6h0.8v0.8h-0.8zM160.1 587.4h0.8v0.8h-0.8zM186.8 588.3h0.8v0.8h-0.8zM192.3 589.6h0.8v0.8h-0.8zM183.6 595.5h0.8v0.8h-0.8zM176.4 594.4h0.8v0.8h-0.8zM191.9 597.8h0.8v0.8h-0.8zM182.8 583.2h0.8v0.8h-0.8zM167.3 593.5h0.8v0.8h-0.8zM184.9 590.7h0.8v0.8h-0.8zM164.7 590.0h0.8v0.8h-0.8zM197.6 592.9h0.8v0.8h-0.8zM190.4 579.1h0.8v0.8h-0.8zM169.0 593.6h0.8v0.8h-0.8zM186.6 592.7h0.8v0.8h-0.8zM201.8 582.6h0.8v0.8h-0.8zM152.3 591.2h0.8v0.8h-0.8zM181.5 601.8h0.8v0.8h-0.8zM207.6 589.3h0.8v0.8h-0.8zM160.9 595.6h0.8v0.8h-0.8zM181.1 590.4h0.8v0.8h-0.8zM162.8 586.6h0.8v0.8h-0.8zM182.6 585.9h0.8v0.8h-0.8zM148.5 589.3h0.8v0.8h-0.8zM159.8 600.2h0.8v0.8h-0.8zM175.7 597.1h0.8v0.8h-0.8zM185.6 587.3h0.8v0.8h-0.8zM189.1 598.2h0.8v0.8h-0.8zM189.8 591.0h0.8v0.8h-0.8zM200.4 587.4h0.8v0.8h-0.8zM193.8 594.6h0.8v0.8h-0.8zM194.4 585.9h0.8v0.8h-0.8zM169.2 581.7h0.8v0.8h-0.8zM181.3 600.1h0.8v0.8h-0.8zM230.2 580.1h0.8v0.8h-0.8zM216.8 595.3h0.8v0.8h-0.8zM195.7 582.0h0.8v0.8h-0.8zM194.4 591.6h0.8v0.8h-0.8zM198.1 590.5h0.8v0.8h-0.8zM177.6 589.0h0.8v0.8h-0.8zM212.3 577.8h0.8v0.8h-0.8zM178.0 591.1h0.8v0.8h-0.8zM182.3 591.6h0.8v0.8h-0.8zM215.5 586.0h0.8v0.8h-0.8zM153.0 591.4h0.8v0.8h-0.8zM188.9 598.2h0.8v0.8h-0.8zM158.2 587.2h0.8v0.8h-0.8zM173.9 593.5h0.8v0.8h-0.8zM182.2 584.4h0.8v0.8h-0.8zM178.4 594.3h0.8v0.8h-0.8zM186.1 595.9h0.8v0.8h-0.8zM172.2 607.8h0.8v0.8h-0.8zM182.0 597.6h0.8v0.8h-0.8zM166.1 594.6h0.8v0.8h-0.8zM177.8 600.9h0.8v0.8h-0.8zM163.1 585.4h0.8v0.8h-0.8zM193.2 598.7h0.8v0.8h-0.8zM164.4 588.3h0.8v0.8h-0.8zM193.8 587.9h0.8v0.8h-0.8zM177.4 598.9h0.8v0.8h-0.8zM179.1 593.3h0.8v0.8h-0.8zM201.0 600.3h0.8v0.8h-0.8zM185.2 582.6h0.8v0.8h-0.8zM155.5 593.6h0.8v0.8h-0.8zM190.9 588.5h0.8v0.8h-0.8zM140.7 590.1h0.8v0.8h-0.8zM187.5 579.6h0.8v0.8h-0.8zM177.6 597.9h0.8v0.8h-0.8zM162.8 593.2h0.8v0.8h-0.8zM184.7 585.5h0.8v0.8h-0.8zM179.0 583.2h0.8v0.8h-0.8zM213.3 586.3h0.8v0.8h-0.8zM177.1 600.8h0.8v0.8h-0.8zM212.3 591.2h0.8v0.8h-0.8zM204.1 589.7h0.8v0.8h-0.8zM174.5 595.0h0.8v0.8h-0.8zM171.4 592.0h0.8v0.8h-0.8zM203.1 593.4h0.8v0.8h-0.8zM181.5 596.6h0.8v0.8h-0.8zM185.9 594.0h0.8v0.8h-0.8zM179.8 597.5h0.8v0.8h-0.8zM165.6 584.3h0.8v0.8h-0.8zM178.0 592.3h0.8v0.8h-0.8zM169.3 589.6h0.8v0.8h-0.8zM160.8 592.6h0.8v0.8h-0.8zM179.2 591.7h0.8v0.8h-0.8zM210.1 587.9h0.8v0.8h-0.8zM207.6 589.7h0.8v0.8h-0.8zM182.6 598.0h0.8v0.8h-0.8zM185.6 588.4h0.8v0.8h-0.8zM191.2 584.0h0.8v0.8h-0.8zM203.8 595.7h0.8v0.8h-0.8zM188.3 598.1h0.8v0.8h-0.8zM176.4 590.2h0.8v0.8h-0.8zM177.7 592.8h0.8v0.8h-0.8zM200.4 586.6h0.8v0.8h-0.8zM222.3 590.7h0.8v0.8h-0.8zM174.2 599.0h0.8v0.8h-0.8zM153.0 597.1h0.8v0.8h-0.8zM195.6 592.9h0.8v0.8h-0.8zM182.4 590.2h0.8v0.8h-0.8zM185.6 581.6h0.8v0.8h-0.8zM202.0 594.0h0.8v0.8h-0.8zM184.6 594.9h0.8v0.8h-0.8zM163.8 598.7h0.8v0.8h-0.8zM154.3 604.8h0.8v0.8h-0.8zM182.9 594.4h0.8v0.8h-0.8zM166.3 598.1h0.8v0.8h-0.8zM187.9 584.9h0.8v0.8h-0.8zM164.5 599.7h0.8v0.8h-0.8zM178.3 597.5h0.8v0.8h-0.8zM161.6 600.7h0.8v0.8h-0.8zM178.1 596.3h0.8v0.8h-0.8zM176.9 594.9h0.8v0.8h-0.8zM192.5 601.4h0.8v0.8h-0.8zM203.6 587.8h0.8v0.8h-0.8zM180.8 596.1h0.8v0.8h-0.8zM170.7 598.9h0.8v0.8h-0.8zM212.8 587.0h0.8v0.8h-0.8zM189.0 584.7h0.8v0.8h-0.8zM192.7 594.8h0.8v0.8h-0.8zM192.7 592.8h0.8v0.8h-0.8zM205.3 595.9h0.8v0.8h-0.8zM198.7 596.1h0.8v0.8h-0.8zM193.7 587.2h0.8v0.8h-0.8zM195.1 594.2h0.8v0.8h-0.8zM170.8 599.2h0.8v0.8h-0.8zM174.5 589.8h0.8v0.8h-0.8zM182.0 590.2h0.8v0.8h-0.8zM185.0 584.9h0.8v0.8h-0.8zM183.9 597.2h0.8v0.8h-0.8zM188.2 604.4h0.8v0.8h-0.8zM184.0 583.4h0.8v0.8h-0.8zM177.2 596.9h0.8v0.8h-0.8zM159.3 597.8h0.8v0.8h-0.8zM196.1 588.5h0.8v0.8h-0.8zM192.4 589.7h0.8v0.8h-0.8zM170.5 585.5h0.8v0.8h-0.8zM191.1 587.1h0.8v0.8h-0.8zM189.5 593.1h0.8v0.8h-0.8zM184.7 596.2h0.8v0.8h-0.8zM156.1 592.8h0.8v0.8h-0.8zM165.6 597.5h0.8v0.8h-0.8zM174.6 593.4h0.8v0.8h-0.8zM207.8 584.7h0.8v0.8h-0.8zM170.8 601.3h0.8v0.8h-0.8zM178.4 599.6h0.8v0.8h-0.8zM167.0 587.6h0.8v0.8h-0.8zM176.2 603.3h0.8v0.8h-0.8zM188.7 595.1h0.8v0.8h-0.8zM152.6 593.0h0.8v0.8h-0.8zM141.1 604.3h0.8v0.8h-0.8zM193.5 576.3h0.8v0.8h-0.8zM184.1 582.0h0.8v0.8h-0.8zM174.6 596.6h0.8v0.8h-0.8zM198.1 590.6h0.8v0.8h-0.8zM198.1 586.1h0.8v0.8h-0.8zM152.2 601.7h0.8v0.8h-0.8zM181.1 595.2h0.8v0.8h-0.8zM200.2 584.1h0.8v0.8h-0.8zM173.6 588.0h0.8v0.8h-0.8zM178.9 597.5h0.8v0.8h-0.8zM197.9 603.5h0.8v0.8h-0.8zM179.6 579.5h0.8v0.8h-0.8zM165.7 593.7h0.8v0.8h-0.8zM173.3 589.7h0.8v0.8h-0.8zM163.7 581.1h0.8v0.8h-0.8zM191.9 591.1h0.8v0.8h-0.8zM157.8 582.0h0.8v0.8h-0.8zM198.6 588.8h0.8v0.8h-0.8zM159.0 602.4h0.8v0.8h-0.8zM184.3 595.4h0.8v0.8h-0.8zM161.6 597.1h0.8v0.8h-0.8zM178.9 596.0h0.8v0.8h-0.8zM198.9 594.4h0.8v0.8h-0.8zM200.4 598.4h0.8v0.8h-0.8zM203.2 584.8h0.8v0.8h-0.8zM182.3 589.9h0.8v0.8h-0.8zM185.2 597.6h0.8v0.8h-0.8zM187.1 587.6h0.8v0.8h-0.8zM192.8 589.4h0.8v0.8h-0.8zM177.6 599.9h0.8v0.8h-0.8zM200.1 601.9h0.8v0.8h-0.8zM188.5 588.4h0.8v0.8h-0.8zM200.8 587.0h0.8v0.8h-0.8zM190.8 595.9h0.8v0.8h-0.8zM193.8 593.9h0.8v0.8h-0.8zM172.7 588.0h0.8v0.8h-0.8zM177.4 596.0h0.8v0.8h-0.8zM164.2 595.8h0.8v0.8h-0.8zM179.2 592.8h0.8v0.8h-0.8zM181.0 610.9h0.8v0.8h-0.8zM196.1 600.9h0.8v0.8h-0.8zM164.7 597.4h0.8v0.8h-0.8zM232.1 598.7h0.8v0.8h-0.8zM181.8 611.0h0.8v0.8h-0.8zM202.5 599.2h0.8v0.8h-0.8zM199.2 587.7h0.8v0.8h-0.8zM145.8 594.3h0.8v0.8h-0.8zM179.7 592.7h0.8v0.8h-0.8zM205.7 588.7h0.8v0.8h-0.8zM147.2 593.9h0.8v0.8h-0.8zM195.1 593.9h0.8v0.8h-0.8zM169.9 591.9h0.8v0.8h-0.8zM176.6 589.2h0.8v0.8h-0.8zM187.0 597.5h0.8v0.8h-0.8zM155.6 582.1h0.8v0.8h-0.8zM186.5 597.5h0.8v0.8h-0.8zM173.9 592.3h0.8v0.8h-0.8zM172.4 594.0h0.8v0.8h-0.8zM194.1 577.2h0.8v0.8h-0.8zM236.2 602.9h0.8v0.8h-0.8zM188.7 581.3h0.8v0.8h-0.8zM191.9 586.8h0.8v0.8h-0.8zM182.8 596.4h0.8v0.8h-0.8zM172.7 588.4h0.8v0.8h-0.8zM187.5 589.7h0.8v0.8h-0.8zM206.4 578.1h0.8v0.8h-0.8zM186.4 589.5h0.8v0.8h-0.8zM196.9 593.6h0.8v0.8h-0.8zM180.2 596.6h0.8v0.8h-0.8zM221.4 590.5h0.8v0.8h-0.8zM158.8 593.7h0.8v0.8h-0.8zM192.3 595.1h0.8v0.8h-0.8zM191.7 588.0h0.8v0.8h-0.8zM187.5 587.5h0.8v0.8h-0.8zM166.8 604.8h0.8v0.8h-0.8zM166.5 586.9h0.8v0.8h-0.8zM180.0 600.1h0.8v0.8h-0.8zM185.0 592.7h0.8v0.8h-0.8zM165.3 601.7h0.8v0.8h-0.8zM167.5 588.2h0.8v0.8h-0.8zM191.9 595.6h0.8v0.8h-0.8zM199.0 594.4h0.8v0.8h-0.8zM175.1 590.8h0.8v0.8h-0.8zM173.0 594.3h0.8v0.8h-0.8zM172.6 587.4h0.8v0.8h-0.8zM220.7 591.8h0.8v0.8h-0.8zM190.8 589.7h0.8v0.8h-0.8zM182.5 597.1h0.8v0.8h-0.8zM198.6 591.7h0.8v0.8h-0.8zM217.9 583.4h0.8v0.8h-0.8zM201.0 589.9h0.8v0.8h-0.8zM162.0 591.7h0.8v0.8h-0.8zM182.2 586.5h0.8v0.8h-0.8zM177.4 600.8h0.8v0.8h-0.8zM178.3 594.9h0.8v0.8h-0.8zM165.2 597.7h0.8v0.8h-0.8zM177.6 587.4h0.8v0.8h-0.8zM167.2 589.8h0.8v0.8h-0.8zM188.5 598.7h0.8v0.8h-0.8zM184.1 583.2h0.8v0.8h-0.8zM162.2 594.6h0.8v0.8h-0.8zM157.8 592.9h0.8v0.8h-0.8zM176.2 589.1h0.8v0.8h-0.8zM193.2 592.9h0.8v0.8h-0.8zM190.9 585.4h0.8v0.8h-0.8zM182.4 593.7h0.8v0.8h-0.8zM133.8 584.5h0.8v0.8h-0.8zM176.0 584.2h0.8v0.8h-0.8zM172.3 601.2h0.8v0.8h-0.8zM178.4 587.8h0.8v0.8h-0.8zM165.1 578.8h0.8v0.8h-0.8zM176.9 598.5h0.8v0.8h-0.8zM173.4 587.4h0.8v0.8h-0.8zM224.2 569.8h0.8v0.8h-0.8zM194.0 591.9h0.8v0.8h-0.8zM180.5 598.2h0.8v0.8h-0.8zM182.7 594.5h0.8v0.8h-0.8zM181.6 603.3h0.8v0.8h-0.8zM186.2 591.5h0.8v0.8h-0.8zM177.3 596.1h0.8v0.8h-0.8zM183.1 585.9h0.8v0.8h-0.8zM198.8 593.3h0.8v0.8h-0.8zM195.9 602.1h0.8v0.8h-0.8zM188.0 595.5h0.8v0.8h-0.8zM203.4 593.3h0.8v0.8h-0.8zM186.8 579.7h0.8v0.8h-0.8zM168.6 589.9h0.8v0.8h-0.8zM157.1 584.1h0.8v0.8h-0.8zM172.9 597.3h0.8v0.8h-0.8zM182.5 587.6h0.8v0.8h-0.8zM189.4 594.6h0.8v0.8h-0.8zM199.6 585.9h0.8v0.8h-0.8zM174.8 604.4h0.8v0.8h-0.8zM171.3 584.8h0.8v0.8h-0.8zM195.0 593.2h0.8v0.8h-0.8zM201.1 609.1h0.8v0.8h-0.8zM176.2 593.7h0.8v0.8h-0.8zM188.5 586.7h0.8v0.8h-0.8zM204.1 596.2h0.8v0.8h-0.8zM188.2 598.6h0.8v0.8h-0.8zM182.6 597.9h0.8v0.8h-0.8zM152.1 579.7h0.8v0.8h-0.8zM203.3 593.7h0.8v0.8h-0.8zM193.1 578.7h0.8v0.8h-0.8zM185.3 604.5h0.8v0.8h-0.8zM176.4 592.8h0.8v0.8h-0.8zM164.6 589.4h0.8v0.8h-0.8zM181.9 596.6h0.8v0.8h-0.8zM181.8 595.4h0.8v0.8h-0.8zM199.9 584.7h0.8v0.8h-0.8zM165.2 602.7h0.8v0.8h-0.8zM205.1 590.8h0.8v0.8h-0.8zM183.9 581.0h0.8v0.8h-0.8zM201.3 601.3h0.8v0.8h-0.8zM168.8 602.1h0.8v0.8h-0.8zM188.6 600.4h0.8v0.8h-0.8zM201.8 595.8h0.8v0.8h-0.8zM185.1 586.6h0.8v0.8h-0.8zM161.3 598.3h0.8v0.8h-0.8zM178.4 604.3h0.8v0.8h-0.8zM191.4 597.5h0.8v0.8h-0.8zM162.4 602.6h0.8v0.8h-0.8zM161.7 587.3h0.8v0.8h-0.8zM186.9 598.9h0.8v0.8h-0.8zM169.1 598.3h0.8v0.8h-0.8zM193.6 582.7h0.8v0.8h-0.8zM165.7 581.9h0.8v0.8h-0.8zM155.8 587.7h0.8v0.8h-0.8zM171.7 592.9h0.8v0.8h-0.8zM205.8 595.2h0.8v0.8h-0.8zM170.4 590.9h0.8v0.8h-0.8zM183.3 591.9h0.8v0.8h-0.8zM187.1 591.6h0.8v0.8h-0.8zM169.1 592.9h0.8v0.8h-0.8zM199.8 596.1h0.8v0.8h-0.8zM186.1 595.5h0.8v0.8h-0.8zM190.1 592.0h0.8v0.8h-0.8zM158.1 594.0h0.8v0.8h-0.8zM157.1 589.4h0.8v0.8h-0.8zM142.0 597.5h0.8v0.8h-0.8zM180.6 589.1h0.8v0.8h-0.8zM180.0 602.9h0.8v0.8h-0.8zM194.3 592.2h0.8v0.8h-0.8zM205.7 594.1h0.8v0.8h-0.8zM179.6 587.4h0.8v0.8h-0.8zM179.4 590.1h0.8v0.8h-0.8zM190.2 593.4h0.8v0.8h-0.8zM206.4 592.5h0.8v0.8h-0.8zM171.1 588.3h0.8v0.8h-0.8zM192.8 584.9h0.8v0.8h-0.8zM179.7 592.6h0.8v0.8h-0.8zM178.4 593.3h0.8v0.8h-0.8zM195.7 595.9h0.8v0.8h-0.8zM171.6 600.4h0.8v0.8h-0.8zM167.4 590.3h0.8v0.8h-0.8zM193.4 579.5h0.8v0.8h-0.8zM183.1 591.4h0.8v0.8h-0.8zM179.5 580.4h0.8v0.8h-0.8zM181.4 584.0h0.8v0.8h-0.8zM190.9 599.0h0.8v0.8h-0.8zM177.9 596.0h0.8v0.8h-0.8zM194.9 588.2h0.8v0.8h-0.8zM189.7 588.2h0.8v0.8h-0.8zM205.7 591.8h0.8v0.8h-0.8zM202.5 581.0h0.8v0.8h-0.8zM196.3 595.5h0.8v0.8h-0.8zM180.4 590.1h0.8v0.8h-0.8zM185.2 604.2h0.8v0.8h-0.8zM174.6 585.5h0.8v0.8h-0.8zM226.3 598.8h0.8v0.8h-0.8zM180.1 588.0h0.8v0.8h-0.8z" fill="#aaa"/>
<path d="M196.6 597.5h0.8v0.8h-0.8zM180.7 588.3h0.8v0.8h-0.8zM194.3 596.1h0.8v0.8h-0.8zM184.9 591.3h0.8v0.8h-0.8zM181.9 585.2h0.8v0.8h-0.8zM187.2 592.9h0.8v0.8h-0.8zM192.2 590.2h0.8v0.8h-0.8zM191.7 597.6h0.8v0.8h-0.8zM201.0 589.1h0.8v0.8h-0.8zM195.0 591.2h0.8v0.8h-0.8zM167.5 591.9h0.8v0.8h-0.8zM185.3 583.6h0.8v0.8h-0.8zM172.6 593.0h0.8v0.8h-0.8zM185.4 587.1h0.8v0.8h-0.8zM193.4 596.5h0.8v0.8h-0.8zM177.8 597.5h0.8v0.8h-0.8zM179.0 591.0h0.8v0.8h-0.8zM189.6 584.8h0.8v0.8h-0.8zM186.2 591.7h0.8v0.8h-0.8zM201.1 591.7h0.8v0.8h-0.8zM191.0 593.8h0.8v0.8h-0.8zM192.7 589.8h0.8v0.8h-0.8zM202.4 586.4h0.8v0.8h-0.8zM184.5 590.4h0.8v0.8h-0.8zM188.4 587.4h0.8v0.8h-0.8zM180.5 597.9h0.8v0.8h-0.8zM190.5 588.2h0.8v0.8h-0.8zM196.7 588.5h0.8v0.8h-0.8zM199.4 590.8h0.8v0.8h-0.8zM188.2 586.2h0.8v0.8h-0.8zM182.8 589.3h0.8v0.8h-0.8zM182.4 590.5h0.8v0.8h-0.8zM177.3 589.1h0.8v0.8h-0.8zM189.4 590.0h0.8v0.8h-0.8zM199.3 595.8h0.8v0.8h-0.8zM169.6 592.7h0.8v0.8h-0.8zM171.1 585.8h0.8v0.8h-0.8zM199.7 589.3h0.8v0.8h-0.8zM175.6 593.9h0.8v0.8h-0.8zM191.1 588.5h0.8v0.8h-0.8zM178.4 591.3h0.8v0.8h-0.8zM194.7 590.9h0.8v0.8h-0.8zM194.7 593.1h0.8v0.8h-0.8zM189.8 590.3h0.8v0.8h-0.8zM195.1 590.4h0.8v0.8h-0.8zM188.9 587.7h0.8v0.8h-0.8zM193.0 592.4h0.8v0.8h-0.8zM203.1 587.4h0.8v0.8h-0.8zM197.3 597.8h0.8v0.8h-0.8zM183.2 590.9h0.8v0.8h-0.8zM182.1 590.1h0.8v0.8h-0.8zM186.6 594.1h0.8v0.8h-0.8zM186.7 590.7h0.8v0.8h-0.8zM189.1 591.3h0.8v0.8h-0.8zM183.7 590.8h0.8v0.8h-0.8zM193.7 588.2h0.8v0.8h-0.8zM188.8 587.4h0.8v0.8h-0.8zM191.4 588.3h0.8v0.8h-0.8zM188.6 595.4h0.8v0.8h-0.8zM193.4 588.6h0.8v0.8h-0.8zM179.0 589.4h0.8v0.8h-0.8zM201.2 589.3h0.8v0.8h-0.8zM191.3 593.7h0.8v0.8h-0.8zM192.1 598.7h0.8v0.8h-0.8zM193.4 587.4h0.8v0.8h-0.8zM197.2 593.1h0.8v0.8h-0.8zM194.4 591.5h0.8v0.8h-0.8zM190.5 589.8h0.8v0.8h-0.8zM187.1 593.0h0.8v0.8h-0.8zM175.4 586.1h0.8v0.8h-0.8zM190.3 594.2h0.8v0.8h-0.8zM186.1 591.9h0.8v0.8h-0.8zM186.1 587.1h0.8v0.8h-0.8zM207.8 597.2h0.8v0.8h-0.8zM173.7 594.3h0.8v0.8h-0.8zM189.0 595.5h0.8v0.8h-0.8zM198.3 585.3h0.8v0.8h-0.8zM196.3 589.9h0.8v0.8h-0.8zM198.5 589.0h0.8v0.8h-0.8zM178.5 593.4h0.8v0.8h-0.8zM180.9 596.3h0.8v0.8h-0.8zM193.6 583.6h0.8v0.8h-0.8zM186.2 591.1h0.8v0.8h-0.8zM202.3 590.5h0.8v0.8h-0.8zM190.4 594.9h0.8v0.8h-0.8zM190.2 590.8h0.8v0.8h-0.8zM192.2 586.1h0.8v0.8h-0.8zM186.5 590.2h0.8v0.8h-0.8zM189.6 587.0h0.8v0.8h-0.8zM183.2 588.0h0.8v0.8h-0.8zM188.3 591.2h0.8v0.8h-0.8zM184.8 589.1h0.8v0.8h-0.8zM190.7 592.1h0.8v0.8h-0.8zM177.3 585.1h0.8v0.8h-0.8zM176.7 600.0h0.8v0.8h-0.8zM192.3 595.9h0.8v0.8h-0.8zM190.5 593.8h0.8v0.8h-0.8zM181.0 586.0h0.8v0.8h-0.8zM186.9 582.6h0.8v0.8h-0.8zM180.3 587.6h0.8v0.8h-0.8zM205.0 590.1h0.8v0.8h-0.8zM176.2 599.7h0.8v0.8h-0.8zM202.4 596.1h0.8v0.8h-0.8zM182.1 589.0h0.8v0.8h-0.8zM192.1 595.7h0.8v0.8h-0.8zM186.6 595.8h0.8v0.8h-0.8zM185.6 591.1h0.8v0.8h-0.8zM196.2 595.7h0.8v0.8h-0.8zM195.2 592.3h0.8v0.8h-0.8zM186.4 588.5h0.8v0.8h-0.8zM181.4 586.4h0.8v0.8h-0.8zM205.3 590.5h0.8v0.8h-0.8zM199.9 594.9h0.8v0.8h-0.8zM189.8 585.7h0.8v0.8h-0.8zM186.3 584.7h0.8v0.8h-0.8zM191.0 593.1h0.8v0.8h-0.8zM189.4 580.4h0.8v0.8h-0.8zM198.3 598.1h0.8v0.8h-0.8zM181.0 589.3h0.8v0.8h-0.8zM188.9 593.8h0.8v0.8h-0.8zM182.4 598.2h0.8v0.8h-0.8zM199.2 585.4h0.8v0.8h-0.8zM203.1 586.9h0.8v0.8h-0.8zM188.0 599.7h0.8v0.8h-0.8zM193.0 589.9h0.8v0.8h-0.8zM200.0 590.5h0.8v0.8h-0.8zM186.3 591.9h0.8v0.8h-0.8zM181.2 595.1h0.8v0.8h-0.8zM197.0 596.2h0.8v0.8h-0.8zM192.8 591.4h0.8v0.8h-0.8zM187.1 589.7h0.8v0.8h-0.8zM200.4 590.9h0.8v0.8h-0.8zM190.6 592.2h0.8v0.8h-0.8zM174.5 596.1h0.8v0.8h-0.8zM191.5 591.5h0.8v0.8h-0.8zM188.3 598.1h0.8v0.8h-0.8zM203.8 587.7h0.8v0.8h-0.8zM188.6 593.1h0.8v0.8h-0.8zM187.1 597.8h0.8v0.8h-0.8zM192.2 596.0h0.8v0.8h-0.8zM190.7 592.3h0.8v0.8h-0.8zM177.5 587.6h0.8v0.8h-0.8zM189.7 588.2h0.8v0.8h-0.8zM186.1 590.4h0.8v0.8h-0.8zM200.0 592.2h0.8v0.8h-0.8zM207.9 590.0h0.8v0.8h-0.8zM179.8 585.3h0.8v0.8h-0.8zM181.0 588.1h0.8v0.8h-0.8zM182.0 593.0h0.8v0.8h-0.8zM183.5 594.2h0.8v0.8h-0.8zM183.2 585.6h0.8v0.8h-0.8zM189.2 589.6h0.8v0.8h-0.8zM197.5 584.5h0.8v0.8h-0.8zM178.3 588.8h0.8v0.8h-0.8zM176.4 604.8h0.8v0.8h-0.8zM174.0 591.2h0.8v0.8h-0.8zM197.6 589.7h0.8v0.8h-0.8zM199.4 588.7h0.8v0.8h-0.8zM176.5 586.3h0.8v0.8h-0.8zM175.7 583.8h0.8v0.8h-0.8zM189.8 590.8h0.8v0.8h-0.8zM197.5 589.9h0.8v0.8h-0.8zM196.9 596.7h0.8v0.8h-0.8zM190.3 584.6h0.8v0.8h-0.8zM194.2 592.7h0.8v0.8h-0.8zM191.4 596.2h0.8v0.8h-0.8zM184.3 583.4h0.8v0.8h-0.8zM204.0 593.6h0.8v0.8h-0.8zM188.7 584.7h0.8v0.8h-0.8zM179.9 593.0h0.8v0.8h-0.8zM185.0 596.7h0.8v0.8h-0.8zM176.4 591.0h0.8v0.8h-0.8zM188.9 592.1h0.8v0.8h-0.8zM197.5 588.3h0.8v0.8h-0.8zM178.6 592.1h0.8v0.8h-0.8zM197.8 595.4h0.8v0.8h-0.8zM205.5 590.3h0.8v0.8h-0.8zM191.8 590.5h0.8v0.8h-0.8zM179.5 592.5h0.8v0.8h-0.8zM181.9 594.2h0.8v0.8h-0.8zM186.1 584.6h0.8v0.8h-0.8zM178.5 591.2h0.8v0.8h-0.8zM178.8 588.3h0.8v0.8h-0.8zM186.7 592.9h0.8v0.8h-0.8zM187.3 595.0h0.8v0.8h-0.8zM193.6 592.2h0.8v0.8h-0.8zM179.2 596.0h0.8v0.8h-0.8zM203.7 587.2h0.8v0.8h-0.8zM197.3 589.4h0.8v0.8h-0.8zM195.9 587.2h0.8v0.8h-0.8zM183.5 591.2h0.8v0.8h-0.8zM202.7 591.4h0.8v0.8h-0.8zM186.0 590.2h0.8v0.8h-0.8zM203.3 586.3h0.8v0.8h-0.8zM197.3 590.7h0.8v0.8h-0.8zM181.6 589.3h0.8v0.8h-0.8zM185.1 593.4h0.8v0.8h-0.8zM203.7 590.0h0.8v0.8h-0.8zM196.8 595.5h0.8v0.8h-0.8zM187.5 591.9h0.8v0.8h-0.8zM190.4 583.8h0.8v0.8h-0.8zM190.4 590.3h0.8v0.8h-0.8zM182.6 585.4h0.8v0.8h-0.8zM187.2 594.8h0.8v0.8h-0.8zM183.5 596.6h0.8v0.8h-0.8zM185.3 590.9h0.8v0.8h-0.8zM192.5 592.7h0.8v0.8h-0.8zM181.1 585.4h0.8v0.8h-0.8zM194.6 582.3h0.8v0.8h-0.8zM189.6 588.8h0.8v0.8h-0.8zM194.9 590.0h0.8v0.8h-0.8zM195.9 585.1h0.8v0.8h-0.8zM198.7 591.4h0.8v0.8h-0.8zM193.8 592.2h0.8v0.8h-0.8zM194.4 593.5h0.8v0.8h-0.8zM187.3 597.0h0.8v0.8h-0.8zM193.3 594.2h0.8v0.8h-0.8zM181.5 589.6h0.8v0.8h-0.8zM186.8 591.4h0.8v0.8h-0.8zM194.8 593.3h0.8v0.8h-0.8zM188.3 586.9h0.8v0.8h-0.8zM192.3 596.2h0.8v0.8h-0.8zM180.3 594.5h0.8v0.8h-0.8zM199.7 590.1h0.8v0.8h-0.8zM184.1 588.5h0.8v0.8h-0.8zM191.9 605.8h0.8v0.8h-0.8zM188.6 594.3h0.8v0.8h-0.8zM196.2 594.7h0.8v0.8h-0.8zM185.7 598.0h0.8v0.8h-0.8zM180.7 594.8h0.8v0.8h-0.8zM173.5 591.8h0.8v0.8h-0.8zM186.3 593.7h0.8v0.8h-0.8zM179.2 587.5h0.8v0.8h-0.8zM193.0 593.8h0.8v0.8h-0.8zM200.3 585.0h0.8v0.8h-0.8zM170.9 592.7h0.8v0.8h-0.8zM178.4 593.2h0.8v0.8h-0.8zM191.2 585.0h0.8v0.8h-0.8zM198.7 598.5h0.8v0.8h-0.8zM191.2 586.5h0.8v0.8h-0.8zM191.4 595.1h0.8v0.8h-0.8zM192.8 589.0h0.8v0.8h-0.8zM193.4 592.2h0.8v0.8h-0.8zM201.9 588.5h0.8v0.8h-0.8zM193.7 600.7h0.8v0.8h-0.8zM178.8 595.0h0.8v0.8h-0.8zM185.0 598.1h0.8v0.8h-0.8zM190.4 594.1h0.8v0.8h-0.8zM182.2 593.8h0.8v0.8h-0.8zM186.7 591.6h0.8v0.8h-0.8zM184.5 590.1h0.8v0.8h-0.8zM183.1 593.4h0.8v0.8h-0.8zM194.3 591.7h0.8v0.8h-0.8zM185.6 590.5h0.8v0.8h-0.8zM180.0 585.7h0.8v0.8h-0.8zM183.0 589.9h0.8v0.8h-0.8zM189.1 593.4h0.8v0.8h-0.8zM205.7 589.2h0.8v0.8h-0.8zM190.8 592.4h0.8v0.8h-0.8zM200.7 590.5h0.8v0.8h-0.8zM192.7 587.1h0.8v0.8h-0.8zM171.5 587.6h0.8v0.8h-0.8zM191.8 588.2h0.8v0.8h-0.8zM181.9 590.0h0.8v0.8h-0.8zM177.9 590.1h0.8v0.8h-0.8zM180.1 595.4h0.8v0.8h-0.8zM203.1 586.9h0.8v0.8h-0.8zM176.1 583.1h0.8v0.8h-0.8zM183.8 593.8h0.8v0.8h-0.8zM198.1 589.3h0.8v0.8h-0.8zM194.1 590.6h0.8v0.8h-0.8zM175.0 601.0h0.8v0.8h-0.8zM187.9 596.8h0.8v0.8h-0.8zM184.6 593.4h0.8v0.8h-0.8zM187.2 594.8h0.8v0.8h-0.8zM194.8 591.6h0.8v0.8h-0.8zM184.1 594.8h0.8v0.8h-0.8zM186.2 588.7h0.8v0.8h-0.8zM200.5 588.3h0.8v0.8h-0.8zM173.9 589.3h0.8v0.8h-0.8zM185.7 597.3h0.8v0.8h-0.8zM192.5 597.2h0.8v0.8h-0.8zM178.7 588.7h0.8v0.8h-0.8zM183.7 595.6h0.8v0.8h-0.8zM178.2 590.5h0.8v0.8h-0.8zM190.0 595.3h0.8v0.8h-0.8zM183.7 589.9h0.8v0.8h-0.8zM195.1 594.8h0.8v0.8h-0.8zM197.0 590.7h0.8v0.8h-0.8zM189.1 590.0h0.8v0.8h-0.8zM185.7 591.0h0.8v0.8h-0.8zM190.8 591.7h0.8v0.8h-0.8zM189.2 588.9h0.8v0.8h-0.8zM178.9 585.8h0.8v0.8h-0.8zM197.4 597.7h0.8v0.8h-0.8zM190.5 589.6h0.8v0.8h-0.8zM195.1 584.0h0.8v0.8h-0.8zM177.8 582.3h0.8v0.8h-0.8zM195.8 580.2h0.8v0.8h-0.8zM205.7 588.7h0.8v0.8h-0.8zM193.7 596.4h0.8v0.8h-0.8zM177.0 584.8h0.8v0.8h-0.8zM189.0 589.9h0.8v0.8h-0.8zM188.2 584.0h0.8v0.8h-0.8zM190.5 595.4h0.8v0.8h-0.8zM186.8 592.6h0.8v0.8h-0.8zM192.7 592.4h0.8v0.8h-0.8zM185.0 596.4h0.8v0.8h-0.8zM190.6 597.6h0.8v0.8h-0.8zM183.2 595.2h0.8v0.8h-0.8zM189.5 588.9h0.8v0.8h-0.8zM196.7 586.0h0.8v0.8h-0.8zM184.8 587.1h0.8v0.8h-0.8zM194.1 584.3h0.8v0.8h-0.8zM181.5 598.2h0.8v0.8h-0.8zM185.7 590.4h0.8v0.8h-0.8zM186.8 591.7h0.8v0.8h-0.8zM198.8 591.9h0.8v0.8h-0.8zM182.5 599.0h0.8v0.8h-0.8zM198.5 589.0h0.8v0.8h-0.8zM176.9 595.8h0.8v0.8h-0.8zM187.4 592.3h0.8v0.8h-0.8zM196.1 590.6h0.8v0.8h-0.8zM194.3 583.7h0.8v0.8h-0.8zM180.5 594.7h0.8v0.8h-0.8zM178.8 588.2h0.8v0.8h-0.8zM195.8 589.4h0.8v0.8h-0.8zM178.5 592.0h0.8v0.8h-0.8zM193.4 591.5h0.8v0.8h-0.8zM184.5 595.6h0.8v0.8h-0.8zM188.6 588.5h0.8v0.8h-0.8zM207.4 591.8h0.8v0.8h-0.8zM201.2 592.2h0.8v0.8h-0.8zM195.5 591.3h0.8v0.8h-0.8zM177.6 593.8h0.8v0.8h-0.8zM191.3 590.2h0.8v0.8h-0.8zM189.1 595.9h0.8v0.8h-0.8zM187.9 588.4h0.8v0.8h-0.8zM199.5 585.5h0.8v0.8h-0.8zM174.8 591.0h0.8v0.8h-0.8zM191.2 595.8h0.8v0.8h-0.8zM189.7 589.1h0.8v0.8h-0.8zM182.6 588.7h0.8v0.8h-0.8zM202.6 589.8h0.8v0.8h-0.8zM178.4 591.8h0.8v0.8h-0.8zM188.9 590.5h0.8v0.8h-0.8zM189.3 592.4h0.8v0.8h-0.8zM170.9 584.4h0.8v0.8h-0.8zM177.1 597.0h0.8v0.8h-0.8zM180.8 593.4h0.8v0.8h-0.8zM195.0 587.8h0.8v0.8h-0.8zM196.3 596.5h0.8v0.8h-0.8zM193.5 592.9h0.8v0.8h-0.8zM190.6 596.9h0.8v0.8h-0.8zM170.9 586.6h0.8v0.8h-0.8zM190.4 597.7h0.8v0.8h-0.8zM184.5 591.3h0.8v0.8h-0.8zM198.1 583.1h0.8v0.8h-0.8zM199.5 594.1h0.8v0.8h-0.8zM206.8 590.0h0.8v0.8h-0.8zM194.4 587.2h0.8v0.8h-0.8zM195.2 590.3h0.8v0.8h-0.8zM180.3 583.6h0.8v0.8h-0.8zM189.3 593.4h0.8v0.8h-0.8zM178.6 590.3h0.8v0.8h-0.8zM195.9 590.1h0.8v0.8h-0.8zM179.0 596.7h0.8v0.8h-0.8zM186.9 591.3h0.8v0.8h-0.8zM182.0 588.6h0.8v0.8h-0.8zM184.8 587.4h0.8v0.8h-0.8zM192.3 590.9h0.8v0.8h-0.8zM184.1 595.3h0.8v0.8h-0.8zM190.4 588.9h0.8v0.8h-0.8zM180.5 587.1h0.8v0.8h-0.8zM199.9 594.8h0.8v0.8h-0.8zM183.4 591.4h0.8v0.8h-0.8zM196.8 591.1h0.8v0.8h-0.8zM205.9 599.3h0.8v0.8h-0.8zM168.9 586.4h0.8v0.8h-0.8zM180.6 591.9h0.8v0.8h-0.8zM186.9 584.2h0.8v0.8h-0.8zM198.1 590.0h0.8v0.8h-0.8zM184.7 593.5h0.8v0.8h-0.8zM191.7 595.6h0.8v0.8h-0.8zM182.7 586.2h0.8v0.8h-0.8zM193.2 594.4h0.8v0.8h-0.8zM178.7 594.2h0.8v0.8h-0.8zM195.4 590.7h0.8v0.8h-0.8zM164.3 600.8h0.8v0.8h-0.8zM173.2 591.2h0.8v0.8h-0.8zM203.4 587.7h0.8v0.8h-0.8zM190.0 592.8h0.8v0.8h-0.8zM181.3 583.9h0.8v0.8h-0.8zM206.5 597.3h0.8v0.8h-0.8zM197.1 595.0h0.8v0.8h-0.8zM197.8 589.6h0.8v0.8h-0.8zM185.1 593.6h0.8v0.8h-0.8zM193.6 593.3h0.8v0.8h-0.8zM192.7 598.7h0.8v0.8h-0.8zM175.1 588.8h0.8v0.8h-0.8zM193.4 586.1h0.8v0.8h-0.8zM187.1 583.2h0.8v0.8h-0.8zM199.1 590.0h0.8v0.8h-0.8zM199.2 585.0h0.8v0.8h-0.8zM183.3 590.5h0.8v0.8h-0.8zM183.7 592.8h0.8v0.8h-0.8zM190.1 589.4h0.8v0.8h-0.8zM193.9 587.5h0.8v0.8h-0.8zM185.2 595.8h0.8v0.8h-0.8zM187.6 590.4h0.8v0.8h-0.8zM193.5 592.1h0.8v0.8h-0.8zM192.0 594.9h0.8v0.8h-0.8zM198.1 586.1h0.8v0.8h-0.8zM190.5 587.5h0.8v0.8h-0.8zM181.3 600.9h0.8v0.8h-0.8zM174.2 590.5h0.8v0.8h-0.8zM195.2 587.1h0.8v0.8h-0.8zM185.8 590.2h0.8v0.8h-0.8zM185.7 588.9h0.8v0.8h-0.8zM186.2 586.3h0.8v0.8h-0.8zM175.7 589.6h0.8v0.8h-0.8zM185.4 591.1h0.8v0.8h-0.8zM167.3 591.1h0.8v0.8h-0.8zM185.3 593.3h0.8v0.8h-0.8zM181.2 584.4h0.8v0.8h-0.8zM203.6 585.3h0.8v0.8h-0.8zM192.2 594.2h0.8v0.8h-0.8zM186.8 589.4h0.8v0.8h-0.8zM189.9 595.9h0.8v0.8h-0.8zM194.5 592.3h0.8v0.8h-0.8zM182.3 585.6h0.8v0.8h-0.8zM186.7 593.3h0.8v0.8h-0.8zM185.6 587.2h0.8v0.8h-0.8zM208.9 592.2h0.8v0.8h-0.8zM189.1 596.0h0.8v0.8h-0.8zM172.4 599.4h0.8v0.8h-0.8zM195.1 590.9h0.8v0.8h-0.8zM209.7 593.9h0.8v0.8h-0.8zM180.7 592.3h0.8v0.8h-0.8zM217.1 594.2h0.8v0.8h-0.8zM188.0 581.2h0.8v0.8h-0.8zM196.7 589.6h0.8v0.8h-0.8zM183.9 592.3h0.8v0.8h-0.8zM186.3 593.0h0.8v0.8h-0.8zM178.4 588.2h0.8v0.8h-0.8zM179.8 594.4h0.8v0.8h-0.8zM170.9 595.5h0.8v0.8h-0.8zM197.9 591.4h0.8v0.8h-0.8zM179.1 590.3h0.8v0.8h-0.8zM191.6 589.8h0.8v0.8h-0.8zM191.2 591.7h0.8v0.8h-0.8zM183.2 595.8h0.8v0.8h-0.8zM188.9 597.0h0.8v0.8h-0.8zM187.7 589.3h0.8v0.8h-0.8zM184.4 587.5h0.8v0.8h-0.8zM188.9 588.1h0.8v0.8h-0.8zM188.9 595.0h0.8v0.8h-0.8zM180.1 592.0h0.8v0.8h-0.8zM177.8 592.3h0.8v0.8h-0.8zM181.5 593.0h0.8v0.8h-0.8zM189.5 592.6h0.8v0.8h-0.8zM199.9 590.7h0.8v0.8h-0.8zM200.6 587.1h0.8v0.8h-0.8zM191.1 588.7h0.8v0.8h-0.8zM196.3 591.6h0.8v0.8h-0.8zM189.5 592.7h0.8v0.8h-0.8zM197.6 589.7h0.8v0.8h-0.8zM189.5 589.5h0.8v0.8h-0.8zM191.7 596.5h0.8v0.8h-0.8zM186.1 589.3h0.8v0.8h-0.8zM188.4 592.0h0.8v0.8h-0.8zM204.1 589.9h0.8v0.8h-0.8zM178.6 587.8h0.8v0.8h-0.8zM188.5 585.2h0.8v0.8h-0.8zM183.6 589.1h0.8v0.8h-0.8zM196.4 588.0h0.8v0.8h-0.8zM203.5 594.5h0.8v0.8h-0.8zM185.9 586.7h0.8v0.8h-0.8zM165.6 589.6h0.8v0.8h-0.8zM193.5 593.7h0.8v0.8h-0.8zM193.6 590.7h0.8v0.8h-0.8zM174.5 593.1h0.8v0.8h-0.8zM186.5 594.4h0.8v0.8h-0.8zM187.9 584.7h0.8v0.8h-0.8zM169.3 589.6h0.8v0.8h-0.8zM194.0 587.4h0.8v0.8h-0.8zM192.1 596.4h0.8v0.8h-0.8zM190.4 590.7h0.8v0.8h-0.8zM179.7 593.1h0.8v0.8h-0.8zM182.6 597.8h0.8v0.8h-0.8zM183.2 589.8h0.8v0.8h-0.8zM192.4 591.4h0.8v0.8h-0.8zM180.3 592.7h0.8v0.8h-0.8zM200.6 590.1h0.8v0.8h-0.8zM191.6 596.0h0.8v0.8h-0.8zM170.4 594.3h0.8v0.8h-0.8zM202.4 595.0h0.8v0.8h-0.8zM189.7 591.3h0.8v0.8h-0.8zM183.9 589.8h0.8v0.8h-0.8zM189.3 589.8h0.8v0.8h-0.8zM173.3 589.7h0.8v0.8h-0.8zM190.0 584.8h0.8v0.8h-0.8zM168.0 592.6h0.8v0.8h-0.8zM179.9 594.3h0.8v0.8h-0.8zM199.7 591.1h0.8v0.8h-0.8zM198.9 589.2h0.8v0.8h-0.8zM185.6 591.3h0.8v0.8h-0.8zM180.4 592.0h0.8v0.8h-0.8zM196.1 592.4h0.8v0.8h-0.8zM188.0 598.1h0.8v0.8h-0.8zM190.2 587.8h0.8v0.8h-0.8zM193.6 592.6h0.8v0.8h-0.8zM179.4 593.8h0.8v0.8h-0.8zM195.0 591.5h0.8v0.8h-0.8zM170.8 590.2h0.8v0.8h-0.8zM200.5 587.2h0.8v0.8h-0.8zM175.3 588.9h0.8v0.8h-0.8zM183.1 593.9h0.8v0.8h-0.8zM182.8 596.8h0.8v0.8h-0.8zM194.4 588.6h0.8v0.8h-0.8zM194.6 593.0h0.8v0.8h-0.8zM191.3 593.2h0.8v0.8h-0.8zM192.9 595.0h0.8v0.8h-0.8zM192.3 592.1h0.8v0.8h-0.8zM187.7 592.9h0.8v0.8h-0.8zM172.4 594.6h0.8v0.8h-0.8zM169.1 586.7h0.8v0.8h-0.8zM169.2 591.3h0.8v0.8h-0.8zM187.9 584.3h0.8v0.8h-0.8zM186.4 583.6h0.8v0.8h-0.8zM187.2 588.0h0.8v0.8h-0.8zM190.2 585.2h0.8v0.8h-0.8zM186.4 593.1h0.8v0.8h-0.8zM180.0 595.0h0.8v0.8h-0.8zM175.8 590.0h0.8v0.8h-0.8zM172.5 590.6h0.8v0.8h-0.8zM198.5 590.2h0.8v0.8h-0.8zM195.9 590.1h0.8v0.8h-0.8zM177.0 591.7h0.8v0.8h-0.8zM186.0 592.5h0.8v0.8h-0.8zM192.0 589.4h0.8v0.8h-0.8zM201.6 588.1h0.8v0.8h-0.8zM183.3 589.1h0.8v0.8h-0.8zM189.7 594.2h0.8v0.8h-0.8zM197.9 589.5h0.8v0.8h-0.8zM173.8 596.7h0.8v0.8h-0.8zM182.2 590.2h0.8v0.8h-0.8zM188.0 596.4h0.8v0.8h-0.8zM182.3 586.6h0.8v0.8h-0.8zM205.9 588.5h0.8v0.8h-0.8zM195.5 593.0h0.8v0.8h-0.8zM189.9 593.0h0.8v0.8h-0.8zM180.2 590.5h0.8v0.8h-0.8zM195.5 599.0h0.8v0.8h-0.8zM193.6 591.4h0.8v0.8h-0.8zM184.0 592.2h0.8v0.8h-0.8zM184.6 589.0h0.8v0.8h-0.8zM176.0 597.5h0.8v0.8h-0.8zM187.6 594.4h0.8v0.8h-0.8zM195.5 592.7h0.8v0.8h-0.8zM196.6 584.9h0.8v0.8h-0.8zM193.1 592.5h0.8v0.8h-0.8zM195.1 589.3h0.8v0.8h-0.8zM183.3 592.6h0.8v0.8h-0.8zM184.3 594.6h0.8v0.8h-0.8zM198.3 588.3h0.8v0.8h-0.8zM192.0 592.0h0.8v0.8h-0.8zM181.6 594.5h0.8v0.8h-0.8zM192.4 591.8h0.8v0.8h-0.8zM195.2 589.9h0.8v0.8h-0.8zM194.1 587.1h0.8v0.8h-0.8zM189.1 588.6h0.8v0.8h-0.8zM183.9 586.3h0.8v0.8h-0.8zM191.6 594.9h0.8v0.8h-0.8zM202.4 591.5h0.8v0.8h-0.8zM189.5 586.5h0.8v0.8h-0.8zM182.6 591.1h0.8v0.8h-0.8zM191.1 586.2h0.8v0.8h-0.8zM177.9 578.6h0.8v0.8h-0.8zM190.1 595.7h0.8v0.8h-0.8zM185.7 595.6h0.8v0.8h-0.8zM196.2 585.5h0.8v0.8h-0.8zM189.1 588.4h0.8v0.8h-0.8zM197.0 591.9h0.8v0.8h-0.8zM207.4 589.7h0.8v0.8h-0.8zM186.4 587.9h0.8v0.8h-0.8zM181.2 589.2h0.8v0.8h-0.8zM192.0 590.2h0.8v0.8h-0.8zM187.5 589.0h0.8v0.8h-0.8zM189.4 591.9h0.8v0.8h-0.8zM183.2 590.2h0.8v0.8h-0.8zM192.8 588.2h0.8v0.8h-0.8zM188.8 591.2h0.8v0.8h-0.8zM170.2 584.8h0.8v0.8h-0.8zM186.2 596.6h0.8v0.8h-0.8zM191.0 584.5h0.8v0.8h-0.8zM198.0 590.8h0.8v0.8h-0.8zM183.4 592.4h0.8v0.8h-0.8zM181.5 592.7h0.8v0.8h-0.8zM197.8 592.1h0.8v0.8h-0.8zM183.1 595.9h0.8v0.8h-0.8zM189.1 586.8h0.8v0.8h-0.8zM192.1 590.8h0.8v0.8h-0.8zM194.3 591.7h0.8v0.8h-0.8zM188.2 589.2h0.8v0.8h-0.8zM178.9 588.8h0.8v0.8h-0.8zM196.6 596.0h0.8v0.8h-0.8zM184.6 588.4h0.8v0.8h-0.8zM183.8 589.3h0.8v0.8h-0.8zM204.9 590.1h0.8v0.8h-0.8zM195.5 590.3h0.8v0.8h-0.8zM179.4 591.7h0.8v0.8h-0.8zM184.2 590.3h0.8v0.8h-0.8zM186.1 592.5h0.8v0.8h-0.8zM181.9 591.6h0.8v0.8h-0.8zM172.2 592.9h0.8v0.8h-0.8zM194.8 596.3h0.8v0.8h-0.8zM194.6 587.9h0.8v0.8h-0.8zM190.2 597.4h0.8v0.8h-0.8zM184.8 589.4h0.8v0.8h-0.8zM189.9 593.6h0.8v0.8h-0.8zM193.5 591.7h0.8v0.8h-0.8zM179.5 590.0h0.8v0.8h-0.8zM185.4 583.6h0.8v0.8h-0.8zM183.5 597.2h0.8v0.8h-0.8zM193.9 588.2h0.8v0.8h-0.8zM190.3 588.1h0.8v0.8h-0.8zM177.4 595.1h0.8v0.8h-0.8zM183.0 591.4h0.8v0.8h-0.8zM202.8 598.3h0.8v0.8h-0.8zM180.1 597.5h0.8v0.8h-0.8zM189.4 593.8h0.8v0.8h-0.8zM182.9 592.0h0.8v0.8h-0.8zM198.5 594.0h0.8v0.8h-0.8zM187.6 586.1h0.8v0.8h-0.8zM184.5 591.7h0.8v0.8h-0.8zM178.4 591.6h0.8v0.8h-0.8zM186.1 589.3h0.8v0.8h-0.8zM195.0 592.1h0.8v0.8h-0.8zM193.7 585.6h0.8v0.8h-0.8zM177.2 594.5h0.8v0.8h-0.8zM201.1 596.0h0.8v0.8h-0.8zM186.1 586.2h0.8v0.8h-0.8zM179.4 591.6h0.8v0.8h-0.8zM189.2 596.9h0.8v0.8h-0.8zM183.0 592.7h0.8v0.8h-0.8zM183.3 587.2h0.8v0.8h-0.8zM182.9 587.3h0.8v0.8h-0.8zM187.4 594.3h0.8v0.8h-0.8zM184.0 598.0h0.8v0.8h-0.8zM173.9 587.0h0.8v0.8h-0.8zM192.4 591.2h0.8v0.8h-0.8zM183.8 588.1h0.8v0.8h-0.8zM198.0 590.0h0.8v0.8h-0.8zM192.5 592.2h0.8v0.8h-0.8zM193.2 590.9h0.8v0.8h-0.8zM189.6 588.5h0.8v0.8h-0.8zM198.8 599.0h0.8v0.8h-0.8zM185.4 590.5h0.8v0.8h-0.8zM179.9 590.4h0.8v0.8h-0.8zM191.0 595.3h0.8v0.8h-0.8zM165.6 591.1h0.8v0.8h-0.8zM185.0 590.3h0.8v0.8h-0.8zM189.9 594.7h0.8v0.8h-0.8zM184.6 587.2h0.8v0.8h-0.8zM198.5 593.9h0.8v0.8h-0.8zM193.9 595.0h0.8v0.8h-0.8zM189.0 593.6h0.8v0.8h-0.8zM184.8 590.4h0.8v0.8h-0.8zM197.1 591.0h0.8v0.8h-0.8zM182.5 584.6h0.8v0.8h-0.8zM184.6 590.6h0.8v0.8h-0.8zM194.3 592.2h0.8v0.8h-0.8zM193.0 594.3h0.8v0.8h-0.8zM204.9 591.6h0.8v0.8h-0.8zM186.3 589.6h0.8v0.8h-0.8zM172.5 587.9h0.8v0.8h-0.8zM193.5 590.9h0.8v0.8h-0.8zM198.5 591.6h0.8v0.8h-0.8zM186.7 595.6h0.8v0.8h-0.8zM200.9 591.1h0.8v0.8h-0.8zM202.8 589.2h0.8v0.8h-0.8zM182.6 590.7h0.8v0.8h-0.8zM184.1 589.3h0.8v0.8h-0.8zM177.7 590.2h0.8v0.8h-0.8zM192.5 582.8h0.8v0.8h-0.8zM194.0 585.1h0.8v0.8h-0.8zM193.1 586.6h0.8v0.8h-0.8zM177.9 592.8h0.8v0.8h-0.8zM181.7 590.8h0.8v0.8h-0.8zM176.2 591.6h0.8v0.8h-0.8zM174.7 595.4h0.8v0.8h-0.8zM176.9 587.1h0.8v0.8h-0.8zM175.0 595.4h0.8v0.8h-0.8zM186.5 592.5h0.8v0.8h-0.8zM191.5 588.4h0.8v0.8h-0.8zM193.2 596.7h0.8v0.8h-0.8zM187.9 585.7h0.8v0.8h-0.8zM182.5 586.8h0.8v0.8h-0.8zM187.9 590.3h0.8v0.8h-0.8zM192.7 592.6h0.8v0.8h-0.8zM185.6 590.3h0.8v0.8h-0.8zM188.5 583.0h0.8v0.8h-0.8zM185.5 589.9h0.8v0.8h-0.8zM183.7 590.8h0.8v0.8h-0.8zM188.3 600.6h0.8v0.8h-0.8zM178.8 596.2h0.8v0.8h-0.8zM196.7 591.5h0.8v0.8h-0.8zM175.1 587.0h0.8v0.8h-0.8zM191.8 592.3h0.8v0.8h-0.8zM176.8 586.7h0.8v0.8h-0.8zM200.5 591.8h0.8v0.8h-0.8zM195.2 592.4h0.8v0.8h-0.8zM181.3 589.6h0.8v0.8h-0.8zM184.3 592.0h0.8v0.8h-0.8zM178.7 589.8h0.8v0.8h-0.8zM187.5 588.9h0.8v0.8h-0.8zM191.4 596.8h0.8v0.8h-0.8zM209.1 593.2h0.8v0.8h-0.8zM176.7 589.9h0.8v0.8h-0.8zM198.2 588.2h0.8v0.8h-0.8zM183.2 591.7h0.8v0.8h-0.8zM190.3 593.2h0.8v0.8h-0.8zM195.2 594.3h0.8v0.8h-0.8zM192.5 596.6h0.8v0.8h-0.8zM191.5 592.8h0.8v0.8h-0.8zM186.4 586.9h0.8v0.8h-0.8zM187.9 598.7h0.8v0.8h-0.8zM189.3 595.4h0.8v0.8h-0.8zM197.9 594.2h0.8v0.8h-0.8zM175.9 596.1h0.8v0.8h-0.8zM184.0 585.5h0.8v0.8h-0.8zM177.7 589.7h0.8v0.8h-0.8zM180.1 589.1h0.8v0.8h-0.8zM181.4 595.5h0.8v0.8h-0.8zM197.0 586.6h0.8v0.8h-0.8zM205.6 589.8h0.8v0.8h-0.8zM199.2 596.7h0.8v0.8h-0.8zM178.2 593.5h0.8v0.8h-0.8zM188.6 589.6h0.8v0.8h-0.8zM178.7 598.1h0.8v0.8h-0.8zM191.7 586.1h0.8v0.8h-0.8zM198.5 592.8h0.8v0.8h-0.8zM192.8 590.2h0.8v0.8h-0.8zM195.2 593.0h0.8v0.8h-0.8zM186.8 590.0h0.8v0.8h-0.8zM171.8 587.9h0.8v0.8h-0.8zM171.7 591.9h0.8v0.8h-0.8zM187.2 586.1h0.8v0.8h-0.8zM192.7 593.0h0.8v0.8h-0.8zM198.4 589.9h0.8v0.8h-0.8zM185.1 594.5h0.8v0.8h-0.8zM188.6 589.4h0.8v0.8h-0.8zM190.1 588.5h0.8v0.8h-0.8zM196.7 592.5h0.8v0.8h-0.8zM187.4 595.7h0.8v0.8h-0.8zM179.0 583.3h0.8v0.8h-0.8zM196.9 591.5h0.8v0.8h-0.8zM191.4 593.4h0.8v0.8h-0.8zM191.1 585.7h0.8v0.8h-0.8zM177.5 587.7h0.8v0.8h-0.8zM187.9 593.5h0.8v0.8h-0.8zM173.9 587.9h0.8v0.8h-0.8zM171.5 588.7h0.8v0.8h-0.8zM186.0 597.5h0.8v0.8h-0.8zM184.4 587.5h0.8v0.8h-0.8zM192.7 587.8h0.8v0.8h-0.8zM199.8 582.4h0.8v0.8h-0.8zM187.7 586.9h0.8v0.8h-0.8zM202.7 586.4h0.8v0.8h-0.8zM183.2 597.5h0.8v0.8h-0.8zM194.3 595.6h0.8v0.8h-0.8zM177.6 586.3h0.8v0.8h-0.8zM189.0 598.4h0.8v0.8h-0.8zM185.4 593.9h0.8v0.8h-0.8zM186.3 590.4h0.8v0.8h-0.8zM192.8 594.1h0.8v0.8h-0.8zM172.5 592.5h0.8v0.8h-0.8zM188.9 588.2h0.8v0.8h-0.8zM181.3 584.4h0.8v0.8h-0.8zM189.0 587.6h0.8v0.8h-0.8zM191.2 591.0h0.8v0.8h-0.8zM184.9 589.7h0.8v0.8h-0.8zM184.9 588.3h0.8v0.8h-0.8zM178.5 594.7h0.8v0.8h-0.8zM192.5 587.0h0.8v0.8h-0.8zM182.5 594.4h0.8v0.8h-0.8zM191.6 589.2h0.8v0.8h-0.8zM176.3 591.4h0.8v0.8h-0.8zM199.2 586.8h0.8v0.8h-0.8zM179.6 591.0h0.8v0.8h-0.8zM197.5 588.1h0.8v0.8h-0.8zM184.3 584.5h0.8v0.8h-0.8zM192.5 591.0h0.8v0.8h-0.8zM186.8 590.8h0.8v0.8h-0.8zM193.6 594.1h0.8v0.8h-0.8zM188.0 592.1h0.8v0.8h-0.8zM198.4 587.2h0.8v0.8h-0.8zM193.5 588.7h0.8v0.8h-0.8zM193.6 581.7h0.8v0.8h-0.8z" fill="#444"/>
</g>
<line x1="48.0" y1="422.3" x2="130.0" y2="422.3" stroke="#4a4a4a" stroke-width="1.1"/>
<line x1="130.0" y1="422.3" x2="130.0" y2="504.6" stroke="#4a4a4a" stroke-width="1.1"/>
<line x1="48.0" y1="422.3" x2="48.0" y2="504.6" stroke="#222" stroke-width="1.1"/>
<line x1="48.0" y1="504.6" x2="130.0" y2="504.6" stroke="#222" stroke-width="1.1"/>
<line x1="98.7" y1="422.3" x2="98.7" y2="504.6" stroke="#4a4a4a" stroke-width="1.1"/>
<line x1="48.0" y1="470.5" x2="130.0" y2="470.5" stroke="#4a4a4a" stroke-width="1.1"/>
<text x="46.7" y="431.40000000000003" font-size="4.8" text-anchor="end" fill="#333" stroke="#333" style="stroke-width:0.15px">10⁴</text>
<line x1="46.5" y1="429.90000000000003" x2="48.0" y2="429.90000000000003" stroke="#222" stroke-width="0.9"/>
<text x="46.7" y="450.50000000000006" font-size="4.8" text-anchor="end" fill="#333" stroke="#333" style="stroke-width:0.15px">10³</text>
<line x1="46.5" y1="449.00000000000006" x2="48.0" y2="449.00000000000006" stroke="#222" stroke-width="0.9"/>
<text x="46.7" y="469.6" font-size="4.8" text-anchor="end" fill="#333" stroke="#333" style="stroke-width:0.15px">10²</text>
<line x1="46.5" y1="468.1" x2="48.0" y2="468.1" stroke="#222" stroke-width="0.9"/>
<text x="46.7" y="488.70000000000005" font-size="4.8" text-anchor="end" fill="#333" stroke="#333" style="stroke-width:0.15px">10¹</text>
<line x1="46.5" y1="487.20000000000005" x2="48.0" y2="487.20000000000005" stroke="#222" stroke-width="0.9"/>
<text x="46.2" y="497.1" font-size="4.8" text-anchor="end" fill="#333" stroke="#333" style="stroke-width:0.15px">0</text>
<text x="57.019999999999996" y="512.0" font-size="4.8" text-anchor="middle" fill="#333" stroke="#333" style="stroke-width:0.15px">0</text>
<line x1="57.019999999999996" y1="504.6" x2="57.019999999999996" y2="506.20000000000005" stroke="#222" stroke-width="0.9"/>
<text x="65.22" y="512.0" font-size="4.8" text-anchor="middle" fill="#333" stroke="#333" style="stroke-width:0.15px">10¹</text>
<line x1="65.22" y1="504.6" x2="65.22" y2="506.20000000000005" stroke="#222" stroke-width="0.9"/>
<text x="84.08" y="512.0" font-size="4.8" text-anchor="middle" fill="#333" stroke="#333" style="stroke-width:0.15px">10²</text>
<line x1="84.08" y1="504.6" x2="84.08" y2="506.20000000000005" stroke="#222" stroke-width="0.9"/>
<text x="102.94" y="512.0" font-size="4.8" text-anchor="middle" fill="#333" stroke="#333" style="stroke-width:0.15px">10³</text>
<line x1="102.94" y1="504.6" x2="102.94" y2="506.20000000000005" stroke="#222" stroke-width="0.9"/>
<text x="121.8" y="512.0" font-size="4.8" text-anchor="middle" fill="#333" stroke="#333" style="stroke-width:0.15px">10⁴</text>
<line x1="121.8" y1="504.6" x2="121.8" y2="506.20000000000005" stroke="#222" stroke-width="0.9"/>
<path d="M49.5 504.6v1M52.5 504.6v1M55.5 504.6v1M58.5 504.6v1M61.5 504.6v1M64.5 504.6v1M67.5 504.6v1M70.5 504.6v1M73.5 504.6v1M76.5 504.6v1M79.5 504.6v1M82.5 504.6v1M85.5 504.6v1M88.5 504.6v1M91.5 504.6v1M94.5 504.6v1M97.5 504.6v1M100.5 504.6v1M103.5 504.6v1M106.5 504.6v1M109.5 504.6v1M112.5 504.6v1M115.5 504.6v1M118.5 504.6v1M121.5 504.6v1M124.5 504.6v1M127.5 504.6v1M48.0 423.8h-1M48.0 426.8h-1M48.0 429.8h-1M48.0 432.8h-1M48.0 435.8h-1M48.0 438.8h-1M48.0 441.8h-1M48.0 444.8h-1M48.0 447.8h-1M48.0 450.8h-1M48.0 453.8h-1M48.0 456.8h-1M48.0 459.8h-1M48.0 462.8h-1M48.0 465.8h-1M48.0 468.8h-1M48.0 471.8h-1M48.0 474.8h-1M48.0 477.8h-1M48.0 480.8h-1M48.0 483.8h-1M48.0 486.8h-1M48.0 489.8h-1M48.0 492.8h-1M48.0 495.8h-1M48.0 498.8h-1M48.0 501.8h-1" stroke="#444" stroke-width="0.7"/>
<line x1="151.5" y1="422.4" x2="234.2" y2="422.4" stroke="#4a4a4a" stroke-width="1.1"/>
<line x1="234.2" y1="422.4" x2="234.2" y2="505.4" stroke="#4a4a4a" stroke-width="1.1"/>
<line x1="151.5" y1="422.4" x2="151.5" y2="505.4" stroke="#222" stroke-width="1.1"/>
<line x1="151.5" y1="505.4" x2="234.2" y2="505.4" stroke="#222" stroke-width="1.1"/>
<line x1="202.7" y1="422.4" x2="202.7" y2="505.4" stroke="#4a4a4a" stroke-width="1.1"/>
<line x1="151.5" y1="471.0" x2="234.2" y2="471.0" stroke="#4a4a4a" stroke-width="1.1"/>
<text x="150.2" y="431.5" font-size="4.8" text-anchor="end" fill="#333" stroke="#333" style="stroke-width:0.15px">10⁴</text>
<line x1="150.0" y1="430.0" x2="151.5" y2="430.0" stroke="#222" stroke-width="0.9"/>
<text x="150.2" y="450.8333333333333" font-size="4.8" text-anchor="end" fill="#333" stroke="#333" style="stroke-width:0.15px">10³</text>
<line x1="150.0" y1="449.3333333333333" x2="151.5" y2="449.3333333333333" stroke="#222" stroke-width="0.9"/>
<text x="150.2" y="470.1666666666667" font-size="4.8" text-anchor="end" fill="#333" stroke="#333" style="stroke-width:0.15px">10²</text>
<line x1="150.0" y1="468.6666666666667" x2="151.5" y2="468.6666666666667" stroke="#222" stroke-width="0.9"/>
<text x="150.2" y="489.5" font-size="4.8" text-anchor="end" fill="#333" stroke="#333" style="stroke-width:0.15px">10¹</text>
<line x1="150.0" y1="488.0" x2="151.5" y2="488.0" stroke="#222" stroke-width="0.9"/>
<text x="149.7" y="497.9" font-size="4.8" text-anchor="end" fill="#333" stroke="#333" style="stroke-width:0.15px">0</text>
<text x="160.597" y="512.8" font-size="4.8" text-anchor="middle" fill="#333" stroke="#333" style="stroke-width:0.15px">0</text>
<line x1="160.597" y1="505.4" x2="160.597" y2="507.0" stroke="#222" stroke-width="0.9"/>
<text x="168.867" y="512.8" font-size="4.8" text-anchor="middle" fill="#333" stroke="#333" style="stroke-width:0.15px">10¹</text>
<line x1="168.867" y1="505.4" x2="168.867" y2="507.0" stroke="#222" stroke-width="0.9"/>
<text x="187.888" y="512.8" font-size="4.8" text-anchor="middle" fill="#333" stroke="#333" style="stroke-width:0.15px">10²</text>
<line x1="187.888" y1="505.4" x2="187.888" y2="507.0" stroke="#222" stroke-width="0.9"/>
<text x="206.909" y="512.8" font-size="4.8" text-anchor="middle" fill="#333" stroke="#333" style="stroke-width:0.15px">10³</text>
<line x1="206.909" y1="505.4" x2="206.909" y2="507.0" stroke="#222" stroke-width="0.9"/>
<text x="225.93" y="512.8" font-size="4.8" text-anchor="middle" fill="#333" stroke="#333" style="stroke-width:0.15px">10⁴</text>
<line x1="225.93" y1="505.4" x2="225.93" y2="507.0" stroke="#222" stroke-width="0.9"/>
<path d="M153.0 505.4v1M156.0 505.4v1M159.0 505.4v1M162.0 505.4v1M165.0 505.4v1M168.0 505.4v1M171.0 505.4v1M174.0 505.4v1M177.0 505.4v1M180.0 505.4v1M183.0 505.4v1M186.0 505.4v1M189.0 505.4v1M192.0 505.4v1M195.0 505.4v1M198.0 505.4v1M201.0 505.4v1M204.0 505.4v1M207.0 505.4v1M210.0 505.4v1M213.0 505.4v1M216.0 505.4v1M219.0 505.4v1M222.0 505.4v1M225.0 505.4v1M228.0 505.4v1M231.0 505.4v1M151.5 423.9h-1M151.5 426.9h-1M151.5 429.9h-1M151.5 432.9h-1M151.5 435.9h-1M151.5 438.9h-1M151.5 441.9h-1M151.5 444.9h-1M151.5 447.9h-1M151.5 450.9h-1M151.5 453.9h-1M151.5 456.9h-1M151.5 459.9h-1M151.5 462.9h-1M151.5 465.9h-1M151.5 468.9h-1M151.5 471.9h-1M151.5 474.9h-1M151.5 477.9h-1M151.5 480.9h-1M151.5 483.9h-1M151.5 486.9h-1M151.5 489.9h-1M151.5 492.9h-1M151.5 495.9h-1M151.5 498.9h-1M151.5 501.9h-1" stroke="#444" stroke-width="0.7"/>
<line x1="48.0" y1="531.0" x2="130.2" y2="531.0" stroke="#4a4a4a" stroke-width="1.1"/>
<line x1="130.2" y1="531.0" x2="130.2" y2="614.2" stroke="#4a4a4a" stroke-width="1.1"/>
<line x1="48.0" y1="531.0" x2="48.0" y2="614.2" stroke="#222" stroke-width="1.1"/>
<line x1="48.0" y1="614.2" x2="130.2" y2="614.2" stroke="#222" stroke-width="1.1"/>
<line x1="99.1" y1="531.0" x2="99.1" y2="614.2" stroke="#4a4a4a" stroke-width="1.1"/>
<line x1="48.0" y1="579.4" x2="130.2" y2="579.4" stroke="#4a4a4a" stroke-width="1.1"/>
<text x="46.7" y="540.1" font-size="4.8" text-anchor="end" fill="#333" stroke="#333" style="stroke-width:0.15px">10⁴</text>
<line x1="46.5" y1="538.6" x2="48.0" y2="538.6" stroke="#222" stroke-width="0.9"/>
<text x="46.7" y="559.5" font-size="4.8" text-anchor="end" fill="#333" stroke="#333" style="stroke-width:0.15px">10³</text>
<line x1="46.5" y1="558.0" x2="48.0" y2="558.0" stroke="#222" stroke-width="0.9"/>
<text x="46.7" y="578.9000000000001" font-size="4.8" text-anchor="end" fill="#333" stroke="#333" style="stroke-width:0.15px">10²</text>
<line x1="46.5" y1="577.4000000000001" x2="48.0" y2="577.4000000000001" stroke="#222" stroke-width="0.9"/>
<text x="46.7" y="598.3000000000001" font-size="4.8" text-anchor="end" fill="#333" stroke="#333" style="stroke-width:0.15px">10¹</text>
<line x1="46.5" y1="596.8000000000001" x2="48.0" y2="596.8000000000001" stroke="#222" stroke-width="0.9"/>
<text x="46.2" y="606.7" font-size="4.8" text-anchor="end" fill="#333" stroke="#333" style="stroke-width:0.15px">0</text>
<text x="57.042" y="621.6" font-size="4.8" text-anchor="middle" fill="#333" stroke="#333" style="stroke-width:0.15px">0</text>
<line x1="57.042" y1="614.2" x2="57.042" y2="615.8000000000001" stroke="#222" stroke-width="0.9"/>
<text x="65.262" y="621.6" font-size="4.8" text-anchor="middle" fill="#333" stroke="#333" style="stroke-width:0.15px">10¹</text>
<line x1="65.262" y1="614.2" x2="65.262" y2="615.8000000000001" stroke="#222" stroke-width="0.9"/>
<text x="84.16799999999999" y="621.6" font-size="4.8" text-anchor="middle" fill="#333" stroke="#333" style="stroke-width:0.15px">10²</text>
<line x1="84.16799999999999" y1="614.2" x2="84.16799999999999" y2="615.8000000000001" stroke="#222" stroke-width="0.9"/>
<text x="103.074" y="621.6" font-size="4.8" text-anchor="middle" fill="#333" stroke="#333" style="stroke-width:0.15px">10³</text>
<line x1="103.074" y1="614.2" x2="103.074" y2="615.8000000000001" stroke="#222" stroke-width="0.9"/>
<text x="121.97999999999999" y="621.6" font-size="4.8" text-anchor="middle" fill="#333" stroke="#333" style="stroke-width:0.15px">10⁴</text>
<line x1="121.97999999999999" y1="614.2" x2="121.97999999999999" y2="615.8000000000001" stroke="#222" stroke-width="0.9"/>
<path d="M49.5 614.2v1M52.5 614.2v1M55.5 614.2v1M58.5 614.2v1M61.5 614.2v1M64.5 614.2v1M67.5 614.2v1M70.5 614.2v1M73.5 614.2v1M76.5 614.2v1M79.5 614.2v1M82.5 614.2v1M85.5 614.2v1M88.5 614.2v1M91.5 614.2v1M94.5 614.2v1M97.5 614.2v1M100.5 614.2v1M103.5 614.2v1M106.5 614.2v1M109.5 614.2v1M112.5 614.2v1M115.5 614.2v1M118.5 614.2v1M121.5 614.2v1M124.5 614.2v1M127.5 614.2v1M48.0 532.5h-1M48.0 535.5h-1M48.0 538.5h-1M48.0 541.5h-1M48.0 544.5h-1M48.0 547.5h-1M48.0 550.5h-1M48.0 553.5h-1M48.0 556.5h-1M48.0 559.5h-1M48.0 562.5h-1M48.0 565.5h-1M48.0 568.5h-1M48.0 571.5h-1M48.0 574.5h-1M48.0 577.5h-1M48.0 580.5h-1M48.0 583.5h-1M48.0 586.5h-1M48.0 589.5h-1M48.0 592.5h-1M48.0 595.5h-1M48.0 598.5h-1M48.0 601.5h-1M48.0 604.5h-1M48.0 607.5h-1M48.0 610.5h-1" stroke="#444" stroke-width="0.7"/>
<line x1="149.9" y1="532.6" x2="231.6" y2="532.6" stroke="#4a4a4a" stroke-width="1.1"/>
<line x1="231.6" y1="532.6" x2="231.6" y2="615.6" stroke="#4a4a4a" stroke-width="1.1"/>
<line x1="149.9" y1="532.6" x2="149.9" y2="615.6" stroke="#222" stroke-width="1.1"/>
<line x1="149.9" y1="615.6" x2="231.6" y2="615.6" stroke="#222" stroke-width="1.1"/>
<line x1="200.7" y1="532.6" x2="200.7" y2="615.6" stroke="#4a4a4a" stroke-width="1.1"/>
<line x1="149.9" y1="581.3" x2="231.6" y2="581.3" stroke="#4a4a4a" stroke-width="1.1"/>
<text x="148.6" y="541.7" font-size="4.8" text-anchor="end" fill="#333" stroke="#333" style="stroke-width:0.15px">10⁴</text>
<line x1="148.4" y1="540.2" x2="149.9" y2="540.2" stroke="#222" stroke-width="0.9"/>
<text x="148.6" y="561.0333333333334" font-size="4.8" text-anchor="end" fill="#333" stroke="#333" style="stroke-width:0.15px">10³</text>
<line x1="148.4" y1="559.5333333333334" x2="149.9" y2="559.5333333333334" stroke="#222" stroke-width="0.9"/>
<text x="148.6" y="580.3666666666667" font-size="4.8" text-anchor="end" fill="#333" stroke="#333" style="stroke-width:0.15px">10²</text>
<line x1="148.4" y1="578.8666666666667" x2="149.9" y2="578.8666666666667" stroke="#222" stroke-width="0.9"/>
<text x="148.6" y="599.7" font-size="4.8" text-anchor="end" fill="#333" stroke="#333" style="stroke-width:0.15px">10¹</text>
<line x1="148.4" y1="598.2" x2="149.9" y2="598.2" stroke="#222" stroke-width="0.9"/>
<text x="148.1" y="608.1" font-size="4.8" text-anchor="end" fill="#333" stroke="#333" style="stroke-width:0.15px">0</text>
<text x="158.887" y="623.0" font-size="4.8" text-anchor="middle" fill="#333" stroke="#333" style="stroke-width:0.15px">0</text>
<line x1="158.887" y1="615.6" x2="158.887" y2="617.2" stroke="#222" stroke-width="0.9"/>
<text x="167.05700000000002" y="623.0" font-size="4.8" text-anchor="middle" fill="#333" stroke="#333" style="stroke-width:0.15px">10¹</text>
<line x1="167.05700000000002" y1="615.6" x2="167.05700000000002" y2="617.2" stroke="#222" stroke-width="0.9"/>
<text x="185.848" y="623.0" font-size="4.8" text-anchor="middle" fill="#333" stroke="#333" style="stroke-width:0.15px">10²</text>
<line x1="185.848" y1="615.6" x2="185.848" y2="617.2" stroke="#222" stroke-width="0.9"/>
<text x="204.639" y="623.0" font-size="4.8" text-anchor="middle" fill="#333" stroke="#333" style="stroke-width:0.15px">10³</text>
<line x1="204.639" y1="615.6" x2="204.639" y2="617.2" stroke="#222" stroke-width="0.9"/>
<text x="223.43" y="623.0" font-size="4.8" text-anchor="middle" fill="#333" stroke="#333" style="stroke-width:0.15px">10⁴</text>
<line x1="223.43" y1="615.6" x2="223.43" y2="617.2" stroke="#222" stroke-width="0.9"/>
<path d="M151.4 615.6v1M154.4 615.6v1M157.4 615.6v1M160.4 615.6v1M163.4 615.6v1M166.4 615.6v1M169.4 615.6v1M172.4 615.6v1M175.4 615.6v1M178.4 615.6v1M181.4 615.6v1M184.4 615.6v1M187.4 615.6v1M190.4 615.6v1M193.4 615.6v1M196.4 615.6v1M199.4 615.6v1M202.4 615.6v1M205.4 615.6v1M208.4 615.6v1M211.4 615.6v1M214.4 615.6v1M217.4 615.6v1M220.4 615.6v1M223.4 615.6v1M226.4 615.6v1M229.4 615.6v1M149.9 534.1h-1M149.9 537.1h-1M149.9 540.1h-1M149.9 543.1h-1M149.9 546.1h-1M149.9 549.1h-1M149.9 552.1h-1M149.9 555.1h-1M149.9 558.1h-1M149.9 561.1h-1M149.9 564.1h-1M149.9 567.1h-1M149.9 570.1h-1M149.9 573.1h-1M149.9 576.1h-1M149.9 579.1h-1M149.9 582.1h-1M149.9 585.1h-1M149.9 588.1h-1M149.9 591.1h-1M149.9 594.1h-1M149.9 597.1h-1M149.9 600.1h-1M149.9 603.1h-1M149.9 606.1h-1M149.9 609.1h-1M149.9 612.1h-1" stroke="#444" stroke-width="0.7"/>
<text x="48.7" y="431.1" font-size="8.8" font-weight="bold" textLength="18.3" lengthAdjust="spacingAndGlyphs">1.37</text>
<text x="111.0" y="431.1" font-size="8.8" font-weight="bold" textLength="17.2" lengthAdjust="spacingAndGlyphs">7.31</text>
<text x="49.3" y="504.5" font-size="8.8" font-weight="bold" textLength="18.2" lengthAdjust="spacingAndGlyphs">87.7</text>
<text x="110.2" y="504.5" font-size="8.8" font-weight="bold" textLength="18.3" lengthAdjust="spacingAndGlyphs">3.65</text>
<text x="152.7" y="431.3" font-size="8.8" font-weight="bold" textLength="18.3" lengthAdjust="spacingAndGlyphs">8.87</text>
<text x="213.4" y="431.3" font-size="8.8" font-weight="bold" textLength="18.8" lengthAdjust="spacingAndGlyphs">4.34</text>
<text x="152.8" y="504.4" font-size="8.8" font-weight="bold" textLength="19.1" lengthAdjust="spacingAndGlyphs">86.6</text>
<text x="214.6" y="504.4" font-size="8.8" font-weight="bold" textLength="18.4" lengthAdjust="spacingAndGlyphs">0.19</text>
<text x="49.3" y="540.4" font-size="8.8" font-weight="bold" textLength="18.2" lengthAdjust="spacingAndGlyphs">6.95</text>
<text x="111.0" y="540.4" font-size="8.8" font-weight="bold" textLength="17.5" lengthAdjust="spacingAndGlyphs">41.5</text>
<text x="49.3" y="613.9" font-size="9.0" textLength="18.5" lengthAdjust="spacingAndGlyphs" style="stroke-width:0.4px">49.6</text>
<text x="110.2" y="613.9" font-size="9.0" textLength="18.0" lengthAdjust="spacingAndGlyphs" style="stroke-width:0.4px">2.02</text>
<text x="150.7" y="542.1" font-size="8.8" font-weight="bold" textLength="18.3" lengthAdjust="spacingAndGlyphs">1.69</text>
<text x="212.4" y="542.1" font-size="8.8" font-weight="bold" textLength="18.1" lengthAdjust="spacingAndGlyphs">11.8</text>
<text x="151.3" y="614.9" font-size="8.8" font-weight="bold" textLength="18.2" lengthAdjust="spacingAndGlyphs">81.2</text>
<text x="211.9" y="614.9" font-size="8.8" font-weight="bold" textLength="18.6" lengthAdjust="spacingAndGlyphs">5.36</text>
<text transform="translate(27.8,603.2) rotate(-90)" font-size="13.5" textLength="11.8" lengthAdjust="spacingAndGlyphs" style="stroke-width:0.49px">PI</text>
<line x1="23" y1="644.5" x2="23" y2="619" stroke="#000" stroke-width="1.5"/>
<line x1="23" y1="643.75" x2="43.5" y2="643.75" stroke="#000" stroke-width="1.5"/>
<path d="M20.2 620.5 L23 615 L25.8 620.5 Z" fill="#000"/>
<path d="M42.0 640.95 L47.5 643.75 L42.0 646.55 Z" fill="#000"/>
<text x="57" y="646.3" font-size="13" textLength="54.25" lengthAdjust="spacingAndGlyphs" style="stroke-width:0.47px">AnnexinV</text>
<line x1="305.95" y1="581.4" x2="305.95" y2="574.4" stroke="#555" stroke-width="1"/>
<line x1="303.84999999999997" y1="574.4" x2="308.05" y2="574.4" stroke="#555" stroke-width="1.4"/>
<rect x="297.7" y="581.9" width="16.5" height="18.800000000000068" fill="#c4c4c4" stroke="#444" stroke-width="1"/>
<line x1="323.85" y1="580.4" x2="323.85" y2="575.4" stroke="#555" stroke-width="1"/>
<line x1="321.75" y1="575.4" x2="325.95000000000005" y2="575.4" stroke="#555" stroke-width="1.4"/>
<rect x="314.7" y="580.4" width="18.30000000000001" height="20.300000000000068" fill="#000"/>
<line x1="359.25" y1="491.2" x2="359.25" y2="462.1" stroke="#555" stroke-width="1"/>
<line x1="357.15" y1="462.1" x2="361.35" y2="462.1" stroke="#555" stroke-width="1.4"/>
<rect x="351.0" y="491.7" width="16.5" height="109.00000000000006" fill="#c4c4c4" stroke="#444" stroke-width="1"/>
<line x1="376.8" y1="534.7" x2="376.8" y2="523.5" stroke="#555" stroke-width="1"/>
<line x1="374.7" y1="523.5" x2="378.90000000000003" y2="523.5" stroke="#555" stroke-width="1.4"/>
<rect x="368" y="534.7" width="17.600000000000023" height="66.0" fill="#000"/>
<line x1="288.6" y1="429.4" x2="394.4" y2="429.4" stroke="#666" stroke-width="1"/>
<line x1="394.4" y1="429.4" x2="394.4" y2="600.7" stroke="#666" stroke-width="1"/>
<line x1="288.6" y1="429.4" x2="288.6" y2="600.7" stroke="#333" stroke-width="1.2"/>
<line x1="288.1" y1="600.7" x2="394.9" y2="600.7" stroke="#111" stroke-width="1.2"/>
<line x1="286.1" y1="600.7" x2="288.6" y2="600.7" stroke="#333" stroke-width="1"/>
<line x1="286.1" y1="566.44" x2="288.6" y2="566.44" stroke="#333" stroke-width="1"/>
<line x1="286.1" y1="532.1800000000001" x2="288.6" y2="532.1800000000001" stroke="#333" stroke-width="1"/>
<line x1="286.1" y1="497.92" x2="288.6" y2="497.92" stroke="#333" stroke-width="1"/>
<line x1="286.1" y1="463.65999999999997" x2="288.6" y2="463.65999999999997" stroke="#333" stroke-width="1"/>
<line x1="286.1" y1="429.4" x2="288.6" y2="429.4" stroke="#333" stroke-width="1"/>
<text x="285.2" y="604.7" font-size="11" font-weight="bold" text-anchor="end">0</text>
<text x="285.2" y="570.44" font-size="11" font-weight="bold" text-anchor="end">10</text>
<text x="285.2" y="536.1800000000001" font-size="11" font-weight="bold" text-anchor="end">20</text>
<text x="285.2" y="501.92" font-size="11" font-weight="bold" text-anchor="end">30</text>
<text x="285.2" y="467.65999999999997" font-size="11" font-weight="bold" text-anchor="end">40</text>
<text x="285.2" y="433.4" font-size="11" font-weight="bold" text-anchor="end">50</text>
<polygon points="368.70,441.80 369.41,443.43 371.17,443.60 369.84,444.77 370.23,446.50 368.70,445.60 367.17,446.50 367.56,444.77 366.23,443.60 367.99,443.43" fill="#000" stroke="#000" stroke-width="0.5" stroke-linejoin="round"/>
<line x1="359.3" y1="450.9" x2="376.8" y2="450.9" stroke="#000" stroke-width="1.3"/>
<text x="302.9" y="617.1" font-size="11" textLength="27" lengthAdjust="spacingAndGlyphs" style="stroke-width:0.40px">naive</text>
<text x="352.3" y="617.1" font-size="11" textLength="39.8" lengthAdjust="spacingAndGlyphs" style="stroke-width:0.40px">infected</text>
<text transform="translate(264.3,614.7) rotate(-90)" font-size="14.6" textLength="199.3" lengthAdjust="spacingAndGlyphs" style="stroke-width:0.53px">% apoptotic RFP+ eosinophils</text>
</svg></body></html>
